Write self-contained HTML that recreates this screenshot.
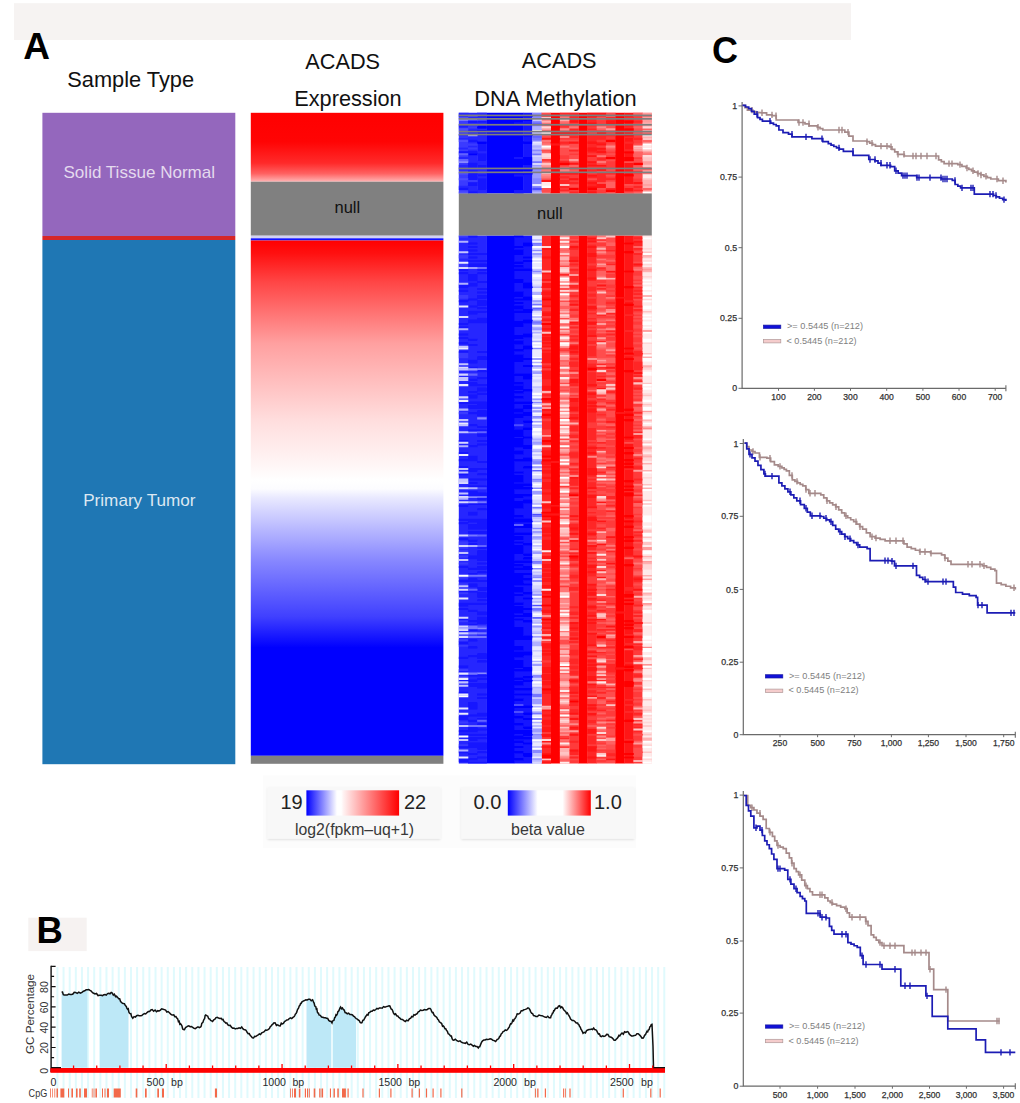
<!DOCTYPE html>
<html><head><meta charset="utf-8"><style>html,body{margin:0;padding:0;background:#fff;width:1020px;height:1103px;overflow:hidden}svg{display:block}</style></head>
<body><svg width="1020" height="1103" viewBox="0 0 1020 1103" font-family="'Liberation Sans', sans-serif"><rect x="14" y="3.2" width="837" height="36.8" fill="#f6f3f2"/><text x="23.2" y="59" font-size="37" font-weight="bold" fill="#000">A</text><text x="67.3" y="86.8" font-size="21.8" fill="#111">Sample Type</text><text x="305.3" y="68.6" font-size="21.7" fill="#111">ACADS</text><text x="294.3" y="106.2" font-size="21.7" fill="#111">Expression</text><text x="521.8" y="68.4" font-size="21.7" fill="#111">ACADS</text><text x="474.3" y="105.7" font-size="21.8" fill="#111">DNA Methylation</text><rect x="42.4" y="112.8" width="192.9" height="123.2" fill="#9467bd"/><rect x="42.4" y="236" width="192.9" height="4" fill="#d62728"/><rect x="42.4" y="240" width="192.9" height="524.2" fill="#1f77b4"/><text x="63.5" y="177.8" font-size="16.6" textLength="151.6" lengthAdjust="spacingAndGlyphs" fill="#e4daee">Solid Tissue Normal</text><text x="83.2" y="505.9" font-size="16.6" textLength="112.3" lengthAdjust="spacingAndGlyphs" fill="#dce8f2">Primary Tumor</text><defs><linearGradient id="gN" x1="0" y1="0" x2="0" y2="1"><stop offset="0" stop-color="#ff0000"/><stop offset="0.42" stop-color="#ff0404"/><stop offset="0.73" stop-color="#ff2a2a"/><stop offset="0.88" stop-color="#ff6060"/><stop offset="1" stop-color="#ffb4b4"/></linearGradient><linearGradient id="gT" gradientUnits="userSpaceOnUse" x1="0" y1="240.5" x2="0" y2="755.8"><stop offset="0" stop-color="#ff0000"/><stop offset="0.025" stop-color="#ff1010"/><stop offset="0.08" stop-color="#ff4545"/><stop offset="0.2" stop-color="#ffa0a0"/><stop offset="0.35" stop-color="#ffdede"/><stop offset="0.43" stop-color="#fff4f4"/><stop offset="0.465" stop-color="#ffffff"/><stop offset="0.482" stop-color="#fcfcff"/><stop offset="0.50" stop-color="#e8e8ff"/><stop offset="0.62" stop-color="#8888ff"/><stop offset="0.73" stop-color="#4040ff"/><stop offset="0.79" stop-color="#0000ff"/><stop offset="1" stop-color="#0000ff"/></linearGradient><linearGradient id="lg1" x1="0" y1="0" x2="1" y2="0"><stop offset="0" stop-color="#0000ff"/><stop offset="0.33" stop-color="#ffffff"/><stop offset="0.375" stop-color="#ffffff"/><stop offset="0.4" stop-color="#fff2f2"/><stop offset="1" stop-color="#ff0000"/></linearGradient><linearGradient id="lg2" x1="0" y1="0" x2="1" y2="0"><stop offset="0" stop-color="#0000ff"/><stop offset="0.36" stop-color="#ffffff"/><stop offset="0.66" stop-color="#ffffff"/><stop offset="1" stop-color="#ff0000"/></linearGradient><filter id="bl" x="-2%" y="-2%" width="104%" height="104%"><feGaussianBlur stdDeviation="0.45"/></filter><filter id="sh" x="-10%" y="-10%" width="120%" height="130%"><feDropShadow dx="0" dy="1" stdDeviation="1" flood-color="#000" flood-opacity="0.12"/></filter></defs><rect x="250.8" y="112.8" width="192.6" height="68.9" fill="url(#gN)"/><rect x="250.8" y="181.7" width="192.6" height="54" fill="#808080"/><rect x="250.8" y="235.7" width="192.6" height="2.6" fill="#d0d0f4"/><rect x="250.8" y="238.3" width="192.6" height="2.2" fill="#1010ff"/><rect x="250.8" y="240.5" width="192.6" height="515.3" fill="url(#gT)"/><rect x="250.8" y="755.8" width="192.6" height="8" fill="#808080"/><text x="334.5" y="212.9" font-size="16.5" fill="#111">null</text><g filter="url(#bl)"><path fill="#3b3bff" d="M458.8 112.8h9.49v80.7h-9.49z"/><path fill="#2727ff" d="M467.99 112.8h9.49v80.7h-9.49zM458.8 235.5h9.49v528h-9.49zM467.99 235.5h9.49v528h-9.49zM477.18 235.5h9.49v528h-9.49z"/><path fill="#1414ff" d="M477.18 112.8h9.49v80.7h-9.49zM523.13 112.8h9.49v80.7h-9.49zM513.94 235.5h9.49v528h-9.49zM523.13 235.5h9.49v528h-9.49z"/><path fill="#0000ff" d="M486.37 112.8h9.49v80.7h-9.49zM495.56 112.8h9.49v80.7h-9.49zM504.75 112.8h9.49v80.7h-9.49zM513.94 112.8h9.49v80.7h-9.49zM486.37 235.5h9.49v528h-9.49zM495.56 235.5h9.49v528h-9.49zM504.75 235.5h9.49v528h-9.49z"/><path fill="#9d9dff" d="M532.32 112.8h9.49v80.7h-9.49z"/><path fill="#ff6262" d="M541.51 112.8h9.49v80.7h-9.49z"/><path fill="#ff0000" d="M550.7 112.8h9.49v80.7h-9.49zM578.28 112.8h9.49v80.7h-9.49zM615.04 112.8h9.49v80.7h-9.49zM550.7 235.5h9.49v528h-9.49zM578.28 235.5h9.49v528h-9.49zM615.04 235.5h9.49v528h-9.49z"/><path fill="#ff3b3b" d="M559.9 112.8h9.49v80.7h-9.49zM569.09 112.8h9.49v80.7h-9.49zM605.85 112.8h9.49v80.7h-9.49zM633.42 112.8h9.49v80.7h-9.49zM569.09 235.5h9.49v528h-9.49zM633.42 235.5h9.49v528h-9.49z"/><path fill="#ff2727" d="M587.47 112.8h9.49v80.7h-9.49zM596.66 112.8h9.49v80.7h-9.49zM541.51 235.5h9.49v528h-9.49zM587.47 235.5h9.49v528h-9.49z"/><path fill="#ff1414" d="M624.23 112.8h9.49v80.7h-9.49zM624.23 235.5h9.49v528h-9.49z"/><path fill="#ff8989" d="M642.61 112.8h9.19v80.7h-9.19z"/><path fill="#b1b1ff" d="M532.32 235.5h9.49v528h-9.49z"/><path fill="#ff7676" d="M559.9 235.5h9.49v528h-9.49z"/><path fill="#ff4e4e" d="M596.66 235.5h9.49v528h-9.49zM605.85 235.5h9.49v528h-9.49z"/><path fill="#ffc4c4" d="M642.61 235.5h9.19v528h-9.19z"/><path fill="#2727ff" d="M458.8 112.8h9.49v2.22h-9.49zM477.18 112.8h9.49v2.22h-9.49zM477.18 116.64h9.49v2.22h-9.49zM477.18 122.41h9.49v2.22h-9.49zM458.8 126.25h9.49v2.22h-9.49zM477.18 128.17h9.49v2.22h-9.49zM458.8 133.94h9.49v2.22h-9.49zM477.18 135.86h9.49v2.22h-9.49zM458.8 137.78h9.49v2.22h-9.49zM477.18 137.78h9.49v2.22h-9.49zM477.18 139.7h9.49v2.22h-9.49zM458.8 147.39h9.49v2.22h-9.49zM477.18 151.23h9.49v2.22h-9.49zM458.8 156.99h9.49v2.22h-9.49zM477.18 160.84h9.49v2.22h-9.49zM477.18 162.76h9.49v2.22h-9.49zM458.8 164.68h9.49v2.22h-9.49zM458.8 166.6h9.49v2.22h-9.49zM458.8 168.52h9.49v2.22h-9.49zM477.18 168.52h9.49v2.22h-9.49zM477.18 170.44h9.49v2.22h-9.49zM477.18 172.36h9.49v2.22h-9.49zM477.18 176.21h9.49v2.22h-9.49zM458.8 185.81h9.49v2.22h-9.49zM477.18 189.66h9.49v2.22h-9.49zM477.18 191.58h9.49v1.92h-9.49z"/><path fill="#8989ff" d="M532.32 112.8h9.49v2.22h-9.49zM532.32 114.72h9.49v2.22h-9.49zM532.32 116.64h9.49v2.22h-9.49zM458.8 118.56h9.49v2.22h-9.49zM467.99 118.56h9.49v2.22h-9.49zM532.32 120.49h9.49v2.22h-9.49zM532.32 133.94h9.49v2.22h-9.49zM532.32 139.7h9.49v2.22h-9.49zM532.32 149.31h9.49v2.22h-9.49zM458.8 160.84h9.49v2.22h-9.49zM532.32 168.52h9.49v2.22h-9.49zM532.32 178.13h9.49v2.22h-9.49zM532.32 180.05h9.49v2.22h-9.49zM532.32 181.97h9.49v2.22h-9.49zM532.32 185.81h9.49v2.22h-9.49zM532.32 189.66h9.49v2.22h-9.49zM532.32 244.24h9.49v2.05h-9.49zM532.32 249.49h9.49v2.05h-9.49zM477.18 266.97h9.49v2.05h-9.49zM532.32 270.47h9.49v2.05h-9.49zM532.32 308.93h9.49v2.05h-9.49zM532.32 322.92h9.49v2.05h-9.49zM532.32 347.39h9.49v2.05h-9.49zM532.32 364.88h9.49v2.05h-9.49zM477.18 368.37h9.49v2.05h-9.49zM532.32 398.1h9.49v2.05h-9.49zM532.32 401.59h9.49v2.05h-9.49zM532.32 415.58h9.49v2.05h-9.49zM477.18 417.33h9.49v2.05h-9.49zM532.32 420.82h9.49v2.05h-9.49zM467.99 431.31h9.49v2.05h-9.49zM532.32 461.04h9.49v2.05h-9.49zM532.32 462.78h9.49v2.05h-9.49zM532.32 478.52h9.49v2.05h-9.49zM532.32 487.26h9.49v2.05h-9.49zM467.99 496h9.49v2.05h-9.49zM477.18 496h9.49v2.05h-9.49zM532.32 527.47h9.49v2.05h-9.49zM532.32 562.44h9.49v2.05h-9.49zM532.32 567.69h9.49v2.05h-9.49zM532.32 576.43h9.49v2.05h-9.49zM532.32 593.91h9.49v2.05h-9.49zM532.32 609.65h9.49v2.05h-9.49zM477.18 627.13h9.49v2.05h-9.49zM467.99 632.37h9.49v2.05h-9.49zM532.32 635.87h9.49v2.05h-9.49zM477.18 672.59h9.49v2.05h-9.49zM532.32 674.33h9.49v2.05h-9.49zM532.32 676.08h9.49v2.05h-9.49zM532.32 733.78h9.49v2.05h-9.49zM532.32 749.51h9.49v2.05h-9.49zM532.32 751.26h9.49v2.05h-9.49z"/><path fill="#ff4e4e" d="M541.51 112.8h9.49v2.22h-9.49zM605.85 112.8h9.49v2.22h-9.49zM596.66 116.64h9.49v2.22h-9.49zM596.66 118.56h9.49v2.22h-9.49zM569.09 124.33h9.49v2.22h-9.49zM596.66 124.33h9.49v2.22h-9.49zM605.85 124.33h9.49v2.22h-9.49zM633.42 124.33h9.49v2.22h-9.49zM605.85 126.25h9.49v2.22h-9.49zM633.42 128.17h9.49v2.22h-9.49zM559.9 130.09h9.49v2.22h-9.49zM633.42 130.09h9.49v2.22h-9.49zM633.42 132.01h9.49v2.22h-9.49zM541.51 135.86h9.49v2.22h-9.49zM559.9 139.7h9.49v2.22h-9.49zM569.09 139.7h9.49v2.22h-9.49zM569.09 143.54h9.49v2.22h-9.49zM605.85 143.54h9.49v2.22h-9.49zM633.42 143.54h9.49v2.22h-9.49zM569.09 145.46h9.49v2.22h-9.49zM559.9 147.39h9.49v2.22h-9.49zM541.51 149.31h9.49v2.22h-9.49zM559.9 149.31h9.49v2.22h-9.49zM605.85 149.31h9.49v2.22h-9.49zM559.9 151.23h9.49v2.22h-9.49zM569.09 151.23h9.49v2.22h-9.49zM559.9 153.15h9.49v2.22h-9.49zM605.85 153.15h9.49v2.22h-9.49zM569.09 155.07h9.49v2.22h-9.49zM569.09 156.99h9.49v2.22h-9.49zM559.9 158.91h9.49v2.22h-9.49zM605.85 158.91h9.49v2.22h-9.49zM633.42 158.91h9.49v2.22h-9.49zM569.09 160.84h9.49v2.22h-9.49zM624.23 160.84h9.49v2.22h-9.49zM633.42 160.84h9.49v2.22h-9.49zM596.66 162.76h9.49v2.22h-9.49zM633.42 164.68h9.49v2.22h-9.49zM569.09 168.52h9.49v2.22h-9.49zM605.85 168.52h9.49v2.22h-9.49zM596.66 170.44h9.49v2.22h-9.49zM605.85 174.29h9.49v2.22h-9.49zM633.42 174.29h9.49v2.22h-9.49zM633.42 176.21h9.49v2.22h-9.49zM541.51 178.13h9.49v2.22h-9.49zM587.47 178.13h9.49v2.22h-9.49zM605.85 180.05h9.49v2.22h-9.49zM596.66 181.97h9.49v2.22h-9.49zM569.09 183.89h9.49v2.22h-9.49zM624.23 183.89h9.49v2.22h-9.49zM633.42 183.89h9.49v2.22h-9.49zM569.09 185.81h9.49v2.22h-9.49zM541.51 187.74h9.49v2.22h-9.49zM596.66 187.74h9.49v2.22h-9.49zM541.51 189.66h9.49v2.22h-9.49zM605.85 191.58h9.49v1.92h-9.49zM624.23 191.58h9.49v1.92h-9.49zM569.09 239h9.49v2.05h-9.49zM569.09 242.49h9.49v2.05h-9.49zM633.42 251.24h9.49v2.05h-9.49zM633.42 261.73h9.49v2.05h-9.49zM559.9 265.22h9.49v2.05h-9.49zM569.09 266.97h9.49v2.05h-9.49zM633.42 275.71h9.49v2.05h-9.49zM633.42 277.46h9.49v2.05h-9.49zM541.51 280.96h9.49v2.05h-9.49zM633.42 280.96h9.49v2.05h-9.49zM633.42 294.94h9.49v2.05h-9.49zM569.09 298.44h9.49v2.05h-9.49zM633.42 298.44h9.49v2.05h-9.49zM559.9 300.19h9.49v2.05h-9.49zM569.09 305.43h9.49v2.05h-9.49zM633.42 307.18h9.49v2.05h-9.49zM569.09 310.68h9.49v2.05h-9.49zM569.09 312.43h9.49v2.05h-9.49zM633.42 312.43h9.49v2.05h-9.49zM633.42 315.92h9.49v2.05h-9.49zM559.9 317.67h9.49v2.05h-9.49zM633.42 319.42h9.49v2.05h-9.49zM569.09 324.67h9.49v2.05h-9.49zM633.42 324.67h9.49v2.05h-9.49zM633.42 326.41h9.49v2.05h-9.49zM569.09 328.16h9.49v2.05h-9.49zM633.42 331.66h9.49v2.05h-9.49zM569.09 333.41h9.49v2.05h-9.49zM633.42 335.16h9.49v2.05h-9.49zM633.42 342.15h9.49v2.05h-9.49zM559.9 347.39h9.49v2.05h-9.49zM633.42 347.39h9.49v2.05h-9.49zM569.09 354.39h9.49v2.05h-9.49zM633.42 370.12h9.49v2.05h-9.49zM569.09 377.12h9.49v2.05h-9.49zM559.9 382.36h9.49v2.05h-9.49zM559.9 385.86h9.49v2.05h-9.49zM569.09 385.86h9.49v2.05h-9.49zM559.9 389.35h9.49v2.05h-9.49zM633.42 389.35h9.49v2.05h-9.49zM633.42 392.85h9.49v2.05h-9.49zM569.09 396.35h9.49v2.05h-9.49zM633.42 396.35h9.49v2.05h-9.49zM633.42 410.33h9.49v2.05h-9.49zM569.09 412.08h9.49v2.05h-9.49zM633.42 417.33h9.49v2.05h-9.49zM633.42 422.57h9.49v2.05h-9.49zM633.42 426.07h9.49v2.05h-9.49zM569.09 431.31h9.49v2.05h-9.49zM559.9 438.31h9.49v2.05h-9.49zM633.42 438.31h9.49v2.05h-9.49zM624.23 441.8h9.49v2.05h-9.49zM569.09 443.55h9.49v2.05h-9.49zM633.42 447.05h9.49v2.05h-9.49zM569.09 448.8h9.49v2.05h-9.49zM633.42 452.29h9.49v2.05h-9.49zM559.9 454.04h9.49v2.05h-9.49zM633.42 455.79h9.49v2.05h-9.49zM569.09 459.29h9.49v2.05h-9.49zM569.09 461.04h9.49v2.05h-9.49zM633.42 462.78h9.49v2.05h-9.49zM559.9 466.28h9.49v2.05h-9.49zM569.09 485.51h9.49v2.05h-9.49zM633.42 485.51h9.49v2.05h-9.49zM633.42 487.26h9.49v2.05h-9.49zM569.09 489.01h9.49v2.05h-9.49zM569.09 490.76h9.49v2.05h-9.49zM633.42 497.75h9.49v2.05h-9.49zM569.09 499.5h9.49v2.05h-9.49zM569.09 504.75h9.49v2.05h-9.49zM633.42 508.24h9.49v2.05h-9.49zM633.42 509.99h9.49v2.05h-9.49zM633.42 511.74h9.49v2.05h-9.49zM633.42 515.24h9.49v2.05h-9.49zM559.9 516.98h9.49v2.05h-9.49zM633.42 525.73h9.49v2.05h-9.49zM559.9 537.96h9.49v2.05h-9.49zM633.42 537.96h9.49v2.05h-9.49zM559.9 541.46h9.49v2.05h-9.49zM633.42 541.46h9.49v2.05h-9.49zM587.47 543.21h9.49v2.05h-9.49zM633.42 548.45h9.49v2.05h-9.49zM587.47 550.2h9.49v2.05h-9.49zM559.9 551.95h9.49v2.05h-9.49zM559.9 555.45h9.49v2.05h-9.49zM633.42 558.94h9.49v2.05h-9.49zM569.09 560.69h9.49v2.05h-9.49zM633.42 560.69h9.49v2.05h-9.49zM633.42 564.19h9.49v2.05h-9.49zM633.42 565.94h9.49v2.05h-9.49zM569.09 569.43h9.49v2.05h-9.49zM633.42 569.43h9.49v2.05h-9.49zM633.42 574.68h9.49v2.05h-9.49zM559.9 579.92h9.49v2.05h-9.49zM633.42 583.42h9.49v2.05h-9.49zM569.09 590.41h9.49v2.05h-9.49zM633.42 590.41h9.49v2.05h-9.49zM633.42 599.16h9.49v2.05h-9.49zM633.42 606.15h9.49v2.05h-9.49zM633.42 607.9h9.49v2.05h-9.49zM633.42 613.14h9.49v2.05h-9.49zM569.09 614.89h9.49v2.05h-9.49zM633.42 616.64h9.49v2.05h-9.49zM569.09 618.39h9.49v2.05h-9.49zM569.09 620.14h9.49v2.05h-9.49zM633.42 627.13h9.49v2.05h-9.49zM633.42 634.12h9.49v2.05h-9.49zM559.9 639.37h9.49v2.05h-9.49zM559.9 641.12h9.49v2.05h-9.49zM559.9 642.86h9.49v2.05h-9.49zM569.09 642.86h9.49v2.05h-9.49zM559.9 648.11h9.49v2.05h-9.49zM587.47 648.11h9.49v2.05h-9.49zM624.23 648.11h9.49v2.05h-9.49zM587.47 656.85h9.49v2.05h-9.49zM633.42 656.85h9.49v2.05h-9.49zM559.9 665.59h9.49v2.05h-9.49zM633.42 669.09h9.49v2.05h-9.49zM569.09 683.08h9.49v2.05h-9.49zM633.42 686.57h9.49v2.05h-9.49zM633.42 690.07h9.49v2.05h-9.49zM633.42 697.06h9.49v2.05h-9.49zM633.42 700.56h9.49v2.05h-9.49zM559.9 707.55h9.49v2.05h-9.49zM633.42 711.05h9.49v2.05h-9.49zM569.09 714.55h9.49v2.05h-9.49zM569.09 719.79h9.49v2.05h-9.49zM569.09 721.54h9.49v2.05h-9.49zM633.42 733.78h9.49v2.05h-9.49zM633.42 747.76h9.49v2.05h-9.49zM633.42 749.51h9.49v2.05h-9.49zM633.42 751.26h9.49v2.05h-9.49zM633.42 753.01h9.49v2.05h-9.49zM569.09 754.76h9.49v2.05h-9.49zM633.42 754.76h9.49v2.05h-9.49zM569.09 758.25h9.49v2.05h-9.49z"/><path fill="#ff2727" d="M559.9 112.8h9.49v2.22h-9.49zM569.09 112.8h9.49v2.22h-9.49zM541.51 114.72h9.49v2.22h-9.49zM569.09 114.72h9.49v2.22h-9.49zM569.09 116.64h9.49v2.22h-9.49zM605.85 116.64h9.49v2.22h-9.49zM624.23 116.64h9.49v2.22h-9.49zM569.09 118.56h9.49v2.22h-9.49zM605.85 118.56h9.49v2.22h-9.49zM624.23 118.56h9.49v2.22h-9.49zM633.42 120.49h9.49v2.22h-9.49zM559.9 124.33h9.49v2.22h-9.49zM624.23 126.25h9.49v2.22h-9.49zM569.09 128.17h9.49v2.22h-9.49zM605.85 133.94h9.49v2.22h-9.49zM569.09 135.86h9.49v2.22h-9.49zM624.23 135.86h9.49v2.22h-9.49zM633.42 137.78h9.49v2.22h-9.49zM559.9 141.62h9.49v2.22h-9.49zM624.23 141.62h9.49v2.22h-9.49zM569.09 149.31h9.49v2.22h-9.49zM624.23 149.31h9.49v2.22h-9.49zM559.9 160.84h9.49v2.22h-9.49zM633.42 170.44h9.49v2.22h-9.49zM605.85 172.36h9.49v2.22h-9.49zM559.9 176.21h9.49v2.22h-9.49zM605.85 178.13h9.49v2.22h-9.49zM559.9 180.05h9.49v2.22h-9.49zM559.9 181.97h9.49v2.22h-9.49zM569.09 181.97h9.49v2.22h-9.49zM559.9 185.81h9.49v2.22h-9.49zM633.42 185.81h9.49v2.22h-9.49zM605.85 187.74h9.49v2.22h-9.49zM559.9 189.66h9.49v2.22h-9.49zM633.42 189.66h9.49v2.22h-9.49zM569.09 191.58h9.49v1.92h-9.49zM633.42 237.25h9.49v2.05h-9.49zM596.66 239h9.49v2.05h-9.49zM569.09 240.75h9.49v2.05h-9.49zM633.42 242.49h9.49v2.05h-9.49zM633.42 244.24h9.49v2.05h-9.49zM569.09 247.74h9.49v2.05h-9.49zM633.42 247.74h9.49v2.05h-9.49zM605.85 249.49h9.49v2.05h-9.49zM633.42 252.98h9.49v2.05h-9.49zM569.09 256.48h9.49v2.05h-9.49zM569.09 258.23h9.49v2.05h-9.49zM569.09 263.47h9.49v2.05h-9.49zM605.85 263.47h9.49v2.05h-9.49zM596.66 266.97h9.49v2.05h-9.49zM569.09 268.72h9.49v2.05h-9.49zM559.9 273.96h9.49v2.05h-9.49zM569.09 275.71h9.49v2.05h-9.49zM569.09 277.46h9.49v2.05h-9.49zM569.09 279.21h9.49v2.05h-9.49zM569.09 284.45h9.49v2.05h-9.49zM569.09 286.2h9.49v2.05h-9.49zM633.42 286.2h9.49v2.05h-9.49zM559.9 287.95h9.49v2.05h-9.49zM596.66 287.95h9.49v2.05h-9.49zM633.42 289.7h9.49v2.05h-9.49zM633.42 293.2h9.49v2.05h-9.49zM569.09 294.94h9.49v2.05h-9.49zM633.42 296.69h9.49v2.05h-9.49zM569.09 300.19h9.49v2.05h-9.49zM624.23 300.19h9.49v2.05h-9.49zM605.85 301.94h9.49v2.05h-9.49zM633.42 305.43h9.49v2.05h-9.49zM569.09 308.93h9.49v2.05h-9.49zM633.42 308.93h9.49v2.05h-9.49zM605.85 312.43h9.49v2.05h-9.49zM596.66 314.18h9.49v2.05h-9.49zM624.23 314.18h9.49v2.05h-9.49zM569.09 322.92h9.49v2.05h-9.49zM569.09 326.41h9.49v2.05h-9.49zM605.85 329.91h9.49v2.05h-9.49zM624.23 329.91h9.49v2.05h-9.49zM605.85 333.41h9.49v2.05h-9.49zM569.09 335.16h9.49v2.05h-9.49zM569.09 338.65h9.49v2.05h-9.49zM596.66 340.4h9.49v2.05h-9.49zM569.09 343.9h9.49v2.05h-9.49zM569.09 349.14h9.49v2.05h-9.49zM633.42 350.89h9.49v2.05h-9.49zM569.09 352.64h9.49v2.05h-9.49zM633.42 352.64h9.49v2.05h-9.49zM624.23 354.39h9.49v2.05h-9.49zM633.42 354.39h9.49v2.05h-9.49zM569.09 357.88h9.49v2.05h-9.49zM569.09 361.38h9.49v2.05h-9.49zM633.42 361.38h9.49v2.05h-9.49zM569.09 363.13h9.49v2.05h-9.49zM596.66 363.13h9.49v2.05h-9.49zM633.42 363.13h9.49v2.05h-9.49zM569.09 364.88h9.49v2.05h-9.49zM633.42 364.88h9.49v2.05h-9.49zM596.66 366.63h9.49v2.05h-9.49zM633.42 366.63h9.49v2.05h-9.49zM633.42 368.37h9.49v2.05h-9.49zM569.09 370.12h9.49v2.05h-9.49zM596.66 371.87h9.49v2.05h-9.49zM596.66 375.37h9.49v2.05h-9.49zM633.42 375.37h9.49v2.05h-9.49zM633.42 380.61h9.49v2.05h-9.49zM569.09 382.36h9.49v2.05h-9.49zM569.09 384.11h9.49v2.05h-9.49zM633.42 387.61h9.49v2.05h-9.49zM605.85 391.1h9.49v2.05h-9.49zM596.66 398.1h9.49v2.05h-9.49zM569.09 401.59h9.49v2.05h-9.49zM605.85 401.59h9.49v2.05h-9.49zM569.09 403.34h9.49v2.05h-9.49zM569.09 405.09h9.49v2.05h-9.49zM596.66 405.09h9.49v2.05h-9.49zM605.85 408.59h9.49v2.05h-9.49zM569.09 410.33h9.49v2.05h-9.49zM633.42 412.08h9.49v2.05h-9.49zM569.09 413.83h9.49v2.05h-9.49zM596.66 413.83h9.49v2.05h-9.49zM569.09 415.58h9.49v2.05h-9.49zM569.09 426.07h9.49v2.05h-9.49zM605.85 426.07h9.49v2.05h-9.49zM569.09 427.82h9.49v2.05h-9.49zM569.09 429.57h9.49v2.05h-9.49zM633.42 431.31h9.49v2.05h-9.49zM569.09 434.81h9.49v2.05h-9.49zM633.42 434.81h9.49v2.05h-9.49zM569.09 436.56h9.49v2.05h-9.49zM633.42 436.56h9.49v2.05h-9.49zM569.09 440.06h9.49v2.05h-9.49zM624.23 440.06h9.49v2.05h-9.49zM596.66 441.8h9.49v2.05h-9.49zM596.66 447.05h9.49v2.05h-9.49zM569.09 452.29h9.49v2.05h-9.49zM569.09 454.04h9.49v2.05h-9.49zM569.09 455.79h9.49v2.05h-9.49zM633.42 457.54h9.49v2.05h-9.49zM569.09 462.78h9.49v2.05h-9.49zM605.85 466.28h9.49v2.05h-9.49zM633.42 466.28h9.49v2.05h-9.49zM569.09 468.03h9.49v2.05h-9.49zM624.23 468.03h9.49v2.05h-9.49zM633.42 468.03h9.49v2.05h-9.49zM569.09 471.53h9.49v2.05h-9.49zM596.66 471.53h9.49v2.05h-9.49zM569.09 478.52h9.49v2.05h-9.49zM633.42 478.52h9.49v2.05h-9.49zM569.09 480.27h9.49v2.05h-9.49zM569.09 482.02h9.49v2.05h-9.49zM569.09 483.76h9.49v2.05h-9.49zM569.09 487.26h9.49v2.05h-9.49zM624.23 490.76h9.49v2.05h-9.49zM569.09 492.51h9.49v2.05h-9.49zM633.42 494.25h9.49v2.05h-9.49zM605.85 496h9.49v2.05h-9.49zM605.85 497.75h9.49v2.05h-9.49zM633.42 501.25h9.49v2.05h-9.49zM605.85 504.75h9.49v2.05h-9.49zM605.85 509.99h9.49v2.05h-9.49zM569.09 518.73h9.49v2.05h-9.49zM624.23 518.73h9.49v2.05h-9.49zM633.42 520.48h9.49v2.05h-9.49zM569.09 523.98h9.49v2.05h-9.49zM569.09 525.73h9.49v2.05h-9.49zM596.66 527.47h9.49v2.05h-9.49zM569.09 529.22h9.49v2.05h-9.49zM633.42 530.97h9.49v2.05h-9.49zM633.42 534.47h9.49v2.05h-9.49zM633.42 539.71h9.49v2.05h-9.49zM569.09 548.45h9.49v2.05h-9.49zM605.85 550.2h9.49v2.05h-9.49zM569.09 551.95h9.49v2.05h-9.49zM624.23 555.45h9.49v2.05h-9.49zM569.09 558.94h9.49v2.05h-9.49zM569.09 564.19h9.49v2.05h-9.49zM596.66 569.43h9.49v2.05h-9.49zM569.09 574.68h9.49v2.05h-9.49zM569.09 576.43h9.49v2.05h-9.49zM633.42 576.43h9.49v2.05h-9.49zM633.42 579.92h9.49v2.05h-9.49zM569.09 586.92h9.49v2.05h-9.49zM624.23 586.92h9.49v2.05h-9.49zM569.09 588.67h9.49v2.05h-9.49zM605.85 588.67h9.49v2.05h-9.49zM624.23 588.67h9.49v2.05h-9.49zM624.23 597.41h9.49v2.05h-9.49zM596.66 599.16h9.49v2.05h-9.49zM624.23 600.9h9.49v2.05h-9.49zM605.85 602.65h9.49v2.05h-9.49zM633.42 604.4h9.49v2.05h-9.49zM569.09 606.15h9.49v2.05h-9.49zM596.66 609.65h9.49v2.05h-9.49zM569.09 611.39h9.49v2.05h-9.49zM633.42 611.39h9.49v2.05h-9.49zM569.09 613.14h9.49v2.05h-9.49zM633.42 614.89h9.49v2.05h-9.49zM569.09 616.64h9.49v2.05h-9.49zM569.09 623.63h9.49v2.05h-9.49zM569.09 625.38h9.49v2.05h-9.49zM569.09 628.88h9.49v2.05h-9.49zM596.66 628.88h9.49v2.05h-9.49zM605.85 628.88h9.49v2.05h-9.49zM633.42 628.88h9.49v2.05h-9.49zM633.42 630.63h9.49v2.05h-9.49zM569.09 632.37h9.49v2.05h-9.49zM569.09 634.12h9.49v2.05h-9.49zM624.23 634.12h9.49v2.05h-9.49zM633.42 635.87h9.49v2.05h-9.49zM596.66 637.62h9.49v2.05h-9.49zM605.85 639.37h9.49v2.05h-9.49zM569.09 641.12h9.49v2.05h-9.49zM624.23 642.86h9.49v2.05h-9.49zM633.42 642.86h9.49v2.05h-9.49zM596.66 646.36h9.49v2.05h-9.49zM605.85 646.36h9.49v2.05h-9.49zM633.42 646.36h9.49v2.05h-9.49zM633.42 648.11h9.49v2.05h-9.49zM569.09 649.86h9.49v2.05h-9.49zM569.09 651.61h9.49v2.05h-9.49zM596.66 651.61h9.49v2.05h-9.49zM569.09 653.35h9.49v2.05h-9.49zM569.09 658.6h9.49v2.05h-9.49zM633.42 658.6h9.49v2.05h-9.49zM569.09 660.35h9.49v2.05h-9.49zM569.09 662.1h9.49v2.05h-9.49zM624.23 662.1h9.49v2.05h-9.49zM596.66 663.84h9.49v2.05h-9.49zM605.85 663.84h9.49v2.05h-9.49zM633.42 663.84h9.49v2.05h-9.49zM569.09 665.59h9.49v2.05h-9.49zM605.85 665.59h9.49v2.05h-9.49zM633.42 665.59h9.49v2.05h-9.49zM569.09 667.34h9.49v2.05h-9.49zM605.85 667.34h9.49v2.05h-9.49zM633.42 667.34h9.49v2.05h-9.49zM605.85 669.09h9.49v2.05h-9.49zM569.09 670.84h9.49v2.05h-9.49zM605.85 670.84h9.49v2.05h-9.49zM569.09 672.59h9.49v2.05h-9.49zM633.42 674.33h9.49v2.05h-9.49zM633.42 676.08h9.49v2.05h-9.49zM596.66 679.58h9.49v2.05h-9.49zM569.09 681.33h9.49v2.05h-9.49zM569.09 686.57h9.49v2.05h-9.49zM596.66 686.57h9.49v2.05h-9.49zM605.85 686.57h9.49v2.05h-9.49zM569.09 688.32h9.49v2.05h-9.49zM569.09 690.07h9.49v2.05h-9.49zM596.66 691.82h9.49v2.05h-9.49zM569.09 695.31h9.49v2.05h-9.49zM596.66 697.06h9.49v2.05h-9.49zM569.09 698.81h9.49v2.05h-9.49zM624.23 698.81h9.49v2.05h-9.49zM605.85 700.56h9.49v2.05h-9.49zM569.09 702.31h9.49v2.05h-9.49zM569.09 704.06h9.49v2.05h-9.49zM624.23 704.06h9.49v2.05h-9.49zM569.09 709.3h9.49v2.05h-9.49zM596.66 709.3h9.49v2.05h-9.49zM569.09 711.05h9.49v2.05h-9.49zM624.23 711.05h9.49v2.05h-9.49zM633.42 712.8h9.49v2.05h-9.49zM605.85 719.79h9.49v2.05h-9.49zM633.42 723.29h9.49v2.05h-9.49zM633.42 726.78h9.49v2.05h-9.49zM569.09 728.53h9.49v2.05h-9.49zM633.42 730.28h9.49v2.05h-9.49zM559.9 737.27h9.49v2.05h-9.49zM624.23 739.02h9.49v2.05h-9.49zM569.09 740.77h9.49v2.05h-9.49zM569.09 751.26h9.49v2.05h-9.49zM569.09 753.01h9.49v2.05h-9.49zM605.85 753.01h9.49v2.05h-9.49zM605.85 754.76h9.49v2.05h-9.49zM569.09 756.51h9.49v2.05h-9.49z"/><path fill="#ff1414" d="M587.47 112.8h9.49v2.22h-9.49zM596.66 112.8h9.49v2.22h-9.49zM587.47 114.72h9.49v2.22h-9.49zM569.09 120.49h9.49v2.22h-9.49zM605.85 120.49h9.49v2.22h-9.49zM587.47 122.41h9.49v2.22h-9.49zM605.85 122.41h9.49v2.22h-9.49zM559.9 132.01h9.49v2.22h-9.49zM569.09 132.01h9.49v2.22h-9.49zM596.66 132.01h9.49v2.22h-9.49zM559.9 133.94h9.49v2.22h-9.49zM541.51 137.78h9.49v2.22h-9.49zM569.09 141.62h9.49v2.22h-9.49zM587.47 141.62h9.49v2.22h-9.49zM550.7 143.54h9.49v2.22h-9.49zM596.66 143.54h9.49v2.22h-9.49zM587.47 147.39h9.49v2.22h-9.49zM596.66 147.39h9.49v2.22h-9.49zM587.47 149.31h9.49v2.22h-9.49zM596.66 151.23h9.49v2.22h-9.49zM587.47 155.07h9.49v2.22h-9.49zM587.47 160.84h9.49v2.22h-9.49zM569.09 162.76h9.49v2.22h-9.49zM587.47 164.68h9.49v2.22h-9.49zM596.66 164.68h9.49v2.22h-9.49zM596.66 168.52h9.49v2.22h-9.49zM550.7 170.44h9.49v2.22h-9.49zM559.9 172.36h9.49v2.22h-9.49zM569.09 172.36h9.49v2.22h-9.49zM587.47 174.29h9.49v2.22h-9.49zM569.09 178.13h9.49v2.22h-9.49zM541.51 180.05h9.49v2.22h-9.49zM587.47 181.97h9.49v2.22h-9.49zM633.42 181.97h9.49v2.22h-9.49zM596.66 183.89h9.49v2.22h-9.49zM587.47 185.81h9.49v2.22h-9.49zM596.66 185.81h9.49v2.22h-9.49zM587.47 191.58h9.49v1.92h-9.49zM587.47 237.25h9.49v2.05h-9.49zM587.47 240.75h9.49v2.05h-9.49zM633.42 240.75h9.49v2.05h-9.49zM569.09 245.99h9.49v2.05h-9.49zM587.47 245.99h9.49v2.05h-9.49zM541.51 247.74h9.49v2.05h-9.49zM587.47 252.98h9.49v2.05h-9.49zM587.47 254.73h9.49v2.05h-9.49zM541.51 256.48h9.49v2.05h-9.49zM569.09 259.98h9.49v2.05h-9.49zM633.42 263.47h9.49v2.05h-9.49zM587.47 268.72h9.49v2.05h-9.49zM605.85 270.47h9.49v2.05h-9.49zM541.51 272.22h9.49v2.05h-9.49zM587.47 277.46h9.49v2.05h-9.49zM541.51 279.21h9.49v2.05h-9.49zM541.51 282.71h9.49v2.05h-9.49zM541.51 284.45h9.49v2.05h-9.49zM596.66 284.45h9.49v2.05h-9.49zM541.51 286.2h9.49v2.05h-9.49zM541.51 291.45h9.49v2.05h-9.49zM541.51 293.2h9.49v2.05h-9.49zM541.51 296.69h9.49v2.05h-9.49zM615.04 296.69h9.49v2.05h-9.49zM569.09 303.69h9.49v2.05h-9.49zM541.51 305.43h9.49v2.05h-9.49zM587.47 305.43h9.49v2.05h-9.49zM587.47 307.18h9.49v2.05h-9.49zM541.51 312.43h9.49v2.05h-9.49zM541.51 314.18h9.49v2.05h-9.49zM541.51 319.42h9.49v2.05h-9.49zM569.09 321.17h9.49v2.05h-9.49zM587.47 321.17h9.49v2.05h-9.49zM587.47 322.92h9.49v2.05h-9.49zM541.51 328.16h9.49v2.05h-9.49zM541.51 333.41h9.49v2.05h-9.49zM587.47 335.16h9.49v2.05h-9.49zM541.51 336.9h9.49v2.05h-9.49zM541.51 338.65h9.49v2.05h-9.49zM541.51 342.15h9.49v2.05h-9.49zM541.51 345.65h9.49v2.05h-9.49zM569.09 345.65h9.49v2.05h-9.49zM569.09 347.39h9.49v2.05h-9.49zM541.51 349.14h9.49v2.05h-9.49zM569.09 350.89h9.49v2.05h-9.49zM541.51 352.64h9.49v2.05h-9.49zM541.51 354.39h9.49v2.05h-9.49zM541.51 356.14h9.49v2.05h-9.49zM541.51 357.88h9.49v2.05h-9.49zM541.51 359.63h9.49v2.05h-9.49zM541.51 361.38h9.49v2.05h-9.49zM541.51 366.63h9.49v2.05h-9.49zM587.47 366.63h9.49v2.05h-9.49zM605.85 366.63h9.49v2.05h-9.49zM541.51 370.12h9.49v2.05h-9.49zM541.51 371.87h9.49v2.05h-9.49zM633.42 371.87h9.49v2.05h-9.49zM541.51 373.62h9.49v2.05h-9.49zM541.51 375.37h9.49v2.05h-9.49zM541.51 377.12h9.49v2.05h-9.49zM569.09 378.86h9.49v2.05h-9.49zM569.09 380.61h9.49v2.05h-9.49zM587.47 384.11h9.49v2.05h-9.49zM541.51 385.86h9.49v2.05h-9.49zM541.51 387.61h9.49v2.05h-9.49zM596.66 387.61h9.49v2.05h-9.49zM587.47 392.85h9.49v2.05h-9.49zM569.09 398.1h9.49v2.05h-9.49zM541.51 399.84h9.49v2.05h-9.49zM569.09 399.84h9.49v2.05h-9.49zM587.47 401.59h9.49v2.05h-9.49zM587.47 405.09h9.49v2.05h-9.49zM569.09 406.84h9.49v2.05h-9.49zM541.51 408.59h9.49v2.05h-9.49zM569.09 408.59h9.49v2.05h-9.49zM587.47 408.59h9.49v2.05h-9.49zM587.47 410.33h9.49v2.05h-9.49zM615.04 412.08h9.49v2.05h-9.49zM541.51 415.58h9.49v2.05h-9.49zM569.09 417.33h9.49v2.05h-9.49zM605.85 420.82h9.49v2.05h-9.49zM541.51 441.8h9.49v2.05h-9.49zM587.47 447.05h9.49v2.05h-9.49zM541.51 450.55h9.49v2.05h-9.49zM541.51 452.29h9.49v2.05h-9.49zM587.47 452.29h9.49v2.05h-9.49zM541.51 454.04h9.49v2.05h-9.49zM541.51 461.04h9.49v2.05h-9.49zM550.7 461.04h9.49v2.05h-9.49zM541.51 462.78h9.49v2.05h-9.49zM541.51 466.28h9.49v2.05h-9.49zM587.47 468.03h9.49v2.05h-9.49zM541.51 469.78h9.49v2.05h-9.49zM587.47 469.78h9.49v2.05h-9.49zM541.51 471.53h9.49v2.05h-9.49zM587.47 471.53h9.49v2.05h-9.49zM587.47 473.27h9.49v2.05h-9.49zM541.51 476.77h9.49v2.05h-9.49zM569.09 476.77h9.49v2.05h-9.49zM541.51 482.02h9.49v2.05h-9.49zM541.51 483.76h9.49v2.05h-9.49zM541.51 485.51h9.49v2.05h-9.49zM541.51 487.26h9.49v2.05h-9.49zM587.47 487.26h9.49v2.05h-9.49zM541.51 492.51h9.49v2.05h-9.49zM587.47 494.25h9.49v2.05h-9.49zM587.47 496h9.49v2.05h-9.49zM596.66 501.25h9.49v2.05h-9.49zM541.51 503h9.49v2.05h-9.49zM541.51 504.75h9.49v2.05h-9.49zM550.7 504.75h9.49v2.05h-9.49zM541.51 506.49h9.49v2.05h-9.49zM587.47 506.49h9.49v2.05h-9.49zM541.51 513.49h9.49v2.05h-9.49zM550.7 513.49h9.49v2.05h-9.49zM569.09 515.24h9.49v2.05h-9.49zM587.47 516.98h9.49v2.05h-9.49zM541.51 518.73h9.49v2.05h-9.49zM587.47 518.73h9.49v2.05h-9.49zM596.66 520.48h9.49v2.05h-9.49zM541.51 522.23h9.49v2.05h-9.49zM541.51 527.47h9.49v2.05h-9.49zM569.09 527.47h9.49v2.05h-9.49zM541.51 529.22h9.49v2.05h-9.49zM541.51 530.97h9.49v2.05h-9.49zM569.09 532.72h9.49v2.05h-9.49zM587.47 532.72h9.49v2.05h-9.49zM541.51 534.47h9.49v2.05h-9.49zM605.85 536.22h9.49v2.05h-9.49zM541.51 539.71h9.49v2.05h-9.49zM569.09 539.71h9.49v2.05h-9.49zM541.51 541.46h9.49v2.05h-9.49zM541.51 543.21h9.49v2.05h-9.49zM596.66 543.21h9.49v2.05h-9.49zM541.51 544.96h9.49v2.05h-9.49zM587.47 544.96h9.49v2.05h-9.49zM541.51 546.71h9.49v2.05h-9.49zM541.51 548.45h9.49v2.05h-9.49zM587.47 551.95h9.49v2.05h-9.49zM541.51 555.45h9.49v2.05h-9.49zM633.42 555.45h9.49v2.05h-9.49zM541.51 557.2h9.49v2.05h-9.49zM569.09 557.2h9.49v2.05h-9.49zM605.85 562.44h9.49v2.05h-9.49zM541.51 564.19h9.49v2.05h-9.49zM587.47 564.19h9.49v2.05h-9.49zM541.51 565.94h9.49v2.05h-9.49zM587.47 565.94h9.49v2.05h-9.49zM541.51 569.43h9.49v2.05h-9.49zM587.47 571.18h9.49v2.05h-9.49zM541.51 572.93h9.49v2.05h-9.49zM541.51 574.68h9.49v2.05h-9.49zM596.66 576.43h9.49v2.05h-9.49zM541.51 578.18h9.49v2.05h-9.49zM633.42 578.18h9.49v2.05h-9.49zM541.51 579.92h9.49v2.05h-9.49zM587.47 583.42h9.49v2.05h-9.49zM541.51 585.17h9.49v2.05h-9.49zM541.51 586.92h9.49v2.05h-9.49zM587.47 588.67h9.49v2.05h-9.49zM633.42 588.67h9.49v2.05h-9.49zM541.51 590.41h9.49v2.05h-9.49zM541.51 592.16h9.49v2.05h-9.49zM587.47 592.16h9.49v2.05h-9.49zM587.47 593.91h9.49v2.05h-9.49zM587.47 597.41h9.49v2.05h-9.49zM587.47 606.15h9.49v2.05h-9.49zM541.51 609.65h9.49v2.05h-9.49zM541.51 611.39h9.49v2.05h-9.49zM615.04 611.39h9.49v2.05h-9.49zM587.47 614.89h9.49v2.05h-9.49zM587.47 618.39h9.49v2.05h-9.49zM596.66 618.39h9.49v2.05h-9.49zM541.51 621.88h9.49v2.05h-9.49zM569.09 621.88h9.49v2.05h-9.49zM587.47 621.88h9.49v2.05h-9.49zM633.42 621.88h9.49v2.05h-9.49zM605.85 625.38h9.49v2.05h-9.49zM541.51 627.13h9.49v2.05h-9.49zM569.09 627.13h9.49v2.05h-9.49zM587.47 632.37h9.49v2.05h-9.49zM541.51 635.87h9.49v2.05h-9.49zM569.09 637.62h9.49v2.05h-9.49zM541.51 642.86h9.49v2.05h-9.49zM541.51 644.61h9.49v2.05h-9.49zM587.47 644.61h9.49v2.05h-9.49zM541.51 646.36h9.49v2.05h-9.49zM541.51 649.86h9.49v2.05h-9.49zM587.47 651.61h9.49v2.05h-9.49zM541.51 653.35h9.49v2.05h-9.49zM587.47 655.1h9.49v2.05h-9.49zM587.47 660.35h9.49v2.05h-9.49zM587.47 663.84h9.49v2.05h-9.49zM541.51 667.34h9.49v2.05h-9.49zM587.47 667.34h9.49v2.05h-9.49zM615.04 667.34h9.49v2.05h-9.49zM541.51 669.09h9.49v2.05h-9.49zM587.47 669.09h9.49v2.05h-9.49zM541.51 670.84h9.49v2.05h-9.49zM541.51 674.33h9.49v2.05h-9.49zM541.51 676.08h9.49v2.05h-9.49zM587.47 676.08h9.49v2.05h-9.49zM541.51 677.83h9.49v2.05h-9.49zM587.47 677.83h9.49v2.05h-9.49zM569.09 679.58h9.49v2.05h-9.49zM587.47 679.58h9.49v2.05h-9.49zM541.51 681.33h9.49v2.05h-9.49zM541.51 683.08h9.49v2.05h-9.49zM587.47 683.08h9.49v2.05h-9.49zM541.51 690.07h9.49v2.05h-9.49zM541.51 691.82h9.49v2.05h-9.49zM569.09 691.82h9.49v2.05h-9.49zM587.47 695.31h9.49v2.05h-9.49zM587.47 704.06h9.49v2.05h-9.49zM587.47 707.55h9.49v2.05h-9.49zM541.51 709.3h9.49v2.05h-9.49zM569.09 712.8h9.49v2.05h-9.49zM587.47 712.8h9.49v2.05h-9.49zM541.51 714.55h9.49v2.05h-9.49zM569.09 718.04h9.49v2.05h-9.49zM541.51 719.79h9.49v2.05h-9.49zM541.51 721.54h9.49v2.05h-9.49zM541.51 723.29h9.49v2.05h-9.49zM541.51 726.78h9.49v2.05h-9.49zM569.09 726.78h9.49v2.05h-9.49zM541.51 728.53h9.49v2.05h-9.49zM587.47 728.53h9.49v2.05h-9.49zM541.51 730.28h9.49v2.05h-9.49zM587.47 730.28h9.49v2.05h-9.49zM587.47 732.03h9.49v2.05h-9.49zM541.51 733.78h9.49v2.05h-9.49zM569.09 733.78h9.49v2.05h-9.49zM541.51 735.53h9.49v2.05h-9.49zM541.51 740.77h9.49v2.05h-9.49zM541.51 746.02h9.49v2.05h-9.49zM587.47 746.02h9.49v2.05h-9.49zM587.47 747.76h9.49v2.05h-9.49zM569.09 749.51h9.49v2.05h-9.49zM587.47 749.51h9.49v2.05h-9.49zM541.51 753.01h9.49v2.05h-9.49zM587.47 756.51h9.49v2.05h-9.49zM605.85 758.25h9.49v2.05h-9.49zM541.51 761.75h9.49v1.75h-9.49z"/><path fill="#ff6262" d="M633.42 112.8h9.49v2.22h-9.49zM559.9 114.72h9.49v2.22h-9.49zM605.85 114.72h9.49v2.22h-9.49zM559.9 122.41h9.49v2.22h-9.49zM633.42 126.25h9.49v2.22h-9.49zM596.66 128.17h9.49v2.22h-9.49zM642.61 128.17h9.19v2.22h-9.19zM642.61 132.01h9.19v2.22h-9.19zM642.61 139.7h9.19v2.22h-9.19zM569.09 147.39h9.49v2.22h-9.49zM605.85 147.39h9.49v2.22h-9.49zM633.42 151.23h9.49v2.22h-9.49zM633.42 153.15h9.49v2.22h-9.49zM633.42 155.07h9.49v2.22h-9.49zM569.09 164.68h9.49v2.22h-9.49zM559.9 166.6h9.49v2.22h-9.49zM633.42 166.6h9.49v2.22h-9.49zM633.42 168.52h9.49v2.22h-9.49zM642.61 168.52h9.19v2.22h-9.19zM569.09 170.44h9.49v2.22h-9.49zM605.85 181.97h9.49v2.22h-9.49zM605.85 183.89h9.49v2.22h-9.49zM605.85 185.81h9.49v2.22h-9.49zM642.61 187.74h9.19v2.22h-9.19zM559.9 191.58h9.49v1.92h-9.49zM633.42 191.58h9.49v1.92h-9.49zM559.9 239h9.49v2.05h-9.49zM605.85 242.49h9.49v2.05h-9.49zM605.85 244.24h9.49v2.05h-9.49zM596.66 245.99h9.49v2.05h-9.49zM633.42 245.99h9.49v2.05h-9.49zM559.9 249.49h9.49v2.05h-9.49zM596.66 252.98h9.49v2.05h-9.49zM559.9 254.73h9.49v2.05h-9.49zM605.85 259.98h9.49v2.05h-9.49zM605.85 265.22h9.49v2.05h-9.49zM605.85 266.97h9.49v2.05h-9.49zM633.42 266.97h9.49v2.05h-9.49zM605.85 268.72h9.49v2.05h-9.49zM596.66 270.47h9.49v2.05h-9.49zM596.66 272.22h9.49v2.05h-9.49zM596.66 273.96h9.49v2.05h-9.49zM633.42 284.45h9.49v2.05h-9.49zM596.66 289.7h9.49v2.05h-9.49zM559.9 291.45h9.49v2.05h-9.49zM559.9 305.43h9.49v2.05h-9.49zM559.9 307.18h9.49v2.05h-9.49zM596.66 310.68h9.49v2.05h-9.49zM596.66 319.42h9.49v2.05h-9.49zM559.9 322.92h9.49v2.05h-9.49zM559.9 328.16h9.49v2.05h-9.49zM596.66 331.66h9.49v2.05h-9.49zM596.66 338.65h9.49v2.05h-9.49zM559.9 340.4h9.49v2.05h-9.49zM605.85 340.4h9.49v2.05h-9.49zM596.66 347.39h9.49v2.05h-9.49zM605.85 347.39h9.49v2.05h-9.49zM559.9 350.89h9.49v2.05h-9.49zM596.66 357.88h9.49v2.05h-9.49zM605.85 357.88h9.49v2.05h-9.49zM559.9 359.63h9.49v2.05h-9.49zM605.85 359.63h9.49v2.05h-9.49zM605.85 361.38h9.49v2.05h-9.49zM559.9 364.88h9.49v2.05h-9.49zM605.85 371.87h9.49v2.05h-9.49zM605.85 373.62h9.49v2.05h-9.49zM559.9 375.37h9.49v2.05h-9.49zM605.85 378.86h9.49v2.05h-9.49zM596.66 380.61h9.49v2.05h-9.49zM559.9 387.61h9.49v2.05h-9.49zM587.47 389.35h9.49v2.05h-9.49zM569.09 392.85h9.49v2.05h-9.49zM605.85 394.6h9.49v2.05h-9.49zM605.85 396.35h9.49v2.05h-9.49zM559.9 398.1h9.49v2.05h-9.49zM605.85 398.1h9.49v2.05h-9.49zM596.66 403.34h9.49v2.05h-9.49zM605.85 405.09h9.49v2.05h-9.49zM633.42 406.84h9.49v2.05h-9.49zM633.42 408.59h9.49v2.05h-9.49zM633.42 413.83h9.49v2.05h-9.49zM596.66 419.08h9.49v2.05h-9.49zM633.42 419.08h9.49v2.05h-9.49zM596.66 422.57h9.49v2.05h-9.49zM559.9 424.32h9.49v2.05h-9.49zM605.85 424.32h9.49v2.05h-9.49zM605.85 429.57h9.49v2.05h-9.49zM633.42 429.57h9.49v2.05h-9.49zM596.66 433.06h9.49v2.05h-9.49zM569.09 438.31h9.49v2.05h-9.49zM596.66 438.31h9.49v2.05h-9.49zM605.85 438.31h9.49v2.05h-9.49zM596.66 440.06h9.49v2.05h-9.49zM559.9 443.55h9.49v2.05h-9.49zM559.9 447.05h9.49v2.05h-9.49zM596.66 452.29h9.49v2.05h-9.49zM605.85 457.54h9.49v2.05h-9.49zM596.66 459.29h9.49v2.05h-9.49zM569.09 466.28h9.49v2.05h-9.49zM559.9 471.53h9.49v2.05h-9.49zM596.66 482.02h9.49v2.05h-9.49zM605.85 482.02h9.49v2.05h-9.49zM596.66 485.51h9.49v2.05h-9.49zM633.42 492.51h9.49v2.05h-9.49zM569.09 496h9.49v2.05h-9.49zM633.42 496h9.49v2.05h-9.49zM605.85 499.5h9.49v2.05h-9.49zM633.42 503h9.49v2.05h-9.49zM633.42 504.75h9.49v2.05h-9.49zM559.9 506.49h9.49v2.05h-9.49zM559.9 513.49h9.49v2.05h-9.49zM605.85 515.24h9.49v2.05h-9.49zM569.09 520.48h9.49v2.05h-9.49zM605.85 527.47h9.49v2.05h-9.49zM605.85 529.22h9.49v2.05h-9.49zM633.42 529.22h9.49v2.05h-9.49zM596.66 532.72h9.49v2.05h-9.49zM596.66 534.47h9.49v2.05h-9.49zM559.9 536.22h9.49v2.05h-9.49zM596.66 536.22h9.49v2.05h-9.49zM559.9 550.2h9.49v2.05h-9.49zM596.66 550.2h9.49v2.05h-9.49zM596.66 551.95h9.49v2.05h-9.49zM605.85 555.45h9.49v2.05h-9.49zM596.66 557.2h9.49v2.05h-9.49zM624.23 557.2h9.49v2.05h-9.49zM559.9 558.94h9.49v2.05h-9.49zM596.66 562.44h9.49v2.05h-9.49zM559.9 564.19h9.49v2.05h-9.49zM569.09 567.69h9.49v2.05h-9.49zM596.66 567.69h9.49v2.05h-9.49zM605.85 569.43h9.49v2.05h-9.49zM605.85 571.18h9.49v2.05h-9.49zM633.42 571.18h9.49v2.05h-9.49zM633.42 572.93h9.49v2.05h-9.49zM596.66 574.68h9.49v2.05h-9.49zM605.85 574.68h9.49v2.05h-9.49zM559.9 576.43h9.49v2.05h-9.49zM605.85 576.43h9.49v2.05h-9.49zM559.9 581.67h9.49v2.05h-9.49zM569.09 581.67h9.49v2.05h-9.49zM596.66 583.42h9.49v2.05h-9.49zM605.85 583.42h9.49v2.05h-9.49zM596.66 586.92h9.49v2.05h-9.49zM596.66 590.41h9.49v2.05h-9.49zM596.66 592.16h9.49v2.05h-9.49zM605.85 595.66h9.49v2.05h-9.49zM596.66 604.4h9.49v2.05h-9.49zM559.9 607.9h9.49v2.05h-9.49zM559.9 616.64h9.49v2.05h-9.49zM605.85 618.39h9.49v2.05h-9.49zM596.66 621.88h9.49v2.05h-9.49zM605.85 621.88h9.49v2.05h-9.49zM605.85 630.63h9.49v2.05h-9.49zM633.42 632.37h9.49v2.05h-9.49zM559.9 635.87h9.49v2.05h-9.49zM596.66 641.12h9.49v2.05h-9.49zM596.66 642.86h9.49v2.05h-9.49zM596.66 649.86h9.49v2.05h-9.49zM605.85 658.6h9.49v2.05h-9.49zM633.42 660.35h9.49v2.05h-9.49zM559.9 669.09h9.49v2.05h-9.49zM559.9 672.59h9.49v2.05h-9.49zM596.66 672.59h9.49v2.05h-9.49zM605.85 684.82h9.49v2.05h-9.49zM605.85 688.32h9.49v2.05h-9.49zM559.9 691.82h9.49v2.05h-9.49zM559.9 697.06h9.49v2.05h-9.49zM596.66 700.56h9.49v2.05h-9.49zM596.66 702.31h9.49v2.05h-9.49zM559.9 705.8h9.49v2.05h-9.49zM633.42 705.8h9.49v2.05h-9.49zM559.9 712.8h9.49v2.05h-9.49zM596.66 712.8h9.49v2.05h-9.49zM559.9 716.29h9.49v2.05h-9.49zM605.85 716.29h9.49v2.05h-9.49zM633.42 716.29h9.49v2.05h-9.49zM596.66 718.04h9.49v2.05h-9.49zM559.9 725.04h9.49v2.05h-9.49zM587.47 725.04h9.49v2.05h-9.49zM596.66 730.28h9.49v2.05h-9.49zM559.9 732.03h9.49v2.05h-9.49zM559.9 740.77h9.49v2.05h-9.49zM605.85 740.77h9.49v2.05h-9.49zM633.42 740.77h9.49v2.05h-9.49zM605.85 742.52h9.49v2.05h-9.49zM596.66 744.27h9.49v2.05h-9.49zM596.66 747.76h9.49v2.05h-9.49zM559.9 758.25h9.49v2.05h-9.49zM596.66 758.25h9.49v2.05h-9.49zM559.9 760h9.49v2.05h-9.49z"/><path fill="#ff9d9d" d="M642.61 112.8h9.19v2.22h-9.19zM642.61 116.64h9.19v2.22h-9.19zM642.61 118.56h9.19v2.22h-9.19zM642.61 120.49h9.19v2.22h-9.19zM642.61 124.33h9.19v2.22h-9.19zM541.51 128.17h9.49v2.22h-9.49zM605.85 128.17h9.49v2.22h-9.49zM633.42 149.31h9.49v2.22h-9.49zM569.09 158.91h9.49v2.22h-9.49zM642.61 160.84h9.19v2.22h-9.19zM642.61 162.76h9.19v2.22h-9.19zM541.51 164.68h9.49v2.22h-9.49zM642.61 183.89h9.19v2.22h-9.19zM559.9 244.24h9.49v2.05h-9.49zM559.9 261.73h9.49v2.05h-9.49zM596.66 263.47h9.49v2.05h-9.49zM642.61 268.72h9.19v2.05h-9.19zM569.09 273.96h9.49v2.05h-9.49zM569.09 282.71h9.49v2.05h-9.49zM559.9 294.94h9.49v2.05h-9.49zM642.61 294.94h9.19v2.05h-9.19zM605.85 310.68h9.49v2.05h-9.49zM569.09 319.42h9.49v2.05h-9.49zM596.66 322.92h9.49v2.05h-9.49zM596.66 336.9h9.49v2.05h-9.49zM559.9 345.65h9.49v2.05h-9.49zM605.85 349.14h9.49v2.05h-9.49zM559.9 356.14h9.49v2.05h-9.49zM559.9 357.88h9.49v2.05h-9.49zM596.66 359.63h9.49v2.05h-9.49zM633.42 401.59h9.49v2.05h-9.49zM541.51 406.84h9.49v2.05h-9.49zM596.66 408.59h9.49v2.05h-9.49zM642.61 410.33h9.19v2.05h-9.19zM596.66 429.57h9.49v2.05h-9.49zM559.9 433.06h9.49v2.05h-9.49zM633.42 433.06h9.49v2.05h-9.49zM541.51 434.81h9.49v2.05h-9.49zM559.9 450.55h9.49v2.05h-9.49zM559.9 455.79h9.49v2.05h-9.49zM559.9 469.78h9.49v2.05h-9.49zM633.42 469.78h9.49v2.05h-9.49zM559.9 473.27h9.49v2.05h-9.49zM559.9 487.26h9.49v2.05h-9.49zM559.9 494.25h9.49v2.05h-9.49zM642.61 546.71h9.19v2.05h-9.19zM642.61 548.45h9.19v2.05h-9.19zM642.61 560.69h9.19v2.05h-9.19zM559.9 578.18h9.49v2.05h-9.49zM642.61 578.18h9.19v2.05h-9.19zM642.61 602.65h9.19v2.05h-9.19zM559.9 606.15h9.49v2.05h-9.49zM596.66 616.64h9.49v2.05h-9.49zM633.42 641.12h9.49v2.05h-9.49zM559.9 646.36h9.49v2.05h-9.49zM633.42 655.1h9.49v2.05h-9.49zM596.66 665.59h9.49v2.05h-9.49zM596.66 677.83h9.49v2.05h-9.49zM559.9 693.57h9.49v2.05h-9.49zM587.47 697.06h9.49v2.05h-9.49zM541.51 707.55h9.49v2.05h-9.49zM633.42 721.54h9.49v2.05h-9.49zM559.9 730.28h9.49v2.05h-9.49zM569.09 730.28h9.49v2.05h-9.49zM605.85 737.27h9.49v2.05h-9.49zM605.85 739.02h9.49v2.05h-9.49zM633.42 742.52h9.49v2.05h-9.49z"/><path fill="#1414ff" d="M458.8 114.72h9.49v2.22h-9.49zM467.99 120.49h9.49v2.22h-9.49zM513.94 122.41h9.49v2.22h-9.49zM458.8 124.33h9.49v2.22h-9.49zM467.99 130.09h9.49v2.22h-9.49zM467.99 139.7h9.49v2.22h-9.49zM458.8 151.23h9.49v2.22h-9.49zM467.99 151.23h9.49v2.22h-9.49zM513.94 156.99h9.49v2.22h-9.49zM467.99 162.76h9.49v2.22h-9.49zM467.99 164.68h9.49v2.22h-9.49zM467.99 166.6h9.49v2.22h-9.49zM467.99 170.44h9.49v2.22h-9.49zM467.99 172.36h9.49v2.22h-9.49zM467.99 174.29h9.49v2.22h-9.49zM513.94 174.29h9.49v2.22h-9.49zM467.99 176.21h9.49v2.22h-9.49zM467.99 178.13h9.49v2.22h-9.49zM467.99 181.97h9.49v2.22h-9.49zM467.99 183.89h9.49v2.22h-9.49zM458.8 187.74h9.49v2.22h-9.49zM513.94 189.66h9.49v2.22h-9.49zM467.99 191.58h9.49v1.92h-9.49zM513.94 191.58h9.49v1.92h-9.49zM467.99 235.5h9.49v2.05h-9.49zM467.99 242.49h9.49v2.05h-9.49zM467.99 245.99h9.49v2.05h-9.49zM467.99 249.49h9.49v2.05h-9.49zM467.99 252.98h9.49v2.05h-9.49zM477.18 252.98h9.49v2.05h-9.49zM467.99 256.48h9.49v2.05h-9.49zM467.99 259.98h9.49v2.05h-9.49zM477.18 259.98h9.49v2.05h-9.49zM467.99 263.47h9.49v2.05h-9.49zM477.18 263.47h9.49v2.05h-9.49zM467.99 265.22h9.49v2.05h-9.49zM477.18 265.22h9.49v2.05h-9.49zM458.8 268.72h9.49v2.05h-9.49zM477.18 268.72h9.49v2.05h-9.49zM458.8 272.22h9.49v2.05h-9.49zM477.18 272.22h9.49v2.05h-9.49zM467.99 273.96h9.49v2.05h-9.49zM467.99 275.71h9.49v2.05h-9.49zM467.99 277.46h9.49v2.05h-9.49zM467.99 279.21h9.49v2.05h-9.49zM477.18 280.96h9.49v2.05h-9.49zM467.99 282.71h9.49v2.05h-9.49zM458.8 284.45h9.49v2.05h-9.49zM467.99 284.45h9.49v2.05h-9.49zM458.8 286.2h9.49v2.05h-9.49zM477.18 287.95h9.49v2.05h-9.49zM458.8 289.7h9.49v2.05h-9.49zM477.18 291.45h9.49v2.05h-9.49zM477.18 294.94h9.49v2.05h-9.49zM477.18 296.69h9.49v2.05h-9.49zM467.99 298.44h9.49v2.05h-9.49zM458.8 300.19h9.49v2.05h-9.49zM477.18 300.19h9.49v2.05h-9.49zM477.18 301.94h9.49v2.05h-9.49zM477.18 303.69h9.49v2.05h-9.49zM467.99 305.43h9.49v2.05h-9.49zM477.18 307.18h9.49v2.05h-9.49zM467.99 310.68h9.49v2.05h-9.49zM477.18 310.68h9.49v2.05h-9.49zM467.99 312.43h9.49v2.05h-9.49zM477.18 317.67h9.49v2.05h-9.49zM467.99 319.42h9.49v2.05h-9.49zM477.18 319.42h9.49v2.05h-9.49zM467.99 321.17h9.49v2.05h-9.49zM477.18 321.17h9.49v2.05h-9.49zM458.8 322.92h9.49v2.05h-9.49zM458.8 326.41h9.49v2.05h-9.49zM458.8 333.41h9.49v2.05h-9.49zM458.8 336.9h9.49v2.05h-9.49zM467.99 338.65h9.49v2.05h-9.49zM458.8 342.15h9.49v2.05h-9.49zM467.99 343.9h9.49v2.05h-9.49zM458.8 350.89h9.49v2.05h-9.49zM477.18 350.89h9.49v2.05h-9.49zM477.18 356.14h9.49v2.05h-9.49zM477.18 357.88h9.49v2.05h-9.49zM467.99 359.63h9.49v2.05h-9.49zM467.99 361.38h9.49v2.05h-9.49zM467.99 366.63h9.49v2.05h-9.49zM477.18 370.12h9.49v2.05h-9.49zM477.18 377.12h9.49v2.05h-9.49zM467.99 378.86h9.49v2.05h-9.49zM467.99 382.36h9.49v2.05h-9.49zM467.99 384.11h9.49v2.05h-9.49zM477.18 384.11h9.49v2.05h-9.49zM477.18 387.61h9.49v2.05h-9.49zM477.18 389.35h9.49v2.05h-9.49zM467.99 391.1h9.49v2.05h-9.49zM477.18 392.85h9.49v2.05h-9.49zM467.99 394.6h9.49v2.05h-9.49zM467.99 396.35h9.49v2.05h-9.49zM458.8 401.59h9.49v2.05h-9.49zM467.99 401.59h9.49v2.05h-9.49zM477.18 401.59h9.49v2.05h-9.49zM477.18 403.34h9.49v2.05h-9.49zM467.99 405.09h9.49v2.05h-9.49zM477.18 405.09h9.49v2.05h-9.49zM467.99 406.84h9.49v2.05h-9.49zM477.18 406.84h9.49v2.05h-9.49zM477.18 410.33h9.49v2.05h-9.49zM467.99 412.08h9.49v2.05h-9.49zM477.18 412.08h9.49v2.05h-9.49zM477.18 413.83h9.49v2.05h-9.49zM467.99 424.32h9.49v2.05h-9.49zM477.18 426.07h9.49v2.05h-9.49zM467.99 429.57h9.49v2.05h-9.49zM477.18 429.57h9.49v2.05h-9.49zM477.18 433.06h9.49v2.05h-9.49zM477.18 434.81h9.49v2.05h-9.49zM458.8 440.06h9.49v2.05h-9.49zM477.18 440.06h9.49v2.05h-9.49zM477.18 443.55h9.49v2.05h-9.49zM467.99 445.3h9.49v2.05h-9.49zM458.8 452.29h9.49v2.05h-9.49zM467.99 455.79h9.49v2.05h-9.49zM467.99 457.54h9.49v2.05h-9.49zM458.8 459.29h9.49v2.05h-9.49zM467.99 459.29h9.49v2.05h-9.49zM477.18 461.04h9.49v2.05h-9.49zM458.8 466.28h9.49v2.05h-9.49zM467.99 468.03h9.49v2.05h-9.49zM477.18 468.03h9.49v2.05h-9.49zM467.99 469.78h9.49v2.05h-9.49zM458.8 473.27h9.49v2.05h-9.49zM477.18 473.27h9.49v2.05h-9.49zM467.99 478.52h9.49v2.05h-9.49zM477.18 478.52h9.49v2.05h-9.49zM467.99 482.02h9.49v2.05h-9.49zM467.99 485.51h9.49v2.05h-9.49zM477.18 485.51h9.49v2.05h-9.49zM467.99 490.76h9.49v2.05h-9.49zM467.99 492.51h9.49v2.05h-9.49zM477.18 492.51h9.49v2.05h-9.49zM467.99 494.25h9.49v2.05h-9.49zM477.18 494.25h9.49v2.05h-9.49zM477.18 497.75h9.49v2.05h-9.49zM467.99 503h9.49v2.05h-9.49zM477.18 503h9.49v2.05h-9.49zM458.8 504.75h9.49v2.05h-9.49zM477.18 508.24h9.49v2.05h-9.49zM467.99 511.74h9.49v2.05h-9.49zM467.99 513.49h9.49v2.05h-9.49zM458.8 518.73h9.49v2.05h-9.49zM467.99 518.73h9.49v2.05h-9.49zM477.18 518.73h9.49v2.05h-9.49zM467.99 520.48h9.49v2.05h-9.49zM477.18 520.48h9.49v2.05h-9.49zM458.8 522.23h9.49v2.05h-9.49zM477.18 522.23h9.49v2.05h-9.49zM467.99 523.98h9.49v2.05h-9.49zM477.18 523.98h9.49v2.05h-9.49zM467.99 525.73h9.49v2.05h-9.49zM477.18 525.73h9.49v2.05h-9.49zM467.99 527.47h9.49v2.05h-9.49zM477.18 527.47h9.49v2.05h-9.49zM467.99 530.97h9.49v2.05h-9.49zM477.18 530.97h9.49v2.05h-9.49zM467.99 532.72h9.49v2.05h-9.49zM477.18 532.72h9.49v2.05h-9.49zM458.8 537.96h9.49v2.05h-9.49zM467.99 539.71h9.49v2.05h-9.49zM467.99 543.21h9.49v2.05h-9.49zM477.18 546.71h9.49v2.05h-9.49zM477.18 550.2h9.49v2.05h-9.49zM477.18 551.95h9.49v2.05h-9.49zM477.18 553.7h9.49v2.05h-9.49zM467.99 555.45h9.49v2.05h-9.49zM477.18 555.45h9.49v2.05h-9.49zM467.99 557.2h9.49v2.05h-9.49zM477.18 557.2h9.49v2.05h-9.49zM477.18 558.94h9.49v2.05h-9.49zM477.18 562.44h9.49v2.05h-9.49zM458.8 565.94h9.49v2.05h-9.49zM477.18 565.94h9.49v2.05h-9.49zM467.99 567.69h9.49v2.05h-9.49zM477.18 567.69h9.49v2.05h-9.49zM477.18 571.18h9.49v2.05h-9.49zM467.99 572.93h9.49v2.05h-9.49zM467.99 578.18h9.49v2.05h-9.49zM458.8 579.92h9.49v2.05h-9.49zM467.99 579.92h9.49v2.05h-9.49zM477.18 579.92h9.49v2.05h-9.49zM467.99 583.42h9.49v2.05h-9.49zM467.99 585.17h9.49v2.05h-9.49zM477.18 586.92h9.49v2.05h-9.49zM477.18 588.67h9.49v2.05h-9.49zM458.8 590.41h9.49v2.05h-9.49zM467.99 590.41h9.49v2.05h-9.49zM477.18 592.16h9.49v2.05h-9.49zM477.18 593.91h9.49v2.05h-9.49zM477.18 595.66h9.49v2.05h-9.49zM477.18 599.16h9.49v2.05h-9.49zM458.8 602.65h9.49v2.05h-9.49zM467.99 602.65h9.49v2.05h-9.49zM477.18 602.65h9.49v2.05h-9.49zM458.8 604.4h9.49v2.05h-9.49zM458.8 607.9h9.49v2.05h-9.49zM467.99 609.65h9.49v2.05h-9.49zM477.18 611.39h9.49v2.05h-9.49zM477.18 613.14h9.49v2.05h-9.49zM477.18 616.64h9.49v2.05h-9.49zM458.8 618.39h9.49v2.05h-9.49zM477.18 618.39h9.49v2.05h-9.49zM467.99 620.14h9.49v2.05h-9.49zM477.18 620.14h9.49v2.05h-9.49zM477.18 621.88h9.49v2.05h-9.49zM467.99 623.63h9.49v2.05h-9.49zM467.99 628.88h9.49v2.05h-9.49zM477.18 634.12h9.49v2.05h-9.49zM467.99 639.37h9.49v2.05h-9.49zM458.8 641.12h9.49v2.05h-9.49zM458.8 642.86h9.49v2.05h-9.49zM467.99 646.36h9.49v2.05h-9.49zM477.18 653.35h9.49v2.05h-9.49zM467.99 655.1h9.49v2.05h-9.49zM477.18 655.1h9.49v2.05h-9.49zM458.8 656.85h9.49v2.05h-9.49zM477.18 656.85h9.49v2.05h-9.49zM477.18 660.35h9.49v2.05h-9.49zM458.8 665.59h9.49v2.05h-9.49zM458.8 670.84h9.49v2.05h-9.49zM467.99 674.33h9.49v2.05h-9.49zM477.18 674.33h9.49v2.05h-9.49zM477.18 677.83h9.49v2.05h-9.49zM458.8 679.58h9.49v2.05h-9.49zM467.99 679.58h9.49v2.05h-9.49zM467.99 683.08h9.49v2.05h-9.49zM477.18 683.08h9.49v2.05h-9.49zM467.99 684.82h9.49v2.05h-9.49zM477.18 684.82h9.49v2.05h-9.49zM477.18 686.57h9.49v2.05h-9.49zM458.8 691.82h9.49v2.05h-9.49zM477.18 693.57h9.49v2.05h-9.49zM477.18 697.06h9.49v2.05h-9.49zM467.99 702.31h9.49v2.05h-9.49zM467.99 704.06h9.49v2.05h-9.49zM467.99 705.8h9.49v2.05h-9.49zM467.99 707.55h9.49v2.05h-9.49zM477.18 712.8h9.49v2.05h-9.49zM467.99 714.55h9.49v2.05h-9.49zM477.18 714.55h9.49v2.05h-9.49zM458.8 716.29h9.49v2.05h-9.49zM458.8 718.04h9.49v2.05h-9.49zM477.18 718.04h9.49v2.05h-9.49zM467.99 719.79h9.49v2.05h-9.49zM477.18 723.29h9.49v2.05h-9.49zM467.99 726.78h9.49v2.05h-9.49zM467.99 728.53h9.49v2.05h-9.49zM477.18 728.53h9.49v2.05h-9.49zM458.8 730.28h9.49v2.05h-9.49zM467.99 730.28h9.49v2.05h-9.49zM458.8 733.78h9.49v2.05h-9.49zM467.99 733.78h9.49v2.05h-9.49zM477.18 733.78h9.49v2.05h-9.49zM467.99 737.27h9.49v2.05h-9.49zM477.18 737.27h9.49v2.05h-9.49zM467.99 739.02h9.49v2.05h-9.49zM467.99 742.52h9.49v2.05h-9.49zM477.18 742.52h9.49v2.05h-9.49zM467.99 744.27h9.49v2.05h-9.49zM477.18 744.27h9.49v2.05h-9.49zM458.8 746.02h9.49v2.05h-9.49zM467.99 746.02h9.49v2.05h-9.49zM477.18 746.02h9.49v2.05h-9.49zM477.18 747.76h9.49v2.05h-9.49zM458.8 751.26h9.49v2.05h-9.49zM477.18 751.26h9.49v2.05h-9.49zM467.99 753.01h9.49v2.05h-9.49zM477.18 756.51h9.49v2.05h-9.49zM458.8 758.25h9.49v2.05h-9.49zM467.99 758.25h9.49v2.05h-9.49zM458.8 760h9.49v2.05h-9.49zM467.99 761.75h9.49v1.75h-9.49zM477.18 761.75h9.49v1.75h-9.49z"/><path fill="#3b3bff" d="M467.99 114.72h9.49v2.22h-9.49zM467.99 126.25h9.49v2.22h-9.49zM467.99 143.54h9.49v2.22h-9.49zM467.99 147.39h9.49v2.22h-9.49zM467.99 180.05h9.49v2.22h-9.49zM458.8 235.5h9.49v2.05h-9.49zM458.8 254.73h9.49v2.05h-9.49zM458.8 256.48h9.49v2.05h-9.49zM458.8 263.47h9.49v2.05h-9.49zM458.8 265.22h9.49v2.05h-9.49zM458.8 294.94h9.49v2.05h-9.49zM458.8 296.69h9.49v2.05h-9.49zM458.8 352.64h9.49v2.05h-9.49zM458.8 354.39h9.49v2.05h-9.49zM458.8 356.14h9.49v2.05h-9.49zM458.8 412.08h9.49v2.05h-9.49zM458.8 541.46h9.49v2.05h-9.49zM458.8 543.21h9.49v2.05h-9.49zM458.8 546.71h9.49v2.05h-9.49zM458.8 550.2h9.49v2.05h-9.49zM458.8 555.45h9.49v2.05h-9.49zM458.8 562.44h9.49v2.05h-9.49zM458.8 576.43h9.49v2.05h-9.49zM458.8 583.42h9.49v2.05h-9.49zM458.8 592.16h9.49v2.05h-9.49zM458.8 620.14h9.49v2.05h-9.49zM458.8 639.37h9.49v2.05h-9.49zM458.8 644.61h9.49v2.05h-9.49zM458.8 669.09h9.49v2.05h-9.49zM458.8 676.08h9.49v2.05h-9.49zM458.8 721.54h9.49v2.05h-9.49zM458.8 744.27h9.49v2.05h-9.49z"/><path fill="#0000ff" d="M523.13 114.72h9.49v2.22h-9.49zM523.13 118.56h9.49v2.22h-9.49zM477.18 126.25h9.49v2.22h-9.49zM477.18 130.09h9.49v2.22h-9.49zM523.13 133.94h9.49v2.22h-9.49zM477.18 141.62h9.49v2.22h-9.49zM523.13 141.62h9.49v2.22h-9.49zM467.99 153.15h9.49v2.22h-9.49zM523.13 156.99h9.49v2.22h-9.49zM523.13 158.91h9.49v2.22h-9.49zM523.13 160.84h9.49v2.22h-9.49zM523.13 162.76h9.49v2.22h-9.49zM523.13 168.52h9.49v2.22h-9.49zM523.13 172.36h9.49v2.22h-9.49zM513.94 235.5h9.49v2.05h-9.49zM523.13 242.49h9.49v2.05h-9.49zM523.13 244.24h9.49v2.05h-9.49zM513.94 245.99h9.49v2.05h-9.49zM513.94 249.49h9.49v2.05h-9.49zM513.94 251.24h9.49v2.05h-9.49zM513.94 252.98h9.49v2.05h-9.49zM523.13 256.48h9.49v2.05h-9.49zM523.13 259.98h9.49v2.05h-9.49zM513.94 261.73h9.49v2.05h-9.49zM513.94 265.22h9.49v2.05h-9.49zM513.94 268.72h9.49v2.05h-9.49zM523.13 268.72h9.49v2.05h-9.49zM513.94 279.21h9.49v2.05h-9.49zM513.94 280.96h9.49v2.05h-9.49zM523.13 282.71h9.49v2.05h-9.49zM523.13 284.45h9.49v2.05h-9.49zM523.13 286.2h9.49v2.05h-9.49zM513.94 291.45h9.49v2.05h-9.49zM513.94 293.2h9.49v2.05h-9.49zM513.94 294.94h9.49v2.05h-9.49zM523.13 296.69h9.49v2.05h-9.49zM513.94 298.44h9.49v2.05h-9.49zM523.13 298.44h9.49v2.05h-9.49zM513.94 301.94h9.49v2.05h-9.49zM513.94 305.43h9.49v2.05h-9.49zM513.94 307.18h9.49v2.05h-9.49zM523.13 308.93h9.49v2.05h-9.49zM513.94 310.68h9.49v2.05h-9.49zM523.13 310.68h9.49v2.05h-9.49zM523.13 319.42h9.49v2.05h-9.49zM513.94 321.17h9.49v2.05h-9.49zM523.13 321.17h9.49v2.05h-9.49zM513.94 322.92h9.49v2.05h-9.49zM513.94 324.67h9.49v2.05h-9.49zM523.13 333.41h9.49v2.05h-9.49zM513.94 335.16h9.49v2.05h-9.49zM523.13 335.16h9.49v2.05h-9.49zM513.94 336.9h9.49v2.05h-9.49zM513.94 340.4h9.49v2.05h-9.49zM513.94 342.15h9.49v2.05h-9.49zM523.13 345.65h9.49v2.05h-9.49zM523.13 347.39h9.49v2.05h-9.49zM513.94 349.14h9.49v2.05h-9.49zM513.94 354.39h9.49v2.05h-9.49zM513.94 356.14h9.49v2.05h-9.49zM513.94 357.88h9.49v2.05h-9.49zM523.13 357.88h9.49v2.05h-9.49zM513.94 359.63h9.49v2.05h-9.49zM523.13 364.88h9.49v2.05h-9.49zM513.94 373.62h9.49v2.05h-9.49zM523.13 373.62h9.49v2.05h-9.49zM523.13 375.37h9.49v2.05h-9.49zM523.13 377.12h9.49v2.05h-9.49zM513.94 382.36h9.49v2.05h-9.49zM513.94 385.86h9.49v2.05h-9.49zM513.94 387.61h9.49v2.05h-9.49zM523.13 389.35h9.49v2.05h-9.49zM513.94 391.1h9.49v2.05h-9.49zM513.94 396.35h9.49v2.05h-9.49zM513.94 401.59h9.49v2.05h-9.49zM523.13 401.59h9.49v2.05h-9.49zM523.13 405.09h9.49v2.05h-9.49zM523.13 406.84h9.49v2.05h-9.49zM513.94 408.59h9.49v2.05h-9.49zM513.94 410.33h9.49v2.05h-9.49zM523.13 412.08h9.49v2.05h-9.49zM513.94 413.83h9.49v2.05h-9.49zM523.13 413.83h9.49v2.05h-9.49zM513.94 415.58h9.49v2.05h-9.49zM523.13 420.82h9.49v2.05h-9.49zM523.13 427.82h9.49v2.05h-9.49zM513.94 429.57h9.49v2.05h-9.49zM513.94 431.31h9.49v2.05h-9.49zM513.94 433.06h9.49v2.05h-9.49zM513.94 434.81h9.49v2.05h-9.49zM523.13 436.56h9.49v2.05h-9.49zM513.94 438.31h9.49v2.05h-9.49zM513.94 440.06h9.49v2.05h-9.49zM513.94 441.8h9.49v2.05h-9.49zM513.94 443.55h9.49v2.05h-9.49zM513.94 445.3h9.49v2.05h-9.49zM523.13 445.3h9.49v2.05h-9.49zM523.13 447.05h9.49v2.05h-9.49zM513.94 450.55h9.49v2.05h-9.49zM513.94 452.29h9.49v2.05h-9.49zM523.13 457.54h9.49v2.05h-9.49zM513.94 459.29h9.49v2.05h-9.49zM523.13 459.29h9.49v2.05h-9.49zM523.13 466.28h9.49v2.05h-9.49zM513.94 471.53h9.49v2.05h-9.49zM513.94 475.02h9.49v2.05h-9.49zM513.94 476.77h9.49v2.05h-9.49zM513.94 478.52h9.49v2.05h-9.49zM513.94 480.27h9.49v2.05h-9.49zM513.94 483.76h9.49v2.05h-9.49zM523.13 483.76h9.49v2.05h-9.49zM513.94 485.51h9.49v2.05h-9.49zM513.94 487.26h9.49v2.05h-9.49zM523.13 487.26h9.49v2.05h-9.49zM513.94 494.25h9.49v2.05h-9.49zM523.13 494.25h9.49v2.05h-9.49zM513.94 496h9.49v2.05h-9.49zM523.13 499.5h9.49v2.05h-9.49zM513.94 501.25h9.49v2.05h-9.49zM523.13 501.25h9.49v2.05h-9.49zM513.94 503h9.49v2.05h-9.49zM513.94 504.75h9.49v2.05h-9.49zM513.94 506.49h9.49v2.05h-9.49zM513.94 515.24h9.49v2.05h-9.49zM513.94 518.73h9.49v2.05h-9.49zM523.13 518.73h9.49v2.05h-9.49zM513.94 520.48h9.49v2.05h-9.49zM523.13 520.48h9.49v2.05h-9.49zM523.13 523.98h9.49v2.05h-9.49zM513.94 525.73h9.49v2.05h-9.49zM523.13 525.73h9.49v2.05h-9.49zM513.94 532.72h9.49v2.05h-9.49zM523.13 532.72h9.49v2.05h-9.49zM513.94 536.22h9.49v2.05h-9.49zM513.94 537.96h9.49v2.05h-9.49zM513.94 541.46h9.49v2.05h-9.49zM523.13 543.21h9.49v2.05h-9.49zM513.94 544.96h9.49v2.05h-9.49zM513.94 546.71h9.49v2.05h-9.49zM513.94 548.45h9.49v2.05h-9.49zM513.94 550.2h9.49v2.05h-9.49zM513.94 551.95h9.49v2.05h-9.49zM523.13 553.7h9.49v2.05h-9.49zM523.13 557.2h9.49v2.05h-9.49zM513.94 560.69h9.49v2.05h-9.49zM523.13 560.69h9.49v2.05h-9.49zM513.94 564.19h9.49v2.05h-9.49zM523.13 565.94h9.49v2.05h-9.49zM513.94 567.69h9.49v2.05h-9.49zM523.13 567.69h9.49v2.05h-9.49zM513.94 572.93h9.49v2.05h-9.49zM523.13 572.93h9.49v2.05h-9.49zM513.94 574.68h9.49v2.05h-9.49zM513.94 576.43h9.49v2.05h-9.49zM513.94 578.18h9.49v2.05h-9.49zM523.13 578.18h9.49v2.05h-9.49zM513.94 579.92h9.49v2.05h-9.49zM513.94 581.67h9.49v2.05h-9.49zM513.94 583.42h9.49v2.05h-9.49zM523.13 583.42h9.49v2.05h-9.49zM513.94 586.92h9.49v2.05h-9.49zM513.94 588.67h9.49v2.05h-9.49zM513.94 590.41h9.49v2.05h-9.49zM523.13 592.16h9.49v2.05h-9.49zM513.94 593.91h9.49v2.05h-9.49zM523.13 597.41h9.49v2.05h-9.49zM513.94 602.65h9.49v2.05h-9.49zM513.94 606.15h9.49v2.05h-9.49zM513.94 607.9h9.49v2.05h-9.49zM523.13 607.9h9.49v2.05h-9.49zM513.94 609.65h9.49v2.05h-9.49zM513.94 611.39h9.49v2.05h-9.49zM523.13 613.14h9.49v2.05h-9.49zM513.94 614.89h9.49v2.05h-9.49zM523.13 614.89h9.49v2.05h-9.49zM513.94 618.39h9.49v2.05h-9.49zM523.13 620.14h9.49v2.05h-9.49zM513.94 627.13h9.49v2.05h-9.49zM513.94 628.88h9.49v2.05h-9.49zM513.94 630.63h9.49v2.05h-9.49zM513.94 632.37h9.49v2.05h-9.49zM513.94 634.12h9.49v2.05h-9.49zM513.94 635.87h9.49v2.05h-9.49zM523.13 635.87h9.49v2.05h-9.49zM513.94 637.62h9.49v2.05h-9.49zM523.13 637.62h9.49v2.05h-9.49zM513.94 646.36h9.49v2.05h-9.49zM513.94 648.11h9.49v2.05h-9.49zM513.94 651.61h9.49v2.05h-9.49zM523.13 651.61h9.49v2.05h-9.49zM513.94 653.35h9.49v2.05h-9.49zM523.13 653.35h9.49v2.05h-9.49zM513.94 655.1h9.49v2.05h-9.49zM513.94 660.35h9.49v2.05h-9.49zM513.94 662.1h9.49v2.05h-9.49zM513.94 663.84h9.49v2.05h-9.49zM513.94 665.59h9.49v2.05h-9.49zM523.13 667.34h9.49v2.05h-9.49zM513.94 669.09h9.49v2.05h-9.49zM523.13 669.09h9.49v2.05h-9.49zM523.13 676.08h9.49v2.05h-9.49zM513.94 677.83h9.49v2.05h-9.49zM523.13 679.58h9.49v2.05h-9.49zM513.94 681.33h9.49v2.05h-9.49zM513.94 683.08h9.49v2.05h-9.49zM513.94 688.32h9.49v2.05h-9.49zM523.13 688.32h9.49v2.05h-9.49zM513.94 693.57h9.49v2.05h-9.49zM523.13 693.57h9.49v2.05h-9.49zM513.94 698.81h9.49v2.05h-9.49zM513.94 705.8h9.49v2.05h-9.49zM523.13 705.8h9.49v2.05h-9.49zM523.13 712.8h9.49v2.05h-9.49zM513.94 716.29h9.49v2.05h-9.49zM523.13 718.04h9.49v2.05h-9.49zM513.94 723.29h9.49v2.05h-9.49zM523.13 726.78h9.49v2.05h-9.49zM513.94 730.28h9.49v2.05h-9.49zM523.13 730.28h9.49v2.05h-9.49zM513.94 732.03h9.49v2.05h-9.49zM523.13 732.03h9.49v2.05h-9.49zM523.13 733.78h9.49v2.05h-9.49zM513.94 735.53h9.49v2.05h-9.49zM513.94 737.27h9.49v2.05h-9.49zM523.13 737.27h9.49v2.05h-9.49zM513.94 740.77h9.49v2.05h-9.49zM523.13 742.52h9.49v2.05h-9.49zM513.94 746.02h9.49v2.05h-9.49zM513.94 751.26h9.49v2.05h-9.49zM523.13 753.01h9.49v2.05h-9.49zM523.13 754.76h9.49v2.05h-9.49zM513.94 758.25h9.49v2.05h-9.49z"/><path fill="#ff7676" d="M642.61 114.72h9.19v2.22h-9.19zM559.9 116.64h9.49v2.22h-9.49zM559.9 120.49h9.49v2.22h-9.49zM541.51 122.41h9.49v2.22h-9.49zM569.09 126.25h9.49v2.22h-9.49zM541.51 130.09h9.49v2.22h-9.49zM541.51 139.7h9.49v2.22h-9.49zM541.51 143.54h9.49v2.22h-9.49zM559.9 145.46h9.49v2.22h-9.49zM642.61 153.15h9.19v2.22h-9.19zM596.66 155.07h9.49v2.22h-9.49zM596.66 160.84h9.49v2.22h-9.49zM541.51 168.52h9.49v2.22h-9.49zM541.51 170.44h9.49v2.22h-9.49zM559.9 170.44h9.49v2.22h-9.49zM642.61 172.36h9.19v2.22h-9.19zM541.51 176.21h9.49v2.22h-9.49zM596.66 235.5h9.49v2.05h-9.49zM596.66 240.75h9.49v2.05h-9.49zM596.66 258.23h9.49v2.05h-9.49zM596.66 265.22h9.49v2.05h-9.49zM633.42 268.72h9.49v2.05h-9.49zM596.66 275.71h9.49v2.05h-9.49zM605.85 296.69h9.49v2.05h-9.49zM596.66 305.43h9.49v2.05h-9.49zM569.09 317.67h9.49v2.05h-9.49zM605.85 319.42h9.49v2.05h-9.49zM596.66 328.16h9.49v2.05h-9.49zM569.09 342.15h9.49v2.05h-9.49zM596.66 343.9h9.49v2.05h-9.49zM596.66 345.65h9.49v2.05h-9.49zM605.85 352.64h9.49v2.05h-9.49zM596.66 361.38h9.49v2.05h-9.49zM605.85 377.12h9.49v2.05h-9.49zM596.66 396.35h9.49v2.05h-9.49zM596.66 457.54h9.49v2.05h-9.49zM605.85 459.29h9.49v2.05h-9.49zM596.66 461.04h9.49v2.05h-9.49zM605.85 471.53h9.49v2.05h-9.49zM605.85 475.02h9.49v2.05h-9.49zM633.42 483.76h9.49v2.05h-9.49zM596.66 503h9.49v2.05h-9.49zM605.85 508.24h9.49v2.05h-9.49zM605.85 544.96h9.49v2.05h-9.49zM605.85 548.45h9.49v2.05h-9.49zM633.42 562.44h9.49v2.05h-9.49zM605.85 606.15h9.49v2.05h-9.49zM642.61 663.84h9.19v2.05h-9.19zM633.42 670.84h9.49v2.05h-9.49zM569.09 676.08h9.49v2.05h-9.49zM633.42 677.83h9.49v2.05h-9.49zM587.47 681.33h9.49v2.05h-9.49zM596.66 683.08h9.49v2.05h-9.49zM633.42 684.82h9.49v2.05h-9.49zM605.85 697.06h9.49v2.05h-9.49zM605.85 721.54h9.49v2.05h-9.49zM596.66 728.53h9.49v2.05h-9.49z"/><path fill="#4e4eff" d="M458.8 116.64h9.49v2.22h-9.49zM477.18 118.56h9.49v2.22h-9.49zM458.8 128.17h9.49v2.22h-9.49zM458.8 139.7h9.49v2.22h-9.49zM458.8 172.36h9.49v2.22h-9.49zM458.8 178.13h9.49v2.22h-9.49zM532.32 187.74h9.49v2.22h-9.49zM458.8 191.58h9.49v1.92h-9.49zM513.94 424.32h9.49v2.05h-9.49zM477.18 487.26h9.49v2.05h-9.49zM532.32 513.49h9.49v2.05h-9.49zM532.32 604.4h9.49v2.05h-9.49zM477.18 625.38h9.49v2.05h-9.49zM513.94 704.06h9.49v2.05h-9.49zM513.94 711.05h9.49v2.05h-9.49z"/><path fill="#ffc4c4" d="M541.51 116.64h9.49v2.22h-9.49zM559.9 118.56h9.49v2.22h-9.49zM642.61 137.78h9.19v2.22h-9.19zM633.42 145.46h9.49v2.22h-9.49zM541.51 147.39h9.49v2.22h-9.49zM642.61 149.31h9.19v2.22h-9.19zM541.51 156.99h9.49v2.22h-9.49zM642.61 156.99h9.19v2.22h-9.19zM642.61 158.91h9.19v2.22h-9.19zM541.51 162.76h9.49v2.22h-9.49zM642.61 164.68h9.19v2.22h-9.19zM541.51 172.36h9.49v2.22h-9.49zM642.61 178.13h9.19v2.22h-9.19zM559.9 183.89h9.49v2.22h-9.49zM605.85 235.5h9.49v2.05h-9.49zM596.66 237.25h9.49v2.05h-9.49zM559.9 252.98h9.49v2.05h-9.49zM559.9 266.97h9.49v2.05h-9.49zM541.51 270.47h9.49v2.05h-9.49zM559.9 286.2h9.49v2.05h-9.49zM596.66 291.45h9.49v2.05h-9.49zM541.51 331.66h9.49v2.05h-9.49zM596.66 342.15h9.49v2.05h-9.49zM559.9 371.87h9.49v2.05h-9.49zM633.42 382.36h9.49v2.05h-9.49zM605.85 384.11h9.49v2.05h-9.49zM605.85 387.61h9.49v2.05h-9.49zM596.66 391.1h9.49v2.05h-9.49zM559.9 399.84h9.49v2.05h-9.49zM559.9 415.58h9.49v2.05h-9.49zM541.51 445.3h9.49v2.05h-9.49zM596.66 475.02h9.49v2.05h-9.49zM559.9 489.01h9.49v2.05h-9.49zM541.51 501.25h9.49v2.05h-9.49zM559.9 504.75h9.49v2.05h-9.49zM559.9 518.73h9.49v2.05h-9.49zM541.51 520.48h9.49v2.05h-9.49zM559.9 529.22h9.49v2.05h-9.49zM559.9 530.97h9.49v2.05h-9.49zM559.9 534.47h9.49v2.05h-9.49zM559.9 539.71h9.49v2.05h-9.49zM541.51 558.94h9.49v2.05h-9.49zM596.66 558.94h9.49v2.05h-9.49zM559.9 567.69h9.49v2.05h-9.49zM596.66 571.18h9.49v2.05h-9.49zM559.9 593.91h9.49v2.05h-9.49zM596.66 613.14h9.49v2.05h-9.49zM559.9 614.89h9.49v2.05h-9.49zM596.66 614.89h9.49v2.05h-9.49zM559.9 620.14h9.49v2.05h-9.49zM559.9 632.37h9.49v2.05h-9.49zM559.9 634.12h9.49v2.05h-9.49zM596.66 644.61h9.49v2.05h-9.49zM559.9 655.1h9.49v2.05h-9.49zM559.9 662.1h9.49v2.05h-9.49zM633.42 662.1h9.49v2.05h-9.49zM596.66 674.33h9.49v2.05h-9.49zM559.9 683.08h9.49v2.05h-9.49zM605.85 704.06h9.49v2.05h-9.49zM633.42 718.04h9.49v2.05h-9.49zM559.9 721.54h9.49v2.05h-9.49zM559.9 726.78h9.49v2.05h-9.49zM633.42 728.53h9.49v2.05h-9.49zM596.66 739.02h9.49v2.05h-9.49zM559.9 751.26h9.49v2.05h-9.49zM559.9 753.01h9.49v2.05h-9.49zM596.66 753.01h9.49v2.05h-9.49zM541.51 758.25h9.49v2.05h-9.49z"/><path fill="#d8d8ff" d="M532.32 118.56h9.49v2.22h-9.49zM532.32 143.54h9.49v2.22h-9.49zM532.32 155.07h9.49v2.22h-9.49zM532.32 162.76h9.49v2.22h-9.49zM532.32 247.74h9.49v2.05h-9.49zM532.32 256.48h9.49v2.05h-9.49zM532.32 259.98h9.49v2.05h-9.49zM458.8 266.97h9.49v2.05h-9.49zM532.32 279.21h9.49v2.05h-9.49zM532.32 284.45h9.49v2.05h-9.49zM532.32 301.94h9.49v2.05h-9.49zM532.32 310.68h9.49v2.05h-9.49zM458.8 315.92h9.49v2.05h-9.49zM532.32 329.91h9.49v2.05h-9.49zM532.32 335.16h9.49v2.05h-9.49zM532.32 336.9h9.49v2.05h-9.49zM458.8 366.63h9.49v2.05h-9.49zM458.8 373.62h9.49v2.05h-9.49zM532.32 375.37h9.49v2.05h-9.49zM532.32 378.86h9.49v2.05h-9.49zM532.32 380.61h9.49v2.05h-9.49zM532.32 387.61h9.49v2.05h-9.49zM532.32 389.35h9.49v2.05h-9.49zM532.32 391.1h9.49v2.05h-9.49zM532.32 394.6h9.49v2.05h-9.49zM458.8 396.35h9.49v2.05h-9.49zM532.32 399.84h9.49v2.05h-9.49zM532.32 403.34h9.49v2.05h-9.49zM532.32 436.56h9.49v2.05h-9.49zM458.8 441.8h9.49v2.05h-9.49zM532.32 475.02h9.49v2.05h-9.49zM532.32 476.77h9.49v2.05h-9.49zM458.8 482.02h9.49v2.05h-9.49zM458.8 487.26h9.49v2.05h-9.49zM458.8 496h9.49v2.05h-9.49zM532.32 499.5h9.49v2.05h-9.49zM458.8 501.25h9.49v2.05h-9.49zM532.32 501.25h9.49v2.05h-9.49zM532.32 508.24h9.49v2.05h-9.49zM532.32 511.74h9.49v2.05h-9.49zM532.32 518.73h9.49v2.05h-9.49zM532.32 523.98h9.49v2.05h-9.49zM532.32 525.73h9.49v2.05h-9.49zM532.32 529.22h9.49v2.05h-9.49zM458.8 534.47h9.49v2.05h-9.49zM532.32 541.46h9.49v2.05h-9.49zM458.8 544.96h9.49v2.05h-9.49zM532.32 557.2h9.49v2.05h-9.49zM532.32 572.93h9.49v2.05h-9.49zM532.32 585.17h9.49v2.05h-9.49zM532.32 586.92h9.49v2.05h-9.49zM458.8 588.67h9.49v2.05h-9.49zM532.32 599.16h9.49v2.05h-9.49zM532.32 606.15h9.49v2.05h-9.49zM532.32 611.39h9.49v2.05h-9.49zM458.8 616.64h9.49v2.05h-9.49zM532.32 618.39h9.49v2.05h-9.49zM458.8 625.38h9.49v2.05h-9.49zM532.32 627.13h9.49v2.05h-9.49zM458.8 628.88h9.49v2.05h-9.49zM532.32 628.88h9.49v2.05h-9.49zM458.8 632.37h9.49v2.05h-9.49zM458.8 635.87h9.49v2.05h-9.49zM532.32 639.37h9.49v2.05h-9.49zM532.32 655.1h9.49v2.05h-9.49zM532.32 677.83h9.49v2.05h-9.49zM532.32 683.08h9.49v2.05h-9.49zM532.32 697.06h9.49v2.05h-9.49zM532.32 740.77h9.49v2.05h-9.49zM532.32 761.75h9.49v1.75h-9.49z"/><path fill="#ffb1b1" d="M541.51 120.49h9.49v2.22h-9.49zM642.61 122.41h9.19v2.22h-9.19zM642.61 130.09h9.19v2.22h-9.19zM642.61 135.86h9.19v2.22h-9.19zM633.42 147.39h9.49v2.22h-9.49zM642.61 170.44h9.19v2.22h-9.19zM642.61 180.05h9.19v2.22h-9.19zM642.61 181.97h9.19v2.22h-9.19zM642.61 185.81h9.19v2.22h-9.19zM596.66 247.74h9.49v2.05h-9.49zM642.61 254.73h9.19v2.05h-9.19zM559.9 256.48h9.49v2.05h-9.49zM559.9 258.23h9.49v2.05h-9.49zM642.61 266.97h9.19v2.05h-9.19zM642.61 270.47h9.19v2.05h-9.19zM605.85 277.46h9.49v2.05h-9.49zM569.09 289.7h9.49v2.05h-9.49zM559.9 298.44h9.49v2.05h-9.49zM559.9 310.68h9.49v2.05h-9.49zM596.66 312.43h9.49v2.05h-9.49zM559.9 315.92h9.49v2.05h-9.49zM559.9 329.91h9.49v2.05h-9.49zM559.9 335.16h9.49v2.05h-9.49zM559.9 338.65h9.49v2.05h-9.49zM642.61 356.14h9.19v2.05h-9.19zM642.61 364.88h9.19v2.05h-9.19zM559.9 384.11h9.49v2.05h-9.49zM541.51 391.1h9.49v2.05h-9.49zM596.66 392.85h9.49v2.05h-9.49zM541.51 403.34h9.49v2.05h-9.49zM559.9 403.34h9.49v2.05h-9.49zM559.9 413.83h9.49v2.05h-9.49zM642.61 419.08h9.19v2.05h-9.19zM559.9 420.82h9.49v2.05h-9.49zM569.09 422.57h9.49v2.05h-9.49zM642.61 426.07h9.19v2.05h-9.19zM559.9 427.82h9.49v2.05h-9.49zM559.9 440.06h9.49v2.05h-9.49zM642.61 447.05h9.19v2.05h-9.19zM559.9 448.8h9.49v2.05h-9.49zM596.66 450.55h9.49v2.05h-9.49zM642.61 455.79h9.19v2.05h-9.19zM642.61 462.78h9.19v2.05h-9.19zM642.61 469.78h9.19v2.05h-9.19zM559.9 478.52h9.49v2.05h-9.49zM605.85 478.52h9.49v2.05h-9.49zM559.9 480.27h9.49v2.05h-9.49zM642.61 487.26h9.19v2.05h-9.19zM596.66 497.75h9.49v2.05h-9.49zM559.9 515.24h9.49v2.05h-9.49zM596.66 530.97h9.49v2.05h-9.49zM559.9 532.72h9.49v2.05h-9.49zM559.9 543.21h9.49v2.05h-9.49zM559.9 548.45h9.49v2.05h-9.49zM642.61 555.45h9.19v2.05h-9.19zM559.9 560.69h9.49v2.05h-9.49zM642.61 562.44h9.19v2.05h-9.19zM559.9 574.68h9.49v2.05h-9.49zM642.61 574.68h9.19v2.05h-9.19zM596.66 578.18h9.49v2.05h-9.49zM642.61 592.16h9.19v2.05h-9.19zM633.42 595.66h9.49v2.05h-9.49zM559.9 602.65h9.49v2.05h-9.49zM541.51 614.89h9.49v2.05h-9.49zM559.9 623.63h9.49v2.05h-9.49zM541.51 634.12h9.49v2.05h-9.49zM605.85 634.12h9.49v2.05h-9.49zM541.51 639.37h9.49v2.05h-9.49zM559.9 649.86h9.49v2.05h-9.49zM559.9 651.61h9.49v2.05h-9.49zM596.66 658.6h9.49v2.05h-9.49zM596.66 670.84h9.49v2.05h-9.49zM559.9 681.33h9.49v2.05h-9.49zM605.85 683.08h9.49v2.05h-9.49zM559.9 684.82h9.49v2.05h-9.49zM559.9 698.81h9.49v2.05h-9.49zM559.9 702.31h9.49v2.05h-9.49zM541.51 705.8h9.49v2.05h-9.49zM633.42 707.55h9.49v2.05h-9.49zM559.9 718.04h9.49v2.05h-9.49zM642.61 737.27h9.19v2.05h-9.19zM642.61 739.02h9.19v2.05h-9.19zM559.9 747.76h9.49v2.05h-9.49zM559.9 749.51h9.49v2.05h-9.49zM559.9 754.76h9.49v2.05h-9.49zM633.42 760h9.49v2.05h-9.49z"/><path fill="#ff3b3b" d="M596.66 120.49h9.49v2.22h-9.49zM596.66 122.41h9.49v2.22h-9.49zM587.47 126.25h9.49v2.22h-9.49zM587.47 130.09h9.49v2.22h-9.49zM587.47 132.01h9.49v2.22h-9.49zM596.66 139.7h9.49v2.22h-9.49zM596.66 145.46h9.49v2.22h-9.49zM587.47 153.15h9.49v2.22h-9.49zM596.66 153.15h9.49v2.22h-9.49zM587.47 156.99h9.49v2.22h-9.49zM541.51 158.91h9.49v2.22h-9.49zM587.47 158.91h9.49v2.22h-9.49zM587.47 166.6h9.49v2.22h-9.49zM596.66 166.6h9.49v2.22h-9.49zM587.47 172.36h9.49v2.22h-9.49zM624.23 185.81h9.49v2.22h-9.49zM596.66 189.66h9.49v2.22h-9.49zM596.66 191.58h9.49v1.92h-9.49zM587.47 235.5h9.49v2.05h-9.49zM587.47 242.49h9.49v2.05h-9.49zM596.66 242.49h9.49v2.05h-9.49zM596.66 244.24h9.49v2.05h-9.49zM605.85 245.99h9.49v2.05h-9.49zM605.85 247.74h9.49v2.05h-9.49zM596.66 254.73h9.49v2.05h-9.49zM605.85 254.73h9.49v2.05h-9.49zM596.66 256.48h9.49v2.05h-9.49zM605.85 256.48h9.49v2.05h-9.49zM605.85 261.73h9.49v2.05h-9.49zM587.47 263.47h9.49v2.05h-9.49zM596.66 268.72h9.49v2.05h-9.49zM605.85 273.96h9.49v2.05h-9.49zM605.85 275.71h9.49v2.05h-9.49zM596.66 279.21h9.49v2.05h-9.49zM587.47 280.96h9.49v2.05h-9.49zM596.66 280.96h9.49v2.05h-9.49zM587.47 282.71h9.49v2.05h-9.49zM587.47 284.45h9.49v2.05h-9.49zM605.85 284.45h9.49v2.05h-9.49zM605.85 286.2h9.49v2.05h-9.49zM541.51 287.95h9.49v2.05h-9.49zM605.85 289.7h9.49v2.05h-9.49zM587.47 291.45h9.49v2.05h-9.49zM605.85 294.94h9.49v2.05h-9.49zM587.47 296.69h9.49v2.05h-9.49zM605.85 300.19h9.49v2.05h-9.49zM587.47 303.69h9.49v2.05h-9.49zM605.85 303.69h9.49v2.05h-9.49zM541.51 307.18h9.49v2.05h-9.49zM605.85 307.18h9.49v2.05h-9.49zM541.51 308.93h9.49v2.05h-9.49zM587.47 310.68h9.49v2.05h-9.49zM587.47 314.18h9.49v2.05h-9.49zM541.51 315.92h9.49v2.05h-9.49zM587.47 315.92h9.49v2.05h-9.49zM596.66 315.92h9.49v2.05h-9.49zM605.85 315.92h9.49v2.05h-9.49zM587.47 319.42h9.49v2.05h-9.49zM541.51 321.17h9.49v2.05h-9.49zM605.85 321.17h9.49v2.05h-9.49zM587.47 324.67h9.49v2.05h-9.49zM605.85 324.67h9.49v2.05h-9.49zM596.66 326.41h9.49v2.05h-9.49zM587.47 328.16h9.49v2.05h-9.49zM559.9 333.41h9.49v2.05h-9.49zM596.66 333.41h9.49v2.05h-9.49zM596.66 335.16h9.49v2.05h-9.49zM587.47 336.9h9.49v2.05h-9.49zM605.85 336.9h9.49v2.05h-9.49zM587.47 338.65h9.49v2.05h-9.49zM605.85 338.65h9.49v2.05h-9.49zM587.47 343.9h9.49v2.05h-9.49zM541.51 347.39h9.49v2.05h-9.49zM559.9 349.14h9.49v2.05h-9.49zM605.85 354.39h9.49v2.05h-9.49zM587.47 356.14h9.49v2.05h-9.49zM587.47 359.63h9.49v2.05h-9.49zM587.47 361.38h9.49v2.05h-9.49zM541.51 363.13h9.49v2.05h-9.49zM605.85 363.13h9.49v2.05h-9.49zM541.51 368.37h9.49v2.05h-9.49zM587.47 370.12h9.49v2.05h-9.49zM605.85 370.12h9.49v2.05h-9.49zM596.66 373.62h9.49v2.05h-9.49zM605.85 375.37h9.49v2.05h-9.49zM605.85 380.61h9.49v2.05h-9.49zM596.66 382.36h9.49v2.05h-9.49zM596.66 385.86h9.49v2.05h-9.49zM587.47 387.61h9.49v2.05h-9.49zM596.66 394.6h9.49v2.05h-9.49zM541.51 396.35h9.49v2.05h-9.49zM587.47 398.1h9.49v2.05h-9.49zM596.66 399.84h9.49v2.05h-9.49zM605.85 399.84h9.49v2.05h-9.49zM605.85 406.84h9.49v2.05h-9.49zM596.66 412.08h9.49v2.05h-9.49zM596.66 415.58h9.49v2.05h-9.49zM605.85 417.33h9.49v2.05h-9.49zM541.51 419.08h9.49v2.05h-9.49zM605.85 419.08h9.49v2.05h-9.49zM596.66 420.82h9.49v2.05h-9.49zM587.47 422.57h9.49v2.05h-9.49zM587.47 424.32h9.49v2.05h-9.49zM587.47 426.07h9.49v2.05h-9.49zM596.66 426.07h9.49v2.05h-9.49zM596.66 427.82h9.49v2.05h-9.49zM605.85 427.82h9.49v2.05h-9.49zM541.51 429.57h9.49v2.05h-9.49zM541.51 431.31h9.49v2.05h-9.49zM541.51 433.06h9.49v2.05h-9.49zM605.85 433.06h9.49v2.05h-9.49zM596.66 434.81h9.49v2.05h-9.49zM605.85 436.56h9.49v2.05h-9.49zM587.47 440.06h9.49v2.05h-9.49zM605.85 440.06h9.49v2.05h-9.49zM605.85 441.8h9.49v2.05h-9.49zM587.47 443.55h9.49v2.05h-9.49zM605.85 443.55h9.49v2.05h-9.49zM605.85 447.05h9.49v2.05h-9.49zM596.66 448.8h9.49v2.05h-9.49zM605.85 448.8h9.49v2.05h-9.49zM605.85 450.55h9.49v2.05h-9.49zM605.85 452.29h9.49v2.05h-9.49zM605.85 455.79h9.49v2.05h-9.49zM596.66 462.78h9.49v2.05h-9.49zM605.85 468.03h9.49v2.05h-9.49zM587.47 476.77h9.49v2.05h-9.49zM587.47 480.27h9.49v2.05h-9.49zM596.66 483.76h9.49v2.05h-9.49zM559.9 485.51h9.49v2.05h-9.49zM605.85 485.51h9.49v2.05h-9.49zM596.66 487.26h9.49v2.05h-9.49zM587.47 489.01h9.49v2.05h-9.49zM596.66 489.01h9.49v2.05h-9.49zM605.85 489.01h9.49v2.05h-9.49zM605.85 490.76h9.49v2.05h-9.49zM587.47 492.51h9.49v2.05h-9.49zM596.66 494.25h9.49v2.05h-9.49zM605.85 501.25h9.49v2.05h-9.49zM587.47 508.24h9.49v2.05h-9.49zM587.47 509.99h9.49v2.05h-9.49zM596.66 509.99h9.49v2.05h-9.49zM596.66 511.74h9.49v2.05h-9.49zM587.47 513.49h9.49v2.05h-9.49zM596.66 513.49h9.49v2.05h-9.49zM596.66 516.98h9.49v2.05h-9.49zM605.85 516.98h9.49v2.05h-9.49zM605.85 520.48h9.49v2.05h-9.49zM596.66 522.23h9.49v2.05h-9.49zM605.85 522.23h9.49v2.05h-9.49zM605.85 523.98h9.49v2.05h-9.49zM605.85 525.73h9.49v2.05h-9.49zM587.47 529.22h9.49v2.05h-9.49zM596.66 529.22h9.49v2.05h-9.49zM587.47 536.22h9.49v2.05h-9.49zM605.85 537.96h9.49v2.05h-9.49zM605.85 539.71h9.49v2.05h-9.49zM587.47 541.46h9.49v2.05h-9.49zM605.85 541.46h9.49v2.05h-9.49zM605.85 546.71h9.49v2.05h-9.49zM596.66 548.45h9.49v2.05h-9.49zM541.51 553.7h9.49v2.05h-9.49zM587.47 553.7h9.49v2.05h-9.49zM587.47 555.45h9.49v2.05h-9.49zM587.47 558.94h9.49v2.05h-9.49zM596.66 560.69h9.49v2.05h-9.49zM605.85 560.69h9.49v2.05h-9.49zM587.47 562.44h9.49v2.05h-9.49zM605.85 565.94h9.49v2.05h-9.49zM587.47 576.43h9.49v2.05h-9.49zM587.47 578.18h9.49v2.05h-9.49zM587.47 579.92h9.49v2.05h-9.49zM587.47 581.67h9.49v2.05h-9.49zM559.9 585.17h9.49v2.05h-9.49zM605.85 585.17h9.49v2.05h-9.49zM605.85 590.41h9.49v2.05h-9.49zM605.85 592.16h9.49v2.05h-9.49zM605.85 593.91h9.49v2.05h-9.49zM587.47 595.66h9.49v2.05h-9.49zM596.66 597.41h9.49v2.05h-9.49zM605.85 597.41h9.49v2.05h-9.49zM605.85 599.16h9.49v2.05h-9.49zM587.47 600.9h9.49v2.05h-9.49zM605.85 600.9h9.49v2.05h-9.49zM587.47 602.65h9.49v2.05h-9.49zM596.66 602.65h9.49v2.05h-9.49zM596.66 606.15h9.49v2.05h-9.49zM605.85 607.9h9.49v2.05h-9.49zM587.47 609.65h9.49v2.05h-9.49zM605.85 609.65h9.49v2.05h-9.49zM605.85 611.39h9.49v2.05h-9.49zM541.51 613.14h9.49v2.05h-9.49zM605.85 614.89h9.49v2.05h-9.49zM541.51 616.64h9.49v2.05h-9.49zM587.47 616.64h9.49v2.05h-9.49zM596.66 620.14h9.49v2.05h-9.49zM596.66 623.63h9.49v2.05h-9.49zM596.66 625.38h9.49v2.05h-9.49zM541.51 628.88h9.49v2.05h-9.49zM587.47 630.63h9.49v2.05h-9.49zM596.66 630.63h9.49v2.05h-9.49zM605.85 632.37h9.49v2.05h-9.49zM596.66 634.12h9.49v2.05h-9.49zM596.66 639.37h9.49v2.05h-9.49zM541.51 641.12h9.49v2.05h-9.49zM605.85 641.12h9.49v2.05h-9.49zM605.85 642.86h9.49v2.05h-9.49zM587.47 646.36h9.49v2.05h-9.49zM605.85 651.61h9.49v2.05h-9.49zM587.47 653.35h9.49v2.05h-9.49zM596.66 653.35h9.49v2.05h-9.49zM605.85 655.1h9.49v2.05h-9.49zM605.85 656.85h9.49v2.05h-9.49zM541.51 660.35h9.49v2.05h-9.49zM605.85 660.35h9.49v2.05h-9.49zM605.85 672.59h9.49v2.05h-9.49zM596.66 676.08h9.49v2.05h-9.49zM605.85 676.08h9.49v2.05h-9.49zM605.85 679.58h9.49v2.05h-9.49zM605.85 681.33h9.49v2.05h-9.49zM596.66 684.82h9.49v2.05h-9.49zM587.47 688.32h9.49v2.05h-9.49zM596.66 688.32h9.49v2.05h-9.49zM605.85 690.07h9.49v2.05h-9.49zM587.47 693.57h9.49v2.05h-9.49zM587.47 698.81h9.49v2.05h-9.49zM587.47 700.56h9.49v2.05h-9.49zM587.47 702.31h9.49v2.05h-9.49zM605.85 702.31h9.49v2.05h-9.49zM596.66 704.06h9.49v2.05h-9.49zM596.66 707.55h9.49v2.05h-9.49zM605.85 707.55h9.49v2.05h-9.49zM587.47 711.05h9.49v2.05h-9.49zM605.85 711.05h9.49v2.05h-9.49zM605.85 712.8h9.49v2.05h-9.49zM596.66 714.55h9.49v2.05h-9.49zM605.85 714.55h9.49v2.05h-9.49zM587.47 716.29h9.49v2.05h-9.49zM587.47 718.04h9.49v2.05h-9.49zM596.66 719.79h9.49v2.05h-9.49zM587.47 723.29h9.49v2.05h-9.49zM605.85 723.29h9.49v2.05h-9.49zM587.47 726.78h9.49v2.05h-9.49zM605.85 726.78h9.49v2.05h-9.49zM541.51 732.03h9.49v2.05h-9.49zM587.47 733.78h9.49v2.05h-9.49zM596.66 733.78h9.49v2.05h-9.49zM559.9 735.53h9.49v2.05h-9.49zM605.85 735.53h9.49v2.05h-9.49zM541.51 737.27h9.49v2.05h-9.49zM596.66 742.52h9.49v2.05h-9.49zM587.47 744.27h9.49v2.05h-9.49zM559.9 746.02h9.49v2.05h-9.49zM596.66 749.51h9.49v2.05h-9.49zM605.85 749.51h9.49v2.05h-9.49zM605.85 751.26h9.49v2.05h-9.49zM596.66 756.51h9.49v2.05h-9.49zM605.85 756.51h9.49v2.05h-9.49zM596.66 760h9.49v2.05h-9.49z"/><path fill="#ff0000" d="M624.23 120.49h9.49v2.22h-9.49zM624.23 128.17h9.49v2.22h-9.49zM624.23 130.09h9.49v2.22h-9.49zM624.23 133.94h9.49v2.22h-9.49zM605.85 139.7h9.49v2.22h-9.49zM624.23 151.23h9.49v2.22h-9.49zM605.85 156.99h9.49v2.22h-9.49zM624.23 156.99h9.49v2.22h-9.49zM624.23 158.91h9.49v2.22h-9.49zM559.9 162.76h9.49v2.22h-9.49zM633.42 162.76h9.49v2.22h-9.49zM624.23 174.29h9.49v2.22h-9.49zM569.09 187.74h9.49v2.22h-9.49zM587.47 187.74h9.49v2.22h-9.49zM605.85 189.66h9.49v2.22h-9.49zM624.23 242.49h9.49v2.05h-9.49zM624.23 251.24h9.49v2.05h-9.49zM624.23 270.47h9.49v2.05h-9.49zM624.23 286.2h9.49v2.05h-9.49zM541.51 298.44h9.49v2.05h-9.49zM624.23 303.69h9.49v2.05h-9.49zM541.51 322.92h9.49v2.05h-9.49zM624.23 347.39h9.49v2.05h-9.49zM624.23 352.64h9.49v2.05h-9.49zM624.23 357.88h9.49v2.05h-9.49zM587.47 368.37h9.49v2.05h-9.49zM624.23 370.12h9.49v2.05h-9.49zM596.66 378.86h9.49v2.05h-9.49zM541.51 398.1h9.49v2.05h-9.49zM624.23 408.59h9.49v2.05h-9.49zM541.51 413.83h9.49v2.05h-9.49zM624.23 413.83h9.49v2.05h-9.49zM624.23 419.08h9.49v2.05h-9.49zM624.23 436.56h9.49v2.05h-9.49zM541.51 440.06h9.49v2.05h-9.49zM624.23 447.05h9.49v2.05h-9.49zM624.23 452.29h9.49v2.05h-9.49zM541.51 455.79h9.49v2.05h-9.49zM541.51 459.29h9.49v2.05h-9.49zM624.23 459.29h9.49v2.05h-9.49zM624.23 462.78h9.49v2.05h-9.49zM624.23 466.28h9.49v2.05h-9.49zM624.23 480.27h9.49v2.05h-9.49zM624.23 485.51h9.49v2.05h-9.49zM624.23 489.01h9.49v2.05h-9.49zM624.23 492.51h9.49v2.05h-9.49zM569.09 494.25h9.49v2.05h-9.49zM624.23 494.25h9.49v2.05h-9.49zM541.51 511.74h9.49v2.05h-9.49zM541.51 515.24h9.49v2.05h-9.49zM624.23 515.24h9.49v2.05h-9.49zM624.23 520.48h9.49v2.05h-9.49zM624.23 525.73h9.49v2.05h-9.49zM624.23 536.22h9.49v2.05h-9.49zM624.23 539.71h9.49v2.05h-9.49zM624.23 546.71h9.49v2.05h-9.49zM569.09 555.45h9.49v2.05h-9.49zM624.23 564.19h9.49v2.05h-9.49zM624.23 593.91h9.49v2.05h-9.49zM541.51 595.66h9.49v2.05h-9.49zM624.23 595.66h9.49v2.05h-9.49zM624.23 599.16h9.49v2.05h-9.49zM624.23 602.65h9.49v2.05h-9.49zM541.51 604.4h9.49v2.05h-9.49zM541.51 618.39h9.49v2.05h-9.49zM624.23 620.14h9.49v2.05h-9.49zM624.23 623.63h9.49v2.05h-9.49zM624.23 627.13h9.49v2.05h-9.49zM596.66 635.87h9.49v2.05h-9.49zM624.23 635.87h9.49v2.05h-9.49zM624.23 646.36h9.49v2.05h-9.49zM624.23 665.59h9.49v2.05h-9.49zM624.23 669.09h9.49v2.05h-9.49zM624.23 681.33h9.49v2.05h-9.49zM624.23 683.08h9.49v2.05h-9.49zM624.23 684.82h9.49v2.05h-9.49zM541.51 688.32h9.49v2.05h-9.49zM569.09 700.56h9.49v2.05h-9.49zM624.23 719.79h9.49v2.05h-9.49zM624.23 740.77h9.49v2.05h-9.49zM624.23 753.01h9.49v2.05h-9.49zM541.51 754.76h9.49v2.05h-9.49zM541.51 756.51h9.49v2.05h-9.49zM624.23 756.51h9.49v2.05h-9.49z"/><path fill="#6262ff" d="M532.32 122.41h9.49v2.22h-9.49zM532.32 135.86h9.49v2.22h-9.49zM458.8 153.15h9.49v2.22h-9.49zM458.8 158.91h9.49v2.22h-9.49zM532.32 307.18h9.49v2.05h-9.49zM467.99 373.62h9.49v2.05h-9.49zM477.18 431.31h9.49v2.05h-9.49zM532.32 469.78h9.49v2.05h-9.49zM513.94 523.98h9.49v2.05h-9.49zM477.18 534.47h9.49v2.05h-9.49zM477.18 544.96h9.49v2.05h-9.49zM467.99 588.67h9.49v2.05h-9.49zM532.32 616.64h9.49v2.05h-9.49zM532.32 718.04h9.49v2.05h-9.49zM477.18 719.79h9.49v2.05h-9.49z"/><path fill="#7676ff" d="M532.32 124.33h9.49v2.22h-9.49zM532.32 137.78h9.49v2.22h-9.49zM532.32 153.15h9.49v2.22h-9.49zM532.32 160.84h9.49v2.22h-9.49zM532.32 242.49h9.49v2.05h-9.49zM532.32 303.69h9.49v2.05h-9.49zM532.32 321.17h9.49v2.05h-9.49zM477.18 501.25h9.49v2.05h-9.49zM532.32 506.49h9.49v2.05h-9.49zM532.32 515.24h9.49v2.05h-9.49zM467.99 534.47h9.49v2.05h-9.49zM532.32 560.69h9.49v2.05h-9.49zM467.99 574.68h9.49v2.05h-9.49zM477.18 574.68h9.49v2.05h-9.49zM532.32 579.92h9.49v2.05h-9.49zM532.32 607.9h9.49v2.05h-9.49zM467.99 625.38h9.49v2.05h-9.49zM467.99 627.13h9.49v2.05h-9.49zM477.18 632.37h9.49v2.05h-9.49zM467.99 635.87h9.49v2.05h-9.49zM477.18 635.87h9.49v2.05h-9.49zM467.99 672.59h9.49v2.05h-9.49zM532.32 693.57h9.49v2.05h-9.49zM532.32 695.31h9.49v2.05h-9.49zM532.32 712.8h9.49v2.05h-9.49zM467.99 725.04h9.49v2.05h-9.49zM477.18 725.04h9.49v2.05h-9.49z"/><path fill="#b1b1ff" d="M532.32 126.25h9.49v2.22h-9.49zM532.32 128.17h9.49v2.22h-9.49zM467.99 133.94h9.49v2.22h-9.49zM532.32 145.46h9.49v2.22h-9.49zM532.32 151.23h9.49v2.22h-9.49zM532.32 191.58h9.49v1.92h-9.49zM458.8 240.75h9.49v2.05h-9.49zM458.8 282.71h9.49v2.05h-9.49zM458.8 328.16h9.49v2.05h-9.49zM458.8 408.59h9.49v2.05h-9.49zM458.8 445.3h9.49v2.05h-9.49zM467.99 487.26h9.49v2.05h-9.49zM458.8 497.75h9.49v2.05h-9.49zM467.99 501.25h9.49v2.05h-9.49zM467.99 544.96h9.49v2.05h-9.49zM458.8 627.13h9.49v2.05h-9.49zM458.8 749.51h9.49v2.05h-9.49z"/><path fill="#ffd8d8" d="M541.51 126.25h9.49v2.22h-9.49zM642.61 126.25h9.19v2.22h-9.19zM541.51 153.15h9.49v2.22h-9.49zM541.51 155.07h9.49v2.22h-9.49zM642.61 155.07h9.19v2.22h-9.19zM541.51 245.99h9.49v2.05h-9.49zM642.61 247.74h9.19v2.05h-9.19zM642.61 259.98h9.19v2.05h-9.19zM642.61 263.47h9.19v2.05h-9.19zM559.9 268.72h9.49v2.05h-9.49zM559.9 270.47h9.49v2.05h-9.49zM642.61 275.71h9.19v2.05h-9.19zM596.66 277.46h9.49v2.05h-9.49zM559.9 289.7h9.49v2.05h-9.49zM642.61 298.44h9.19v2.05h-9.19zM559.9 314.18h9.49v2.05h-9.49zM642.61 342.15h9.19v2.05h-9.19zM559.9 354.39h9.49v2.05h-9.49zM642.61 368.37h9.19v2.05h-9.19zM596.66 370.12h9.49v2.05h-9.49zM596.66 389.35h9.49v2.05h-9.49zM559.9 392.85h9.49v2.05h-9.49zM642.61 392.85h9.19v2.05h-9.19zM559.9 405.09h9.49v2.05h-9.49zM642.61 405.09h9.19v2.05h-9.19zM642.61 412.08h9.19v2.05h-9.19zM642.61 420.82h9.19v2.05h-9.19zM559.9 422.57h9.49v2.05h-9.49zM559.9 429.57h9.49v2.05h-9.49zM642.61 440.06h9.19v2.05h-9.19zM642.61 450.55h9.19v2.05h-9.19zM642.61 457.54h9.19v2.05h-9.19zM642.61 459.29h9.19v2.05h-9.19zM596.66 466.28h9.49v2.05h-9.49zM642.61 476.77h9.19v2.05h-9.19zM596.66 496h9.49v2.05h-9.49zM559.9 497.75h9.49v2.05h-9.49zM559.9 503h9.49v2.05h-9.49zM559.9 508.24h9.49v2.05h-9.49zM559.9 520.48h9.49v2.05h-9.49zM559.9 527.47h9.49v2.05h-9.49zM596.66 539.71h9.49v2.05h-9.49zM642.61 557.2h9.19v2.05h-9.19zM642.61 564.19h9.19v2.05h-9.19zM596.66 565.94h9.49v2.05h-9.49zM642.61 565.94h9.19v2.05h-9.19zM642.61 567.69h9.19v2.05h-9.19zM559.9 592.16h9.49v2.05h-9.49zM596.66 593.91h9.49v2.05h-9.49zM642.61 597.41h9.19v2.05h-9.19zM642.61 607.9h9.19v2.05h-9.19zM559.9 625.38h9.49v2.05h-9.49zM559.9 627.13h9.49v2.05h-9.49zM596.66 660.35h9.49v2.05h-9.49zM559.9 670.84h9.49v2.05h-9.49zM642.61 674.33h9.19v2.05h-9.19zM642.61 676.08h9.19v2.05h-9.19zM642.61 679.58h9.19v2.05h-9.19zM559.9 695.31h9.49v2.05h-9.49zM559.9 700.56h9.49v2.05h-9.49zM642.61 705.8h9.19v2.05h-9.19zM642.61 707.55h9.19v2.05h-9.19zM559.9 709.3h9.49v2.05h-9.49zM642.61 711.05h9.19v2.05h-9.19zM642.61 714.55h9.19v2.05h-9.19zM642.61 718.04h9.19v2.05h-9.19zM559.9 719.79h9.49v2.05h-9.49zM642.61 721.54h9.19v2.05h-9.19zM596.66 726.78h9.49v2.05h-9.49zM596.66 732.03h9.49v2.05h-9.49zM642.61 732.03h9.19v2.05h-9.19zM541.51 739.02h9.49v2.05h-9.49zM642.61 744.27h9.19v2.05h-9.19zM642.61 758.25h9.19v2.05h-9.19z"/><path fill="#ff8989" d="M596.66 126.25h9.49v2.22h-9.49zM559.9 128.17h9.49v2.22h-9.49zM559.9 135.86h9.49v2.22h-9.49zM605.85 145.46h9.49v2.22h-9.49zM541.51 166.6h9.49v2.22h-9.49zM559.9 168.52h9.49v2.22h-9.49zM541.51 174.29h9.49v2.22h-9.49zM559.9 235.5h9.49v2.05h-9.49zM596.66 251.24h9.49v2.05h-9.49zM559.9 263.47h9.49v2.05h-9.49zM559.9 275.71h9.49v2.05h-9.49zM559.9 280.96h9.49v2.05h-9.49zM559.9 296.69h9.49v2.05h-9.49zM559.9 301.94h9.49v2.05h-9.49zM559.9 303.69h9.49v2.05h-9.49zM559.9 308.93h9.49v2.05h-9.49zM605.85 308.93h9.49v2.05h-9.49zM605.85 328.16h9.49v2.05h-9.49zM642.61 329.91h9.19v2.05h-9.19zM559.9 331.66h9.49v2.05h-9.49zM559.9 352.64h9.49v2.05h-9.49zM587.47 357.88h9.49v2.05h-9.49zM596.66 364.88h9.49v2.05h-9.49zM569.09 371.87h9.49v2.05h-9.49zM633.42 377.12h9.49v2.05h-9.49zM559.9 378.86h9.49v2.05h-9.49zM559.9 380.61h9.49v2.05h-9.49zM559.9 394.6h9.49v2.05h-9.49zM559.9 401.59h9.49v2.05h-9.49zM559.9 410.33h9.49v2.05h-9.49zM642.61 427.82h9.19v2.05h-9.19zM633.42 454.04h9.49v2.05h-9.49zM587.47 455.79h9.49v2.05h-9.49zM559.9 457.54h9.49v2.05h-9.49zM559.9 461.04h9.49v2.05h-9.49zM596.66 464.53h9.49v2.05h-9.49zM605.85 464.53h9.49v2.05h-9.49zM569.09 475.02h9.49v2.05h-9.49zM559.9 499.5h9.49v2.05h-9.49zM596.66 499.5h9.49v2.05h-9.49zM559.9 509.99h9.49v2.05h-9.49zM559.9 511.74h9.49v2.05h-9.49zM569.09 537.96h9.49v2.05h-9.49zM587.47 539.71h9.49v2.05h-9.49zM596.66 541.46h9.49v2.05h-9.49zM559.9 546.71h9.49v2.05h-9.49zM569.09 550.2h9.49v2.05h-9.49zM559.9 557.2h9.49v2.05h-9.49zM559.9 565.94h9.49v2.05h-9.49zM559.9 569.43h9.49v2.05h-9.49zM605.85 581.67h9.49v2.05h-9.49zM559.9 583.42h9.49v2.05h-9.49zM559.9 599.16h9.49v2.05h-9.49zM559.9 600.9h9.49v2.05h-9.49zM596.66 600.9h9.49v2.05h-9.49zM559.9 604.4h9.49v2.05h-9.49zM559.9 611.39h9.49v2.05h-9.49zM559.9 618.39h9.49v2.05h-9.49zM559.9 621.88h9.49v2.05h-9.49zM605.85 635.87h9.49v2.05h-9.49zM559.9 637.62h9.49v2.05h-9.49zM559.9 644.61h9.49v2.05h-9.49zM642.61 646.36h9.19v2.05h-9.19zM559.9 656.85h9.49v2.05h-9.49zM559.9 658.6h9.49v2.05h-9.49zM559.9 674.33h9.49v2.05h-9.49zM559.9 676.08h9.49v2.05h-9.49zM633.42 679.58h9.49v2.05h-9.49zM559.9 688.32h9.49v2.05h-9.49zM559.9 711.05h9.49v2.05h-9.49zM596.66 721.54h9.49v2.05h-9.49zM559.9 723.29h9.49v2.05h-9.49zM569.09 723.29h9.49v2.05h-9.49zM559.9 728.53h9.49v2.05h-9.49zM559.9 733.78h9.49v2.05h-9.49zM596.66 735.53h9.49v2.05h-9.49zM541.51 742.52h9.49v2.05h-9.49zM559.9 744.27h9.49v2.05h-9.49zM559.9 756.51h9.49v2.05h-9.49z"/><path fill="#ffffff" d="M532.32 130.09h9.49v2.22h-9.49zM532.32 245.99h9.49v2.05h-9.49zM532.32 258.23h9.49v2.05h-9.49zM532.32 261.73h9.49v2.05h-9.49zM532.32 266.97h9.49v2.05h-9.49zM532.32 273.96h9.49v2.05h-9.49zM532.32 275.71h9.49v2.05h-9.49zM532.32 294.94h9.49v2.05h-9.49zM532.32 296.69h9.49v2.05h-9.49zM532.32 305.43h9.49v2.05h-9.49zM532.32 314.18h9.49v2.05h-9.49zM532.32 342.15h9.49v2.05h-9.49zM532.32 345.65h9.49v2.05h-9.49zM532.32 356.14h9.49v2.05h-9.49zM532.32 359.63h9.49v2.05h-9.49zM532.32 363.13h9.49v2.05h-9.49zM532.32 368.37h9.49v2.05h-9.49zM532.32 392.85h9.49v2.05h-9.49zM532.32 396.35h9.49v2.05h-9.49zM532.32 405.09h9.49v2.05h-9.49zM532.32 412.08h9.49v2.05h-9.49zM532.32 422.57h9.49v2.05h-9.49zM532.32 427.82h9.49v2.05h-9.49zM532.32 429.57h9.49v2.05h-9.49zM532.32 433.06h9.49v2.05h-9.49zM532.32 445.3h9.49v2.05h-9.49zM532.32 447.05h9.49v2.05h-9.49zM532.32 464.53h9.49v2.05h-9.49zM532.32 473.27h9.49v2.05h-9.49zM532.32 483.76h9.49v2.05h-9.49zM532.32 489.01h9.49v2.05h-9.49zM532.32 494.25h9.49v2.05h-9.49zM532.32 504.75h9.49v2.05h-9.49zM532.32 522.23h9.49v2.05h-9.49zM532.32 543.21h9.49v2.05h-9.49zM532.32 548.45h9.49v2.05h-9.49zM532.32 565.94h9.49v2.05h-9.49zM458.8 574.68h9.49v2.05h-9.49zM532.32 595.66h9.49v2.05h-9.49zM532.32 613.14h9.49v2.05h-9.49zM532.32 623.63h9.49v2.05h-9.49zM532.32 658.6h9.49v2.05h-9.49zM532.32 670.84h9.49v2.05h-9.49zM532.32 681.33h9.49v2.05h-9.49zM458.8 695.31h9.49v2.05h-9.49zM532.32 707.55h9.49v2.05h-9.49zM532.32 716.29h9.49v2.05h-9.49zM532.32 719.79h9.49v2.05h-9.49zM458.8 735.53h9.49v2.05h-9.49zM532.32 739.02h9.49v2.05h-9.49zM532.32 747.76h9.49v2.05h-9.49z"/><path fill="#c4c4ff" d="M532.32 132.01h9.49v2.22h-9.49zM532.32 147.39h9.49v2.22h-9.49zM532.32 156.99h9.49v2.22h-9.49zM532.32 158.91h9.49v2.22h-9.49zM532.32 166.6h9.49v2.22h-9.49zM458.8 251.24h9.49v2.05h-9.49zM532.32 254.73h9.49v2.05h-9.49zM532.32 268.72h9.49v2.05h-9.49zM532.32 272.22h9.49v2.05h-9.49zM458.8 345.65h9.49v2.05h-9.49zM458.8 363.13h9.49v2.05h-9.49zM532.32 366.63h9.49v2.05h-9.49zM458.8 368.37h9.49v2.05h-9.49zM458.8 377.12h9.49v2.05h-9.49zM458.8 378.86h9.49v2.05h-9.49zM532.32 385.86h9.49v2.05h-9.49zM458.8 419.08h9.49v2.05h-9.49zM458.8 424.32h9.49v2.05h-9.49zM532.32 426.07h9.49v2.05h-9.49zM458.8 431.31h9.49v2.05h-9.49zM532.32 440.06h9.49v2.05h-9.49zM532.32 448.8h9.49v2.05h-9.49zM532.32 454.04h9.49v2.05h-9.49zM458.8 468.03h9.49v2.05h-9.49zM458.8 471.53h9.49v2.05h-9.49zM458.8 478.52h9.49v2.05h-9.49zM458.8 480.27h9.49v2.05h-9.49zM458.8 492.51h9.49v2.05h-9.49zM532.32 516.98h9.49v2.05h-9.49zM532.32 532.72h9.49v2.05h-9.49zM532.32 544.96h9.49v2.05h-9.49zM458.8 551.95h9.49v2.05h-9.49zM458.8 558.94h9.49v2.05h-9.49zM532.32 558.94h9.49v2.05h-9.49zM532.32 571.18h9.49v2.05h-9.49zM458.8 585.17h9.49v2.05h-9.49zM532.32 588.67h9.49v2.05h-9.49zM532.32 592.16h9.49v2.05h-9.49zM532.32 620.14h9.49v2.05h-9.49zM532.32 630.63h9.49v2.05h-9.49zM532.32 649.86h9.49v2.05h-9.49zM458.8 681.33h9.49v2.05h-9.49zM458.8 684.82h9.49v2.05h-9.49zM532.32 688.32h9.49v2.05h-9.49zM532.32 690.07h9.49v2.05h-9.49zM532.32 691.82h9.49v2.05h-9.49zM458.8 725.04h9.49v2.05h-9.49zM532.32 732.03h9.49v2.05h-9.49zM458.8 739.02h9.49v2.05h-9.49zM532.32 753.01h9.49v2.05h-9.49zM532.32 754.76h9.49v2.05h-9.49zM532.32 760h9.49v2.05h-9.49z"/><path fill="#ffebeb" d="M541.51 132.01h9.49v2.22h-9.49zM642.61 145.46h9.19v2.22h-9.19zM642.61 174.29h9.19v2.22h-9.19zM642.61 176.21h9.19v2.22h-9.19zM541.51 181.97h9.49v2.22h-9.49zM541.51 183.89h9.49v2.22h-9.49zM642.61 235.5h9.19v2.05h-9.19zM559.9 237.25h9.49v2.05h-9.49zM642.61 239h9.19v2.05h-9.19zM559.9 240.75h9.49v2.05h-9.49zM642.61 240.75h9.19v2.05h-9.19zM642.61 242.49h9.19v2.05h-9.19zM642.61 244.24h9.19v2.05h-9.19zM642.61 245.99h9.19v2.05h-9.19zM642.61 249.49h9.19v2.05h-9.19zM642.61 258.23h9.19v2.05h-9.19zM642.61 265.22h9.19v2.05h-9.19zM642.61 272.22h9.19v2.05h-9.19zM642.61 273.96h9.19v2.05h-9.19zM642.61 277.46h9.19v2.05h-9.19zM559.9 279.21h9.49v2.05h-9.49zM642.61 280.96h9.19v2.05h-9.19zM642.61 284.45h9.19v2.05h-9.19zM642.61 289.7h9.19v2.05h-9.19zM642.61 301.94h9.19v2.05h-9.19zM642.61 303.69h9.19v2.05h-9.19zM642.61 308.93h9.19v2.05h-9.19zM642.61 312.43h9.19v2.05h-9.19zM642.61 315.92h9.19v2.05h-9.19zM559.9 319.42h9.49v2.05h-9.49zM642.61 319.42h9.19v2.05h-9.19zM559.9 321.17h9.49v2.05h-9.49zM642.61 324.67h9.19v2.05h-9.19zM559.9 326.41h9.49v2.05h-9.49zM642.61 328.16h9.19v2.05h-9.19zM642.61 333.41h9.19v2.05h-9.19zM642.61 335.16h9.19v2.05h-9.19zM559.9 336.9h9.49v2.05h-9.49zM642.61 336.9h9.19v2.05h-9.19zM559.9 343.9h9.49v2.05h-9.49zM642.61 343.9h9.19v2.05h-9.19zM642.61 345.65h9.19v2.05h-9.19zM642.61 347.39h9.19v2.05h-9.19zM642.61 349.14h9.19v2.05h-9.19zM642.61 350.89h9.19v2.05h-9.19zM642.61 361.38h9.19v2.05h-9.19zM642.61 363.13h9.19v2.05h-9.19zM559.9 366.63h9.49v2.05h-9.49zM642.61 370.12h9.19v2.05h-9.19zM642.61 375.37h9.19v2.05h-9.19zM559.9 377.12h9.49v2.05h-9.49zM642.61 377.12h9.19v2.05h-9.19zM642.61 378.86h9.19v2.05h-9.19zM642.61 380.61h9.19v2.05h-9.19zM642.61 385.86h9.19v2.05h-9.19zM642.61 389.35h9.19v2.05h-9.19zM642.61 391.1h9.19v2.05h-9.19zM642.61 396.35h9.19v2.05h-9.19zM642.61 398.1h9.19v2.05h-9.19zM642.61 401.59h9.19v2.05h-9.19zM559.9 408.59h9.49v2.05h-9.49zM559.9 412.08h9.49v2.05h-9.49zM642.61 413.83h9.19v2.05h-9.19zM642.61 424.32h9.19v2.05h-9.19zM559.9 426.07h9.49v2.05h-9.49zM642.61 429.57h9.19v2.05h-9.19zM559.9 431.31h9.49v2.05h-9.49zM642.61 431.31h9.19v2.05h-9.19zM642.61 433.06h9.19v2.05h-9.19zM642.61 434.81h9.19v2.05h-9.19zM559.9 436.56h9.49v2.05h-9.49zM642.61 436.56h9.19v2.05h-9.19zM642.61 452.29h9.19v2.05h-9.19zM642.61 461.04h9.19v2.05h-9.19zM642.61 464.53h9.19v2.05h-9.19zM642.61 466.28h9.19v2.05h-9.19zM642.61 468.03h9.19v2.05h-9.19zM642.61 473.27h9.19v2.05h-9.19zM642.61 475.02h9.19v2.05h-9.19zM596.66 478.52h9.49v2.05h-9.49zM642.61 478.52h9.19v2.05h-9.19zM642.61 480.27h9.19v2.05h-9.19zM642.61 482.02h9.19v2.05h-9.19zM559.9 483.76h9.49v2.05h-9.49zM642.61 490.76h9.19v2.05h-9.19zM642.61 492.51h9.19v2.05h-9.19zM642.61 494.25h9.19v2.05h-9.19zM642.61 496h9.19v2.05h-9.19zM642.61 497.75h9.19v2.05h-9.19zM642.61 506.49h9.19v2.05h-9.19zM642.61 508.24h9.19v2.05h-9.19zM642.61 509.99h9.19v2.05h-9.19zM642.61 511.74h9.19v2.05h-9.19zM642.61 513.49h9.19v2.05h-9.19zM642.61 522.23h9.19v2.05h-9.19zM642.61 523.98h9.19v2.05h-9.19zM642.61 527.47h9.19v2.05h-9.19zM642.61 537.96h9.19v2.05h-9.19zM642.61 544.96h9.19v2.05h-9.19zM541.51 550.2h9.49v2.05h-9.49zM596.66 553.7h9.49v2.05h-9.49zM642.61 553.7h9.19v2.05h-9.19zM642.61 558.94h9.19v2.05h-9.19zM559.9 562.44h9.49v2.05h-9.49zM642.61 569.43h9.19v2.05h-9.19zM642.61 571.18h9.19v2.05h-9.19zM642.61 572.93h9.19v2.05h-9.19zM642.61 576.43h9.19v2.05h-9.19zM642.61 579.92h9.19v2.05h-9.19zM642.61 583.42h9.19v2.05h-9.19zM642.61 585.17h9.19v2.05h-9.19zM541.51 588.67h9.49v2.05h-9.49zM642.61 588.67h9.19v2.05h-9.19zM642.61 595.66h9.19v2.05h-9.19zM642.61 599.16h9.19v2.05h-9.19zM642.61 606.15h9.19v2.05h-9.19zM559.9 609.65h9.49v2.05h-9.49zM642.61 613.14h9.19v2.05h-9.19zM642.61 614.89h9.19v2.05h-9.19zM642.61 616.64h9.19v2.05h-9.19zM642.61 618.39h9.19v2.05h-9.19zM642.61 620.14h9.19v2.05h-9.19zM642.61 625.38h9.19v2.05h-9.19zM642.61 627.13h9.19v2.05h-9.19zM559.9 628.88h9.49v2.05h-9.49zM642.61 628.88h9.19v2.05h-9.19zM642.61 630.63h9.19v2.05h-9.19zM642.61 632.37h9.19v2.05h-9.19zM642.61 634.12h9.19v2.05h-9.19zM642.61 639.37h9.19v2.05h-9.19zM642.61 642.86h9.19v2.05h-9.19zM642.61 644.61h9.19v2.05h-9.19zM642.61 651.61h9.19v2.05h-9.19zM642.61 653.35h9.19v2.05h-9.19zM642.61 660.35h9.19v2.05h-9.19zM642.61 662.1h9.19v2.05h-9.19zM559.9 667.34h9.49v2.05h-9.49zM642.61 669.09h9.19v2.05h-9.19zM642.61 670.84h9.19v2.05h-9.19zM642.61 672.59h9.19v2.05h-9.19zM596.66 681.33h9.49v2.05h-9.49zM642.61 681.33h9.19v2.05h-9.19zM642.61 683.08h9.19v2.05h-9.19zM642.61 684.82h9.19v2.05h-9.19zM559.9 690.07h9.49v2.05h-9.49zM642.61 690.07h9.19v2.05h-9.19zM642.61 697.06h9.19v2.05h-9.19zM642.61 700.56h9.19v2.05h-9.19zM642.61 702.31h9.19v2.05h-9.19zM642.61 704.06h9.19v2.05h-9.19zM642.61 716.29h9.19v2.05h-9.19zM642.61 719.79h9.19v2.05h-9.19zM642.61 723.29h9.19v2.05h-9.19zM642.61 726.78h9.19v2.05h-9.19zM642.61 728.53h9.19v2.05h-9.19zM642.61 735.53h9.19v2.05h-9.19zM559.9 742.52h9.49v2.05h-9.49zM642.61 742.52h9.19v2.05h-9.19zM642.61 747.76h9.19v2.05h-9.19zM642.61 749.51h9.19v2.05h-9.19zM642.61 753.01h9.19v2.05h-9.19zM596.66 754.76h9.49v2.05h-9.49zM642.61 754.76h9.19v2.05h-9.19zM642.61 760h9.19v2.05h-9.19zM559.9 761.75h9.49v1.75h-9.49z"/><path fill="#ffffff" d="M642.61 133.94h9.19v2.22h-9.19zM642.61 143.54h9.19v2.22h-9.19zM541.51 145.46h9.49v2.22h-9.49zM642.61 147.39h9.19v2.22h-9.19zM541.51 185.81h9.49v2.22h-9.49zM642.61 191.58h9.19v1.92h-9.19zM642.61 237.25h9.19v2.05h-9.19zM559.9 245.99h9.49v2.05h-9.49zM642.61 252.98h9.19v2.05h-9.19zM642.61 261.73h9.19v2.05h-9.19zM559.9 277.46h9.49v2.05h-9.49zM642.61 279.21h9.19v2.05h-9.19zM559.9 282.71h9.49v2.05h-9.49zM642.61 282.71h9.19v2.05h-9.19zM642.61 286.2h9.19v2.05h-9.19zM642.61 287.95h9.19v2.05h-9.19zM642.61 291.45h9.19v2.05h-9.19zM559.9 293.2h9.49v2.05h-9.49zM642.61 293.2h9.19v2.05h-9.19zM642.61 296.69h9.19v2.05h-9.19zM642.61 300.19h9.19v2.05h-9.19zM642.61 305.43h9.19v2.05h-9.19zM642.61 307.18h9.19v2.05h-9.19zM642.61 314.18h9.19v2.05h-9.19zM642.61 317.67h9.19v2.05h-9.19zM642.61 321.17h9.19v2.05h-9.19zM642.61 322.92h9.19v2.05h-9.19zM642.61 326.41h9.19v2.05h-9.19zM642.61 331.66h9.19v2.05h-9.19zM642.61 338.65h9.19v2.05h-9.19zM642.61 340.4h9.19v2.05h-9.19zM559.9 342.15h9.49v2.05h-9.49zM642.61 354.39h9.19v2.05h-9.19zM642.61 357.88h9.19v2.05h-9.19zM642.61 359.63h9.19v2.05h-9.19zM642.61 371.87h9.19v2.05h-9.19zM642.61 373.62h9.19v2.05h-9.19zM642.61 384.11h9.19v2.05h-9.19zM642.61 387.61h9.19v2.05h-9.19zM642.61 399.84h9.19v2.05h-9.19zM642.61 406.84h9.19v2.05h-9.19zM642.61 408.59h9.19v2.05h-9.19zM642.61 415.58h9.19v2.05h-9.19zM642.61 417.33h9.19v2.05h-9.19zM559.9 419.08h9.49v2.05h-9.49zM642.61 422.57h9.19v2.05h-9.19zM642.61 438.31h9.19v2.05h-9.19zM642.61 443.55h9.19v2.05h-9.19zM559.9 445.3h9.49v2.05h-9.49zM559.9 459.29h9.49v2.05h-9.49zM559.9 462.78h9.49v2.05h-9.49zM642.61 471.53h9.19v2.05h-9.19zM559.9 476.77h9.49v2.05h-9.49zM642.61 485.51h9.19v2.05h-9.19zM642.61 489.01h9.19v2.05h-9.19zM559.9 490.76h9.49v2.05h-9.49zM642.61 501.25h9.19v2.05h-9.19zM642.61 504.75h9.19v2.05h-9.19zM642.61 515.24h9.19v2.05h-9.19zM642.61 516.98h9.19v2.05h-9.19zM642.61 518.73h9.19v2.05h-9.19zM642.61 520.48h9.19v2.05h-9.19zM559.9 522.23h9.49v2.05h-9.49zM642.61 525.73h9.19v2.05h-9.19zM642.61 532.72h9.19v2.05h-9.19zM642.61 534.47h9.19v2.05h-9.19zM642.61 539.71h9.19v2.05h-9.19zM642.61 550.2h9.19v2.05h-9.19zM642.61 551.95h9.19v2.05h-9.19zM642.61 581.67h9.19v2.05h-9.19zM642.61 586.92h9.19v2.05h-9.19zM642.61 590.41h9.19v2.05h-9.19zM559.9 595.66h9.49v2.05h-9.49zM642.61 600.9h9.19v2.05h-9.19zM642.61 609.65h9.19v2.05h-9.19zM642.61 611.39h9.19v2.05h-9.19zM559.9 613.14h9.49v2.05h-9.49zM642.61 623.63h9.19v2.05h-9.19zM642.61 635.87h9.19v2.05h-9.19zM642.61 637.62h9.19v2.05h-9.19zM642.61 641.12h9.19v2.05h-9.19zM642.61 648.11h9.19v2.05h-9.19zM642.61 649.86h9.19v2.05h-9.19zM642.61 655.1h9.19v2.05h-9.19zM559.9 663.84h9.49v2.05h-9.49zM642.61 665.59h9.19v2.05h-9.19zM642.61 677.83h9.19v2.05h-9.19zM642.61 686.57h9.19v2.05h-9.19zM642.61 691.82h9.19v2.05h-9.19zM642.61 693.57h9.19v2.05h-9.19zM642.61 695.31h9.19v2.05h-9.19zM642.61 712.8h9.19v2.05h-9.19zM559.9 714.55h9.49v2.05h-9.49zM642.61 730.28h9.19v2.05h-9.19zM642.61 740.77h9.19v2.05h-9.19zM642.61 746.02h9.19v2.05h-9.19zM642.61 756.51h9.19v2.05h-9.19zM642.61 761.75h9.19v1.75h-9.19z"/><path fill="#ebebff" d="M532.32 141.62h9.49v2.22h-9.49zM532.32 183.89h9.49v2.22h-9.49zM532.32 235.5h9.49v2.05h-9.49zM532.32 237.25h9.49v2.05h-9.49zM532.32 240.75h9.49v2.05h-9.49zM532.32 251.24h9.49v2.05h-9.49zM458.8 261.73h9.49v2.05h-9.49zM532.32 263.47h9.49v2.05h-9.49zM532.32 265.22h9.49v2.05h-9.49zM532.32 277.46h9.49v2.05h-9.49zM532.32 280.96h9.49v2.05h-9.49zM532.32 282.71h9.49v2.05h-9.49zM532.32 287.95h9.49v2.05h-9.49zM532.32 289.7h9.49v2.05h-9.49zM532.32 298.44h9.49v2.05h-9.49zM458.8 305.43h9.49v2.05h-9.49zM532.32 312.43h9.49v2.05h-9.49zM532.32 317.67h9.49v2.05h-9.49zM532.32 324.67h9.49v2.05h-9.49zM532.32 333.41h9.49v2.05h-9.49zM532.32 338.65h9.49v2.05h-9.49zM532.32 343.9h9.49v2.05h-9.49zM458.8 347.39h9.49v2.05h-9.49zM532.32 349.14h9.49v2.05h-9.49zM532.32 350.89h9.49v2.05h-9.49zM532.32 352.64h9.49v2.05h-9.49zM532.32 354.39h9.49v2.05h-9.49zM532.32 373.62h9.49v2.05h-9.49zM532.32 377.12h9.49v2.05h-9.49zM532.32 382.36h9.49v2.05h-9.49zM458.8 384.11h9.49v2.05h-9.49zM532.32 384.11h9.49v2.05h-9.49zM458.8 399.84h9.49v2.05h-9.49zM532.32 408.59h9.49v2.05h-9.49zM532.32 413.83h9.49v2.05h-9.49zM532.32 419.08h9.49v2.05h-9.49zM458.8 422.57h9.49v2.05h-9.49zM532.32 431.31h9.49v2.05h-9.49zM532.32 434.81h9.49v2.05h-9.49zM532.32 452.29h9.49v2.05h-9.49zM458.8 454.04h9.49v2.05h-9.49zM532.32 455.79h9.49v2.05h-9.49zM532.32 457.54h9.49v2.05h-9.49zM532.32 468.03h9.49v2.05h-9.49zM532.32 471.53h9.49v2.05h-9.49zM532.32 482.02h9.49v2.05h-9.49zM532.32 485.51h9.49v2.05h-9.49zM532.32 496h9.49v2.05h-9.49zM532.32 497.75h9.49v2.05h-9.49zM532.32 509.99h9.49v2.05h-9.49zM532.32 534.47h9.49v2.05h-9.49zM532.32 539.71h9.49v2.05h-9.49zM532.32 546.71h9.49v2.05h-9.49zM532.32 553.7h9.49v2.05h-9.49zM532.32 555.45h9.49v2.05h-9.49zM532.32 564.19h9.49v2.05h-9.49zM532.32 569.43h9.49v2.05h-9.49zM532.32 578.18h9.49v2.05h-9.49zM532.32 581.67h9.49v2.05h-9.49zM532.32 583.42h9.49v2.05h-9.49zM458.8 597.41h9.49v2.05h-9.49zM532.32 602.65h9.49v2.05h-9.49zM532.32 614.89h9.49v2.05h-9.49zM532.32 634.12h9.49v2.05h-9.49zM532.32 637.62h9.49v2.05h-9.49zM532.32 646.36h9.49v2.05h-9.49zM532.32 648.11h9.49v2.05h-9.49zM532.32 651.61h9.49v2.05h-9.49zM532.32 653.35h9.49v2.05h-9.49zM532.32 656.85h9.49v2.05h-9.49zM532.32 662.1h9.49v2.05h-9.49zM532.32 665.59h9.49v2.05h-9.49zM532.32 667.34h9.49v2.05h-9.49zM532.32 669.09h9.49v2.05h-9.49zM458.8 672.59h9.49v2.05h-9.49zM532.32 672.59h9.49v2.05h-9.49zM458.8 677.83h9.49v2.05h-9.49zM532.32 684.82h9.49v2.05h-9.49zM458.8 693.57h9.49v2.05h-9.49zM532.32 704.06h9.49v2.05h-9.49zM458.8 707.55h9.49v2.05h-9.49zM532.32 709.3h9.49v2.05h-9.49zM458.8 712.8h9.49v2.05h-9.49zM532.32 714.55h9.49v2.05h-9.49zM532.32 723.29h9.49v2.05h-9.49zM532.32 726.78h9.49v2.05h-9.49zM532.32 742.52h9.49v2.05h-9.49zM532.32 744.27h9.49v2.05h-9.49zM458.8 756.51h9.49v2.05h-9.49zM532.32 756.51h9.49v2.05h-9.49z"/><path fill="#9d9dff" d="M532.32 252.98h9.49v2.05h-9.49zM467.99 266.97h9.49v2.05h-9.49zM532.32 300.19h9.49v2.05h-9.49zM532.32 328.16h9.49v2.05h-9.49zM532.32 357.88h9.49v2.05h-9.49zM467.99 368.37h9.49v2.05h-9.49zM532.32 371.87h9.49v2.05h-9.49zM532.32 406.84h9.49v2.05h-9.49zM532.32 410.33h9.49v2.05h-9.49zM532.32 441.8h9.49v2.05h-9.49zM532.32 459.29h9.49v2.05h-9.49zM532.32 466.28h9.49v2.05h-9.49zM532.32 480.27h9.49v2.05h-9.49zM532.32 490.76h9.49v2.05h-9.49zM532.32 492.51h9.49v2.05h-9.49zM532.32 530.97h9.49v2.05h-9.49zM532.32 536.22h9.49v2.05h-9.49zM532.32 551.95h9.49v2.05h-9.49zM532.32 574.68h9.49v2.05h-9.49zM532.32 625.38h9.49v2.05h-9.49zM532.32 663.84h9.49v2.05h-9.49zM532.32 698.81h9.49v2.05h-9.49zM532.32 700.56h9.49v2.05h-9.49zM532.32 702.31h9.49v2.05h-9.49zM532.32 728.53h9.49v2.05h-9.49zM532.32 730.28h9.49v2.05h-9.49zM532.32 735.53h9.49v2.05h-9.49zM532.32 737.27h9.49v2.05h-9.49zM532.32 758.25h9.49v2.05h-9.49z"/><rect x="458.8" y="114.6" width="193" height="1.7" fill="#7e7e7e"/><rect x="458.8" y="118.0" width="193" height="1.7" fill="#7e7e7e"/><rect x="458.8" y="123.9" width="193" height="1.7" fill="#7e7e7e"/><rect x="458.8" y="130.7" width="193" height="1.7" fill="#7e7e7e"/><rect x="458.8" y="133.7" width="193" height="1.7" fill="#7e7e7e"/><rect x="458.8" y="167.6" width="193" height="1.7" fill="#7e7e7e"/><rect x="458.8" y="171.5" width="193" height="1.7" fill="#7e7e7e"/></g><rect x="458.8" y="193.5" width="193" height="42" fill="#808080"/><text x="537" y="218.8" font-size="16.5" fill="#111">null</text><rect x="263" y="775.4" width="373" height="72.6" fill="#fcfcfc"/><rect x="267.7" y="786.8" width="172.6" height="51.9" fill="#f8f8f8" filter="url(#sh)"/><rect x="461.4" y="786.8" width="172.9" height="51.9" fill="#f8f8f8" filter="url(#sh)"/><rect x="306.4" y="790.3" width="92.7" height="25.3" fill="url(#lg1)"/><rect x="507.8" y="790.3" width="83" height="25.3" fill="url(#lg2)"/><text x="280.5" y="809.3" font-size="20" fill="#222">19</text><text x="404" y="809.3" font-size="20" fill="#222">22</text><text x="473.5" y="809.3" font-size="20" fill="#222">0.0</text><text x="594" y="809.3" font-size="20" fill="#222">1.0</text><text x="295" y="834.8" font-size="16" textLength="119" lengthAdjust="spacingAndGlyphs" fill="#383838">log2(fpkm–uq+1)</text><text x="511" y="834.8" font-size="16" fill="#383838">beta value</text><rect x="28.3" y="917.7" width="58.4" height="33.4" fill="#f6f2f1"/><text x="36.6" y="943.3" font-size="36.5" font-weight="bold" fill="#000">B</text><path fill="#e0fafd" d="M56.43 967h2v131h-2zM62.56 967h2v131h-2zM68.69 967h2v131h-2zM74.82 967h2v131h-2zM80.95 967h2v131h-2zM87.08 967h2v131h-2zM93.21 967h2v131h-2zM99.34 967h2v131h-2zM105.47 967h2v131h-2zM111.6 967h2v131h-2zM117.73 967h2v131h-2zM123.86 967h2v131h-2zM129.99 967h2v131h-2zM136.12 967h2v131h-2zM142.25 967h2v131h-2zM148.38 967h2v131h-2zM154.51 967h2v131h-2zM160.64 967h2v131h-2zM166.77 967h2v131h-2zM172.9 967h2v131h-2zM179.03 967h2v131h-2zM185.16 967h2v131h-2zM191.29 967h2v131h-2zM197.42 967h2v131h-2zM203.55 967h2v131h-2zM209.68 967h2v131h-2zM215.81 967h2v131h-2zM221.94 967h2v131h-2zM228.07 967h2v131h-2zM234.2 967h2v131h-2zM240.33 967h2v131h-2zM246.46 967h2v131h-2zM252.59 967h2v131h-2zM258.72 967h2v131h-2zM264.85 967h2v131h-2zM270.98 967h2v131h-2zM277.11 967h2v131h-2zM283.24 967h2v131h-2zM289.37 967h2v131h-2zM295.5 967h2v131h-2zM301.63 967h2v131h-2zM307.76 967h2v131h-2zM313.89 967h2v131h-2zM320.02 967h2v131h-2zM326.15 967h2v131h-2zM332.28 967h2v131h-2zM338.41 967h2v131h-2zM344.54 967h2v131h-2zM350.67 967h2v131h-2zM356.8 967h2v131h-2zM362.93 967h2v131h-2zM369.06 967h2v131h-2zM375.19 967h2v131h-2zM381.32 967h2v131h-2zM387.45 967h2v131h-2zM393.58 967h2v131h-2zM399.71 967h2v131h-2zM405.84 967h2v131h-2zM411.97 967h2v131h-2zM418.1 967h2v131h-2zM424.23 967h2v131h-2zM430.36 967h2v131h-2zM436.49 967h2v131h-2zM442.62 967h2v131h-2zM448.75 967h2v131h-2zM454.88 967h2v131h-2zM461.01 967h2v131h-2zM467.14 967h2v131h-2zM473.27 967h2v131h-2zM479.4 967h2v131h-2zM485.53 967h2v131h-2zM491.66 967h2v131h-2zM497.79 967h2v131h-2zM503.92 967h2v131h-2zM510.05 967h2v131h-2zM516.18 967h2v131h-2zM522.31 967h2v131h-2zM528.44 967h2v131h-2zM534.57 967h2v131h-2zM540.7 967h2v131h-2zM546.83 967h2v131h-2zM552.96 967h2v131h-2zM559.09 967h2v131h-2zM565.22 967h2v131h-2zM571.35 967h2v131h-2zM577.48 967h2v131h-2zM583.61 967h2v131h-2zM589.74 967h2v131h-2zM595.87 967h2v131h-2zM602 967h2v131h-2zM608.13 967h2v131h-2zM614.26 967h2v131h-2zM620.39 967h2v131h-2zM626.52 967h2v131h-2zM632.65 967h2v131h-2zM638.78 967h2v131h-2zM644.91 967h2v131h-2zM651.04 967h2v131h-2zM657.17 967h2v131h-2zM663.3 967h2v131h-2z"/><path fill="#bde8f7" d="M61.6 1067.8 L61.6 991.9 L62.6 993.09 L63.6 994.28 L64.6 994.97 L65.6 994.88 L66.6 994.8 L67.6 994.72 L68.6 994.63 L69.6 994.55 L70.6 994.34 L71.6 993.96 L72.6 993.57 L73.6 993.18 L74.6 992.79 L75.6 992.4 L76.6 992.4 L77.6 992.4 L78.6 992.4 L79.6 992.4 L80.6 992.4 L81.6 992.4 L82.6 992.12 L83.6 991.64 L84.6 991.17 L85.6 990.7 L86.6 990.23 L87.4 989.85 L87.4 1067.8z"/><path fill="#bde8f7" d="M99.8 1067.8 L99.8 995.01 L100.8 995.22 L101.8 995.43 L102.8 995.53 L103.8 995.15 L104.8 994.78 L105.8 994.41 L106.8 994.04 L107.8 993.67 L108.8 993.29 L109.8 992.92 L110.8 992.55 L111.8 992.91 L112.8 993.77 L113.8 994.62 L114.8 995.47 L115.8 996.33 L116.8 997.18 L117.8 998.03 L118.8 998.9 L119.8 999.9 L120.8 1000.9 L121.8 1001.9 L122.8 1002.9 L123.8 1003.9 L124.8 1004.9 L125.8 1005.9 L126.8 1007.31 L127.8 1009.12 L128.5 1010.39 L128.5 1067.8z"/><path fill="#bde8f7" d="M306.5 1067.8 L306.5 1000.17 L307.5 999.9 L308.5 999.9 L309.5 999.9 L310.5 999.9 L311.5 999.9 L312.5 999.9 L313.5 1002.02 L314.5 1004.38 L315.5 1006.74 L316.5 1009.1 L317.5 1011.46 L318.5 1013.82 L319.5 1015.21 L320.5 1015.63 L321.5 1016.05 L322.5 1016.47 L323.5 1016.89 L324.5 1017.32 L325.5 1017.74 L326.5 1018.16 L327.5 1019 L328.5 1019.89 L329.5 1020.78 L330.5 1021.67 L331.3 1022.38 L331.3 1067.8z"/><path fill="#bde8f7" d="M333 1067.8 L333 1021.14 L334 1019.28 L335 1017.42 L336 1015.56 L337 1013.7 L338 1011.84 L339 1009.98 L340 1008.12 L341 1007.43 L342 1008.5 L343 1009.58 L344 1010.65 L345 1011.73 L346 1012.8 L347 1013.14 L348 1013.48 L349 1013.82 L350 1014.15 L351 1014.49 L352 1014.83 L353 1015.47 L354 1016.4 L355 1017.33 L356 1018.26 L356.1 1018.35 L356.1 1067.8z"/><path fill="none" stroke="#111" stroke-width="1.5" d="M61.6 991.9 L62.47 991.95 L63.33 994.67 L64.2 995 L65.7 995.02 L67.2 995.02 L68.7 994.01 L70.2 994.5 L71.55 994.61 L72.9 994.02 L74.25 992.37 L75.6 992.4 L77.2 993.35 L78.8 992.21 L80.4 993.19 L82 992.4 L83.38 991.16 L84.75 990.82 L86.12 989.82 L87.5 989.8 L88.75 989.48 L90 990.41 L91.25 991.14 L92.5 992.64 L93.75 993.26 L95 994 L96.52 993.45 L98.04 995.56 L99.56 995.26 L101.08 995.32 L102.6 995.6 L103.83 994.65 L105.06 994.5 L106.29 995.13 L107.51 993.6 L108.74 993.32 L109.97 993.79 L111.2 992.4 L112.27 993.09 L113.34 995.01 L114.41 994.19 L115.49 996.52 L116.56 996.14 L117.63 997.39 L118.7 998.8 L119.65 998.84 L120.6 1001.54 L121.55 1002.52 L122.5 1003.25 L123.45 1003.55 L124.4 1003.65 L125.35 1005.49 L126.3 1006.4 L126.95 1008.46 L127.6 1009.25 L128.25 1008.84 L128.9 1012.19 L129.55 1013.29 L130.2 1013.67 L130.85 1013.61 L131.5 1016.31 L132.15 1017.29 L132.8 1018.2 L134.08 1016.61 L135.36 1017.08 L136.64 1015.64 L137.92 1015.24 L139.2 1015.7 L140.5 1015.73 L141.8 1015.56 L143.1 1014.24 L144.4 1013.5 L145.7 1013.9 L147 1012.54 L148.3 1011.58 L149.6 1011.44 L150.9 1009.96 L152.2 1009.6 L153.63 1011.24 L155.07 1010 L156.5 1011.8 L157.8 1010.69 L159.1 1011.03 L160.4 1010.12 L161.7 1008.8 L163 1009.2 L164.28 1009.67 L165.56 1010.16 L166.84 1012.02 L168.12 1011.51 L169.4 1012.8 L170.49 1013.88 L171.57 1014.73 L172.66 1014.93 L173.74 1014.89 L174.83 1016.73 L175.91 1016.57 L177 1018.2 L177.71 1018.88 L178.42 1021.65 L179.13 1021.25 L179.84 1024.23 L180.56 1023.73 L181.27 1024.7 L181.98 1025.96 L182.69 1028.99 L183.4 1029.5 L184.48 1029.63 L185.56 1027.52 L186.64 1026.94 L187.72 1026.19 L188.8 1025.8 L190.1 1026.65 L191.4 1026.49 L192.7 1027.41 L194 1028.37 L195.3 1028.6 L196.65 1027.68 L198 1026.95 L199.35 1027.66 L200.7 1026.9 L201.26 1025.91 L201.81 1023.16 L202.37 1022.79 L202.92 1022.37 L203.48 1020.49 L204.03 1019.35 L204.59 1018.69 L205.14 1015.67 L205.7 1015 L206.69 1015.7 L207.67 1016.08 L208.66 1018.66 L209.64 1018.9 L210.63 1020.47 L211.61 1020.92 L212.6 1021.5 L213.67 1019.91 L214.73 1019.5 L215.8 1017.8 L217.15 1017.4 L218.5 1018.01 L219.85 1018.38 L221.2 1018.2 L222.13 1019.74 L223.06 1019.5 L223.99 1021.55 L224.91 1022.01 L225.84 1023.12 L226.77 1022.88 L227.7 1024.7 L228.95 1025.47 L230.2 1025.24 L231.45 1027.14 L232.7 1028.21 L233.95 1028.03 L235.2 1029 L236.5 1028.43 L237.8 1028.43 L239.1 1027.87 L240.4 1028.38 L241.7 1026.9 L242.78 1028.73 L243.86 1029.47 L244.94 1029.81 L246.02 1030.24 L247.1 1032.3 L248.17 1033.64 L249.23 1033.59 L250.3 1035.6 L251.37 1036.44 L252.43 1037.84 L253.5 1038 L254.68 1036.32 L255.85 1036.54 L257.02 1035.51 L258.2 1034.8 L259.38 1033.9 L260.55 1034.46 L261.72 1032.91 L262.9 1032.3 L264.2 1031.67 L265.5 1029.98 L266.8 1030.2 L268.1 1029.63 L269.4 1028.6 L270.26 1026.65 L271.12 1026.01 L271.98 1024.73 L272.84 1024.24 L273.7 1023 L275.05 1022.78 L276.4 1025.46 L277.75 1024.86 L279.1 1025.8 L280.18 1025.9 L281.27 1023.11 L282.35 1023.85 L283.43 1023.35 L284.52 1021.5 L285.6 1020.8 L286.83 1019.91 L288.06 1019.84 L289.29 1018.53 L290.51 1017.78 L291.74 1018.64 L292.97 1017.43 L294.2 1016.5 L294.83 1015.29 L295.47 1013.99 L296.1 1013.53 L296.73 1012.19 L297.37 1009.98 L298 1008.84 L298.63 1007.84 L299.27 1005.86 L299.9 1005.45 L300.53 1003.57 L301.17 1003.57 L301.8 1002 L303.15 1001.11 L304.5 1000.57 L305.85 999.8 L307.2 999.9 L308.55 999.35 L309.9 999.3 L311.25 1000.75 L312.6 999.9 L313.13 1001.06 L313.67 1002.52 L314.2 1003.28 L314.73 1005.93 L315.27 1006.41 L315.8 1006.72 L316.33 1009.11 L316.87 1008.87 L317.4 1012.31 L317.93 1013.01 L318.47 1013.11 L319 1015 L320.27 1015.38 L321.53 1016.97 L322.8 1017.2 L324.07 1017.76 L325.33 1017.84 L326.6 1018.2 L327.68 1018.49 L328.76 1020.45 L329.84 1021.25 L330.92 1021.27 L332 1023 L332.66 1020.79 L333.32 1020.6 L333.98 1020.23 L334.65 1017.7 L335.31 1017.15 L335.97 1014.74 L336.63 1015.22 L337.29 1014.01 L337.95 1011.48 L338.62 1011.17 L339.28 1009.99 L339.94 1008.08 L340.6 1007 L341.5 1008.8 L342.4 1007.94 L343.3 1009.43 L344.2 1010.02 L345.1 1012.55 L346 1012.8 L347.3 1013.76 L348.6 1013.08 L349.9 1014.47 L351.2 1014.59 L352.5 1015 L353.46 1016.04 L354.41 1016.59 L355.37 1017.81 L356.32 1018.69 L357.28 1019.05 L358.23 1020.04 L359.19 1020.48 L360.14 1022.4 L361.1 1023 L361.96 1022.64 L362.82 1020.28 L363.68 1020.02 L364.54 1018.52 L365.4 1017 L366.26 1015.68 L367.12 1014.56 L367.98 1015.06 L368.84 1012.65 L369.7 1012.4 L370.91 1011.36 L372.12 1011.3 L373.34 1010.05 L374.55 1010.33 L375.76 1009.53 L376.97 1008.42 L378.19 1008.86 L379.4 1007.9 L380.79 1007.89 L382.17 1008.26 L383.56 1006.6 L384.94 1007.25 L386.33 1006.6 L387.71 1006.17 L389.1 1005.7 L389.82 1005.86 L390.53 1007.64 L391.25 1009.09 L391.97 1009.43 L392.68 1010.73 L393.4 1012.8 L394.49 1014.44 L395.57 1013.8 L396.66 1015.72 L397.74 1015.94 L398.83 1017.5 L399.91 1018.13 L401 1019.3 L402.43 1019.52 L403.87 1020.67 L405.3 1021.5 L406.65 1020.19 L408 1020.83 L409.35 1018.94 L410.7 1018.2 L411.78 1016.47 L412.86 1016.91 L413.93 1014.73 L415.01 1015.09 L416.09 1014.25 L417.17 1013.66 L418.24 1011.86 L419.32 1011.45 L420.4 1010 L421.79 1010.43 L423.17 1010.26 L424.56 1009.59 L425.94 1010.01 L427.33 1009.47 L428.71 1008.46 L430.1 1008.5 L430.86 1009.29 L431.62 1011.41 L432.38 1012.68 L433.14 1012.55 L433.9 1014.83 L434.66 1015.63 L435.42 1016.49 L436.18 1016.78 L436.94 1017.73 L437.7 1019.3 L438.5 1019.88 L439.31 1021.8 L440.12 1022.35 L440.92 1022.87 L441.73 1023.75 L442.53 1026.25 L443.33 1025.93 L444.14 1026.94 L444.94 1028.77 L445.75 1028.77 L446.56 1030.59 L447.36 1031.19 L448.17 1033.67 L448.97 1034.05 L449.77 1034.96 L450.58 1035.95 L451.38 1036.01 L452.19 1038.87 L453 1040.13 L453.8 1040.2 L455.35 1039.29 L456.9 1040.69 L458.45 1041.36 L460 1040.9 L461.35 1042.06 L462.7 1042.71 L464.05 1042.99 L465.4 1043.35 L466.75 1042.12 L468.1 1044.39 L469.45 1044.77 L470.8 1044.1 L472.05 1045.07 L473.3 1046.23 L474.55 1045.52 L475.8 1046.55 L477.05 1046.49 L478.3 1048 L479.02 1046.75 L479.73 1046.71 L480.45 1044.9 L481.17 1043.18 L481.88 1041.68 L482.6 1040.9 L483.87 1039.9 L485.13 1040.01 L486.4 1039.33 L487.67 1039.41 L488.93 1039.22 L490.2 1038.7 L491.55 1039.19 L492.9 1040.31 L494.25 1040.61 L495.6 1041.5 L496.4 1040.47 L497.2 1039.42 L498 1039.18 L498.8 1038.27 L499.6 1036.56 L500.4 1035.92 L501.2 1033.89 L502 1033.3 L503.08 1031.67 L504.17 1031.13 L505.25 1029.86 L506.33 1030.35 L507.42 1029.8 L508.5 1028 L509.23 1027.14 L509.95 1025.03 L510.68 1023.66 L511.4 1023.9 L512.12 1022.29 L512.85 1020.17 L513.58 1020.86 L514.3 1019.16 L515.03 1018.44 L515.75 1017.31 L516.48 1015.7 L517.2 1013.9 L518.55 1014.04 L519.9 1013.28 L521.25 1010.75 L522.6 1010.7 L523.95 1009.66 L525.3 1009.38 L526.65 1008.9 L528 1007.9 L528.91 1008.25 L529.83 1009.63 L530.74 1011.84 L531.66 1013.38 L532.57 1013.42 L533.49 1015.54 L534.4 1015.7 L535.92 1016.53 L537.44 1016.58 L538.96 1015.02 L540.48 1015.45 L542 1015.7 L543.43 1016.41 L544.87 1017.09 L546.3 1017.48 L547.73 1016.26 L549.17 1017.84 L550.6 1017.8 L551.21 1015.53 L551.83 1014.93 L552.44 1013.13 L553.06 1012.91 L553.67 1010.83 L554.29 1010.78 L554.9 1009.2 L556.1 1008.12 L557.3 1008.13 L558.5 1006.19 L559.7 1005.7 L560.7 1007.8 L561.7 1006.89 L562.7 1007.83 L563.7 1009.77 L564.7 1010.79 L565.7 1011.8 L566.51 1013.63 L567.33 1012.91 L568.14 1014.32 L568.95 1015.54 L569.76 1017.03 L570.58 1018.96 L571.39 1019.69 L572.2 1020.4 L573.55 1020.47 L574.9 1021.45 L576.25 1022.94 L577.6 1023 L578.27 1024.41 L578.95 1024.71 L579.62 1026.56 L580.3 1027.1 L580.98 1029.34 L581.65 1030.13 L582.33 1031.58 L583 1033.3 L584.19 1032.36 L585.38 1032.93 L586.57 1030.62 L587.76 1030.04 L588.94 1029.54 L590.13 1029.61 L591.32 1029.04 L592.51 1029.54 L593.7 1028 L594.65 1029.57 L595.6 1029.64 L596.55 1030.41 L597.5 1032.41 L598.45 1034.11 L599.4 1033.84 L600.35 1036.11 L601.3 1036.6 L602.65 1035.75 L604 1036.51 L605.35 1035.95 L606.7 1034.4 L607.93 1034.51 L609.16 1036.73 L610.39 1037.09 L611.61 1037.47 L612.84 1038.58 L614.07 1040.26 L615.3 1040.2 L616.2 1039.19 L617.1 1038.41 L618 1037.29 L618.9 1035.29 L619.8 1035.94 L620.7 1034.4 L622 1032.97 L623.3 1034.16 L624.6 1031.64 L625.9 1032.31 L627.2 1031.6 L628.28 1032.14 L629.35 1034.16 L630.42 1035.1 L631.5 1035.9 L632.85 1035.92 L634.2 1035.55 L635.55 1035.4 L636.9 1033.8 L638.18 1033.8 L639.46 1034.89 L640.74 1036.29 L642.02 1038.1 L643.3 1038 L644.02 1036.63 L644.75 1035.07 L645.47 1034.63 L646.2 1033.03 L646.92 1031.36 L647.65 1031.83 L648.38 1029.91 L649.1 1029.62 L649.83 1026.85 L650.55 1026.23 L651.27 1024.6 L652 1024.3 L653 1046.3 L653.5 1067.8 L665 1067.8"/><path fill="none" stroke="#111" stroke-width="1.4" d="M51.1 965.8V1072"/><path fill="none" stroke="#111" stroke-width="1.2" d="M51.1 1067.8h4.5M51.1 1057.65h3M51.1 1047.5h4.5M51.1 1037.35h3M51.1 1027.2h4.5M51.1 1017.05h3M51.1 1006.9h4.5M51.1 996.75h3M51.1 986.6h4.5M51.1 976.45h3M51.1 966.3h4.5"/><rect x="50.4" y="1068" width="614.6" height="4.8" fill="#ff0000"/><path stroke="#111" stroke-width="1.2" d="M51 1067.6H61M653 1067.6H665"/><path stroke="#f00" stroke-width="1.3" d="M73.56 1068v-2.5M96.73 1068v-2.5M119.9 1068v-2.5M143.06 1068v-2.5M166.22 1068v-4M189.39 1068v-2.5M212.56 1068v-2.5M235.72 1068v-2.5M258.88 1068v-2.5M282.05 1068v-4M305.21 1068v-2.5M328.38 1068v-2.5M351.54 1068v-2.5M374.71 1068v-2.5M397.87 1068v-4M421.04 1068v-2.5M444.2 1068v-2.5M467.37 1068v-2.5M490.53 1068v-2.5M513.7 1068v-4M536.87 1068v-2.5M560.03 1068v-2.5M583.19 1068v-2.5M606.36 1068v-2.5M629.52 1068v-4M652.69 1068v-2.5"/><text transform="translate(48 1070.8) rotate(-90)" text-anchor="middle" font-size="10.5" fill="#333">0</text><text transform="translate(48 1048) rotate(-90)" text-anchor="middle" font-size="10.5" fill="#333">20</text><text transform="translate(48 1027.7) rotate(-90)" text-anchor="middle" font-size="10.5" fill="#333">40</text><text transform="translate(48 1007.4) rotate(-90)" text-anchor="middle" font-size="10.5" fill="#333">60</text><text transform="translate(48 987.1) rotate(-90)" text-anchor="middle" font-size="10.5" fill="#333">80</text><text transform="translate(33.6 1014) rotate(-90)" text-anchor="middle" font-size="10.5" textLength="80" lengthAdjust="spacingAndGlyphs" fill="#333">GC Percentage</text><text x="50.6" y="1086.3" font-size="10.6" fill="#2a2a2a">0</text><text x="146.6" y="1086.3" font-size="10.6" fill="#2a2a2a">500</text><text x="262.4" y="1086.3" font-size="10.6" fill="#2a2a2a">1000</text><text x="378.4" y="1086.3" font-size="10.6" fill="#2a2a2a">1500</text><text x="493.4" y="1086.3" font-size="10.6" fill="#2a2a2a">2000</text><text x="610" y="1086.3" font-size="10.6" fill="#2a2a2a">2500</text><text x="171" y="1086.3" font-size="10.6" fill="#2a2a2a">bp</text><text x="292.4" y="1086.3" font-size="10.6" fill="#2a2a2a">bp</text><text x="408.4" y="1086.3" font-size="10.6" fill="#2a2a2a">bp</text><text x="524.1" y="1086.3" font-size="10.6" fill="#2a2a2a">bp</text><text x="641" y="1086.3" font-size="10.6" fill="#2a2a2a">bp</text><text x="28.6" y="1097.4" font-size="10.5" textLength="18.6" lengthAdjust="spacingAndGlyphs" fill="#333">CpG</text><path fill="#f26a4b" d="M50.2 1088.6h0.8v9h-0.8zM52.3 1088.6h0.7v9h-0.7zM54.4 1088.6h0.8v9h-0.8zM56.5 1088.6h1.5v9h-1.5zM60.4 1088.6h3.9v9h-3.9zM68 1088.6h1v9h-1zM71.4 1088.6h1.6v9h-1.6zM76 1088.6h1.6v9h-1.6zM79.2 1088.6h1.6v9h-1.6zM84 1088.6h3v9h-3zM91.8 1088.6h0.8v9h-0.8zM93.6 1088.6h0.8v9h-0.8zM95.4 1088.6h1.6v9h-1.6zM102 1088.6h1v9h-1zM104.5 1088.6h1v9h-1zM107 1088.6h2v9h-2zM113.7 1088.6h7.1v9h-7.1zM135.7 1088.6h1.6v9h-1.6zM145 1088.6h1.7v9h-1.7zM157.3 1088.6h1.7v9h-1.7zM162 1088.6h2v9h-2zM214.9 1088.6h2.1v9h-2.1zM290.2 1088.6h0.8v9h-0.8zM292 1088.6h0.8v9h-0.8zM294 1088.6h2v9h-2zM298.8 1088.6h1.6v9h-1.6zM304.8 1088.6h1.2v9h-1.2zM307 1088.6h1v9h-1zM308.8 1088.6h1v9h-1zM313.7 1088.6h1.6v9h-1.6zM319.2 1088.6h1.3v9h-1.3zM321.5 1088.6h1.6v9h-1.6zM329.9 1088.6h1.1v9h-1.1zM333.5 1088.6h1.4v9h-1.4zM337.3 1088.6h1.5v9h-1.5zM342 1088.6h3.9v9h-3.9zM347.5 1088.6h1.2v9h-1.2zM362.4 1088.6h1.2v9h-1.2zM378.8 1088.6h1.2v9h-1.2zM390.3 1088.6h1.2v9h-1.2zM411.5 1088.6h1.2v9h-1.2zM418.8 1088.6h1.2v9h-1.2zM425.9 1088.6h1.2v9h-1.2zM432.5 1088.6h1.2v9h-1.2zM440.3 1088.6h1.2v9h-1.2zM461.2 1088.6h1.2v9h-1.2zM534.9 1088.6h1v9h-1zM537.2 1088.6h1.3v9h-1.3zM544.8 1088.6h1.2v9h-1.2zM563.1 1088.6h1v9h-1zM564.9 1088.6h0.9v9h-0.9zM569.4 1088.6h1.2v9h-1.2zM622.7 1088.6h1.2v9h-1.2zM650.2 1088.6h1.2v9h-1.2zM659.6 1088.6h1.2v9h-1.2z"/><text x="712" y="63.1" font-size="36" font-weight="bold" fill="#000">C</text><path fill="none" stroke="#6a6a6a" stroke-width="1.2" d="M742.1 102V388.3H1005.9"/><path stroke="#6a6a6a" stroke-width="1" d="M738.5 105.9h3.6"/><text x="737.1" y="109" text-anchor="end" font-size="8.8" fill="#333" stroke="#333" stroke-width="0.25">1</text><path stroke="#6a6a6a" stroke-width="1" d="M738.5 177.1h3.6"/><text x="737.1" y="180.2" text-anchor="end" font-size="8.8" fill="#333" stroke="#333" stroke-width="0.25">0.75</text><path stroke="#6a6a6a" stroke-width="1" d="M738.5 247.7h3.6"/><text x="737.1" y="250.8" text-anchor="end" font-size="8.8" fill="#333" stroke="#333" stroke-width="0.25">0.5</text><path stroke="#6a6a6a" stroke-width="1" d="M738.5 318.3h3.6"/><text x="737.1" y="321.4" text-anchor="end" font-size="8.8" fill="#333" stroke="#333" stroke-width="0.25">0.25</text><path stroke="#6a6a6a" stroke-width="1" d="M738.5 388.3h3.6"/><text x="737.1" y="391.4" text-anchor="end" font-size="8.8" fill="#333" stroke="#333" stroke-width="0.25">0</text><path stroke="#6a6a6a" stroke-width="1.1" d="M1005.9 385.3v6"/><path stroke="#6a6a6a" stroke-width="1" d="M778.5 388.3v2.5"/><text x="778.5" y="399.9" text-anchor="middle" font-size="8.6" fill="#333" stroke="#333" stroke-width="0.25">100</text><path stroke="#6a6a6a" stroke-width="1" d="M814.4 388.3v2.5"/><text x="814.4" y="399.9" text-anchor="middle" font-size="8.6" fill="#333" stroke="#333" stroke-width="0.25">200</text><path stroke="#6a6a6a" stroke-width="1" d="M850.5 388.3v2.5"/><text x="850.5" y="399.9" text-anchor="middle" font-size="8.6" fill="#333" stroke="#333" stroke-width="0.25">300</text><path stroke="#6a6a6a" stroke-width="1" d="M886.7 388.3v2.5"/><text x="886.7" y="399.9" text-anchor="middle" font-size="8.6" fill="#333" stroke="#333" stroke-width="0.25">400</text><path stroke="#6a6a6a" stroke-width="1" d="M922.9 388.3v2.5"/><text x="922.9" y="399.9" text-anchor="middle" font-size="8.6" fill="#333" stroke="#333" stroke-width="0.25">500</text><path stroke="#6a6a6a" stroke-width="1" d="M959 388.3v2.5"/><text x="959" y="399.9" text-anchor="middle" font-size="8.6" fill="#333" stroke="#333" stroke-width="0.25">600</text><path stroke="#6a6a6a" stroke-width="1" d="M995.2 388.3v2.5"/><text x="995.2" y="399.9" text-anchor="middle" font-size="8.6" fill="#333" stroke="#333" stroke-width="0.25">700</text><path fill="none" stroke="#a58a8a" stroke-width="1.7" stroke-linejoin="miter" d="M742.5 105.3 L744.95 105.3 L744.95 107.7 L747.4 107.7 L747.4 110.1 L752.8 110.1 L752.8 111.5 L755.6 111.5 L755.6 112.2 L762.4 112.8 L766.6 112.8 L766.6 114.9 L772.1 114.9 L772.1 115.6 L776.2 115.6 L776.2 120 L795.4 120 L798.1 120 L798.1 122.5 L805 122.5 L805 123.8 L809.1 123.8 L809.1 125.9 L817.3 125.9 L817.3 127.3 L820.05 127.3 L820.05 128.65 L822.8 128.65 L822.8 130 L839.3 130 L844.8 130 L844.8 132.1 L848.9 132.1 L848.9 136.2 L853 136.2 L853 141 L866.8 141 L866.8 141.7 L869.7 141.7 L869.7 143.17 L872.6 143.17 L872.6 144.63 L875.5 144.63 L875.5 146.1 L889.2 146.1 L889.2 146.8 L891.97 146.8 L891.97 149.3 L894.73 149.3 L894.73 151.8 L897.5 151.8 L897.5 154.3 L904.3 154.3 L904.3 156 L934.5 156 L938.6 156 L938.6 159.8 L941.35 159.8 L941.35 161.7 L944.1 161.7 L944.1 163.6 L957.8 163.6 L957.8 164.6 L961.95 164.6 L961.95 166.3 L966.1 166.3 L966.1 168 L968.83 168 L968.83 169.4 L971.57 169.4 L971.57 170.8 L974.3 170.8 L974.3 172.2 L977.5 172.2 L977.5 173.57 L980.7 173.57 L980.7 174.93 L983.9 174.93 L983.9 176.3 L987.35 176.3 L987.35 177.65 L990.8 177.65 L990.8 179 L998.35 179 L998.35 180.7 L1005.9 180.7 L1005.9 182.4"/><path stroke="#a58a8a" stroke-width="1.4" d="M752 106.9v6.4M762 109.56v6.4M772 111.7v6.4M776 112.4v6.4M799 119.3v6.4M803 119.3v6.4M809 120.6v6.4M818 124.1v6.4M839 126.8v6.4M842 126.8v6.4M848 128.9v6.4M867 138.5v6.4M872 139.97v6.4M881 142.9v6.4M887 142.9v6.4M891 143.6v6.4M898 151.1v6.4M904 151.1v6.4M913 152.8v6.4M916 152.8v6.4M921 152.8v6.4M927 152.8v6.4M936 152.8v6.4M949 160.4v6.4M952 160.4v6.4M960 161.4v6.4M967 164.8v6.4M973 167.6v6.4M978 170.37v6.4M981 171.73v6.4M986 173.1v6.4M997 175.8v6.4M1003 177.5v6.4"/><path fill="none" stroke="#1c1cb4" stroke-width="1.7" stroke-linejoin="miter" d="M742.5 105.3 L745.6 105.3 L745.6 107 L748.7 107 L748.7 108.7 L751.45 108.7 L751.45 111.45 L754.2 111.45 L754.2 114.2 L757.6 114.2 L757.6 117.6 L760 117.6 L760 119.35 L762.4 119.35 L762.4 121.1 L770.7 121.1 L770.7 123.1 L773.45 123.1 L773.45 124.5 L776.2 124.5 L776.2 125.9 L778.9 125.9 L778.9 130 L783 130 L783 132.7 L788.5 132.7 L788.5 134.1 L792 134.1 L792 136.9 L806.4 136.9 L811.9 136.9 L811.9 138.6 L820.1 138.6 L822.8 138.6 L822.8 141.7 L828.3 141.7 L828.3 143.7 L831.05 143.7 L831.05 145.1 L833.8 145.1 L833.8 146.5 L836.55 146.5 L836.55 147.85 L839.3 147.85 L839.3 149.2 L843.4 149.2 L843.4 151.3 L850.3 151.3 L853 151.3 L853 155.4 L865.4 155.4 L868.8 155.4 L868.8 159.5 L875 159.5 L875 160.9 L878 160.9 L878 163.1 L881 163.1 L881 165.3 L890.6 165.3 L890.6 166.7 L894.7 166.7 L894.7 170.8 L898.15 170.8 L898.15 173.2 L901.6 173.2 L901.6 175.6 L916.7 175.6 L916.7 177.6 L934.5 177.6 L941.4 177.6 L941.4 179 L952.3 179 L952.3 180.4 L955.1 180.4 L955.1 184.5 L957.85 184.5 L957.85 186.2 L960.6 186.2 L960.6 187.9 L971.6 187.9 L974.3 187.9 L974.3 194.1 L990.8 194.1 L993.55 194.1 L993.55 195.5 L996.3 195.5 L996.3 196.9 L999.5 196.9 L999.5 198.27 L1002.7 198.27 L1002.7 199.63 L1005.9 199.63 L1005.9 201"/><path stroke="#1c1cb4" stroke-width="1.4" d="M757 111v6.4M770 117.9v6.4M792 130.9v6.4M806 133.7v6.4M822 135.4v6.4M839 144.65v6.4M853 148.1v6.4M870 156.3v6.4M875 156.3v6.4M881 159.9v6.4M887 162.1v6.4M890 162.1v6.4M896 167.6v6.4M903 172.4v6.4M905 172.4v6.4M907 172.4v6.4M917 174.4v6.4M919 174.4v6.4M930 174.4v6.4M941 174.4v6.4M943 175.8v6.4M945 175.8v6.4M947 175.8v6.4M955 177.2v6.4M962 184.7v6.4M971 184.7v6.4M973 184.7v6.4M990 190.9v6.4M993 190.9v6.4M996 192.3v6.4M1004 196.43v6.4"/><rect x="763.4" y="325.1" width="17.4" height="3.3" fill="#1010d8" stroke="#1a1aa0" stroke-width="0.7"/><rect x="763.4" y="339.5" width="17.4" height="3.4" fill="#f5cccc" stroke="#b09898" stroke-width="0.7"/><text x="787" y="329.4" font-size="9.6" textLength="76" lengthAdjust="spacingAndGlyphs" fill="#808080">&gt;= 0.5445 (n=212)</text><text x="786.5" y="343.7" font-size="9.6" textLength="70" lengthAdjust="spacingAndGlyphs" fill="#808080">&lt; 0.5445 (n=212)</text><path fill="none" stroke="#6a6a6a" stroke-width="1.2" d="M743.3 439V734.7H1015.3"/><path stroke="#6a6a6a" stroke-width="1" d="M739.7 443.5h3.6"/><text x="738.3" y="446.6" text-anchor="end" font-size="8.8" fill="#333" stroke="#333" stroke-width="0.25">1</text><path stroke="#6a6a6a" stroke-width="1" d="M739.7 516.3h3.6"/><text x="738.3" y="519.4" text-anchor="end" font-size="8.8" fill="#333" stroke="#333" stroke-width="0.25">0.75</text><path stroke="#6a6a6a" stroke-width="1" d="M739.7 589.4h3.6"/><text x="738.3" y="592.5" text-anchor="end" font-size="8.8" fill="#333" stroke="#333" stroke-width="0.25">0.5</text><path stroke="#6a6a6a" stroke-width="1" d="M739.7 662.2h3.6"/><text x="738.3" y="665.3" text-anchor="end" font-size="8.8" fill="#333" stroke="#333" stroke-width="0.25">0.25</text><path stroke="#6a6a6a" stroke-width="1" d="M739.7 734.7h3.6"/><text x="738.3" y="737.8" text-anchor="end" font-size="8.8" fill="#333" stroke="#333" stroke-width="0.25">0</text><path stroke="#6a6a6a" stroke-width="1.1" d="M1015.3 731.7v6"/><path stroke="#6a6a6a" stroke-width="1" d="M780 734.7v2.5"/><text x="780" y="746.3" text-anchor="middle" font-size="8.6" fill="#333" stroke="#333" stroke-width="0.25">250</text><path stroke="#6a6a6a" stroke-width="1" d="M817.6 734.7v2.5"/><text x="817.6" y="746.3" text-anchor="middle" font-size="8.6" fill="#333" stroke="#333" stroke-width="0.25">500</text><path stroke="#6a6a6a" stroke-width="1" d="M854.4 734.7v2.5"/><text x="854.4" y="746.3" text-anchor="middle" font-size="8.6" fill="#333" stroke="#333" stroke-width="0.25">750</text><path stroke="#6a6a6a" stroke-width="1" d="M891.4 734.7v2.5"/><text x="891.4" y="746.3" text-anchor="middle" font-size="8.6" fill="#333" stroke="#333" stroke-width="0.25">1,000</text><path stroke="#6a6a6a" stroke-width="1" d="M928.4 734.7v2.5"/><text x="928.4" y="746.3" text-anchor="middle" font-size="8.6" fill="#333" stroke="#333" stroke-width="0.25">1,250</text><path stroke="#6a6a6a" stroke-width="1" d="M966 734.7v2.5"/><text x="966" y="746.3" text-anchor="middle" font-size="8.6" fill="#333" stroke="#333" stroke-width="0.25">1,500</text><path stroke="#6a6a6a" stroke-width="1" d="M1003.7 734.7v2.5"/><text x="1003.7" y="746.3" text-anchor="middle" font-size="8.6" fill="#333" stroke="#333" stroke-width="0.25">1,750</text><path fill="none" stroke="#a58a8a" stroke-width="1.7" stroke-linejoin="miter" d="M744.5 443.2 L746.75 443.2 L746.75 446.6 L749 446.6 L749 450 L752 450 L752 451.5 L755 451.5 L755 453 L759.4 453 L759.4 457.4 L766.9 457.4 L766.9 458.2 L770.65 458.2 L770.65 461.55 L774.4 461.55 L774.4 464.9 L778.15 464.9 L778.15 466.4 L781.9 466.4 L781.9 467.9 L784.15 467.9 L784.15 469.4 L786.4 469.4 L786.4 470.9 L789.35 470.9 L789.35 475.4 L792.3 475.4 L792.3 479.9 L794.92 479.9 L794.92 481.4 L797.55 481.4 L797.55 482.9 L800.17 482.9 L800.17 484.4 L802.8 484.4 L802.8 485.9 L805.8 485.9 L805.8 489.6 L808.8 489.6 L808.8 493.3 L820.8 493.3 L820.8 494.8 L823.75 494.8 L823.75 497.8 L826.7 497.8 L826.7 500.8 L829.7 500.8 L829.7 502.8 L832.7 502.8 L832.7 504.8 L835.7 504.8 L835.7 506.8 L838.7 506.8 L838.7 509.8 L841.7 509.8 L841.7 512.8 L844.7 512.8 L844.7 515.8 L847.7 515.8 L847.7 517.77 L850.7 517.77 L850.7 519.73 L853.7 519.73 L853.7 521.7 L856.67 521.7 L856.67 524.2 L859.63 524.2 L859.63 526.7 L862.6 526.7 L862.6 529.2 L866.35 529.2 L866.35 532.95 L870.1 532.95 L870.1 536.7 L875.1 536.7 L875.1 538.07 L880.1 538.07 L880.1 539.43 L885.1 539.43 L885.1 540.8 L900.8 540.8 L903.95 540.8 L903.95 543.95 L907.1 543.95 L907.1 547.1 L911.27 547.1 L911.27 548.67 L915.43 548.67 L915.43 550.23 L919.6 550.23 L919.6 551.8 L930.6 551.8 L930.6 553.35 L941.6 553.35 L941.6 554.9 L944.73 554.9 L944.73 558.03 L947.87 558.03 L947.87 561.17 L951 561.17 L951 564.3 L982.4 564.3 L982.4 565.9 L986.57 565.9 L986.57 567.47 L990.73 567.47 L990.73 569.03 L994.9 569.03 L994.9 570.6 L996.5 570.6 L996.5 583.1 L1001.2 583.1 L1001.2 584.67 L1005.9 584.67 L1005.9 586.25 L1010.6 586.25 L1010.6 587.83 L1015.3 587.83 L1015.3 589.4"/><path stroke="#a58a8a" stroke-width="1.4" d="M753 448.3v6.4M760 454.2v6.4M770 455v6.4M780 463.2v6.4M792 472.2v6.4M797 478.2v6.4M806 486.4v6.4M810 490.1v6.4M815 490.1v6.4M827 497.6v6.4M836 503.6v6.4M846 512.6v6.4M856 518.5v6.4M860 523.5v6.4M872 533.5v6.4M876 534.87v6.4M890 537.6v6.4M896 537.6v6.4M903 537.6v6.4M920 548.6v6.4M925 548.6v6.4M931 550.15v6.4M945 554.83v6.4M968 561.1v6.4M972 561.1v6.4M980 561.1v6.4M984 562.7v6.4M1014 584.62v6.4"/><path fill="none" stroke="#1c1cb4" stroke-width="1.7" stroke-linejoin="miter" d="M744.5 443.2 L746.75 443.2 L746.75 448.8 L749 448.8 L749 454.4 L752 454.4 L752 457.8 L755 457.8 L755 461.2 L757.97 461.2 L757.97 465.43 L760.93 465.43 L760.93 469.67 L763.9 469.67 L763.9 473.9 L765.4 473.9 L765.4 476.1 L775.9 476.1 L778.9 476.1 L778.9 482.9 L781.9 482.9 L781.9 485.87 L784.9 485.87 L784.9 488.83 L787.9 488.83 L787.9 491.8 L790.87 491.8 L790.87 494.8 L793.83 494.8 L793.83 497.8 L796.8 497.8 L796.8 500.8 L800.55 500.8 L800.55 504.55 L804.3 504.55 L804.3 508.3 L807.3 508.3 L807.3 512.05 L810.3 512.05 L810.3 515.8 L820.8 515.8 L820.8 516.5 L823.77 516.5 L823.77 518.23 L826.73 518.23 L826.73 519.97 L829.7 519.97 L829.7 521.7 L832.7 521.7 L832.7 525.45 L835.7 525.45 L835.7 529.2 L838.7 529.2 L838.7 531.7 L841.7 531.7 L841.7 534.2 L844.7 534.2 L844.7 536.7 L847.7 536.7 L847.7 538.7 L850.7 538.7 L850.7 540.7 L853.7 540.7 L853.7 542.7 L856.7 542.7 L856.7 544.95 L859.7 544.95 L859.7 547.2 L867.1 547.2 L867.1 548.7 L870.1 548.7 L870.1 560.6 L891.4 560.6 L891.4 561.2 L894.5 561.2 L894.5 565.9 L913.3 565.9 L916.5 565.9 L916.5 575.3 L919.63 575.3 L919.63 577.4 L922.77 577.4 L922.77 579.5 L925.9 579.5 L925.9 581.6 L951 581.6 L953.35 581.6 L953.35 587.05 L955.7 587.05 L955.7 592.5 L962.5 592.5 L962.5 594.1 L969.3 594.1 L969.3 595.7 L976.1 595.7 L976.1 597.3 L977.6 597.3 L977.6 605.1 L985.5 605.1 L987.1 605.1 L987.1 612.9 L1015.3 612.9"/><path stroke="#1c1cb4" stroke-width="1.4" d="M750 451.2v6.4M765 470.7v6.4M772 472.9v6.4M790 488.6v6.4M800 497.6v6.4M806 505.1v6.4M812 512.6v6.4M820 512.6v6.4M826 515.03v6.4M831 518.5v6.4M840 528.5v6.4M845 533.5v6.4M850 535.5v6.4M858 541.75v6.4M885 557.4v6.4M888 557.4v6.4M892 558v6.4M896 562.7v6.4M913 562.7v6.4M925 576.3v6.4M928 578.4v6.4M943 578.4v6.4M946 578.4v6.4M978 601.9v6.4M982 601.9v6.4M1011 609.7v6.4M1014 609.7v6.4"/><rect x="765.4" y="674.7" width="17.4" height="3.3" fill="#1010d8" stroke="#1a1aa0" stroke-width="0.7"/><rect x="765.4" y="689.1" width="17.4" height="3.4" fill="#f5cccc" stroke="#b09898" stroke-width="0.7"/><text x="789" y="679" font-size="9.6" textLength="76" lengthAdjust="spacingAndGlyphs" fill="#808080">&gt;= 0.5445 (n=212)</text><text x="788.5" y="693.3" font-size="9.6" textLength="70" lengthAdjust="spacingAndGlyphs" fill="#808080">&lt; 0.5445 (n=212)</text><path fill="none" stroke="#6a6a6a" stroke-width="1.2" d="M743.3 791V1086.2H1015.3"/><path stroke="#6a6a6a" stroke-width="1" d="M739.7 795.1h3.6"/><text x="738.3" y="798.2" text-anchor="end" font-size="8.8" fill="#333" stroke="#333" stroke-width="0.25">1</text><path stroke="#6a6a6a" stroke-width="1" d="M739.7 867.9h3.6"/><text x="738.3" y="871" text-anchor="end" font-size="8.8" fill="#333" stroke="#333" stroke-width="0.25">0.75</text><path stroke="#6a6a6a" stroke-width="1" d="M739.7 941h3.6"/><text x="738.3" y="944.1" text-anchor="end" font-size="8.8" fill="#333" stroke="#333" stroke-width="0.25">0.5</text><path stroke="#6a6a6a" stroke-width="1" d="M739.7 1013.1h3.6"/><text x="738.3" y="1016.2" text-anchor="end" font-size="8.8" fill="#333" stroke="#333" stroke-width="0.25">0.25</text><path stroke="#6a6a6a" stroke-width="1" d="M739.7 1086.2h3.6"/><text x="738.3" y="1089.3" text-anchor="end" font-size="8.8" fill="#333" stroke="#333" stroke-width="0.25">0</text><path stroke="#6a6a6a" stroke-width="1.1" d="M1015.3 1083.2v6"/><path stroke="#6a6a6a" stroke-width="1" d="M780 1086.2v2.5"/><text x="780" y="1097.8" text-anchor="middle" font-size="8.6" fill="#333" stroke="#333" stroke-width="0.25">500</text><path stroke="#6a6a6a" stroke-width="1" d="M817.6 1086.2v2.5"/><text x="817.6" y="1097.8" text-anchor="middle" font-size="8.6" fill="#333" stroke="#333" stroke-width="0.25">1,000</text><path stroke="#6a6a6a" stroke-width="1" d="M855 1086.2v2.5"/><text x="855" y="1097.8" text-anchor="middle" font-size="8.6" fill="#333" stroke="#333" stroke-width="0.25">1,500</text><path stroke="#6a6a6a" stroke-width="1" d="M892.4 1086.2v2.5"/><text x="892.4" y="1097.8" text-anchor="middle" font-size="8.6" fill="#333" stroke="#333" stroke-width="0.25">2,000</text><path stroke="#6a6a6a" stroke-width="1" d="M929.5 1086.2v2.5"/><text x="929.5" y="1097.8" text-anchor="middle" font-size="8.6" fill="#333" stroke="#333" stroke-width="0.25">2,500</text><path stroke="#6a6a6a" stroke-width="1" d="M966.4 1086.2v2.5"/><text x="966.4" y="1097.8" text-anchor="middle" font-size="8.6" fill="#333" stroke="#333" stroke-width="0.25">3,000</text><path stroke="#6a6a6a" stroke-width="1" d="M1003.6 1086.2v2.5"/><text x="1003.6" y="1097.8" text-anchor="middle" font-size="8.6" fill="#333" stroke="#333" stroke-width="0.25">3,500</text><path fill="none" stroke="#a58a8a" stroke-width="1.7" stroke-linejoin="miter" d="M743.9 795.5 L747.7 795.5 L747.7 805.4 L750.8 805.4 L750.8 807.7 L753.9 807.7 L753.9 810 L756.97 810 L756.97 813.1 L760.03 813.1 L760.03 816.2 L763.1 816.2 L763.1 819.3 L766.2 819.3 L766.2 828.5 L769.3 828.5 L769.3 832.4 L772.4 832.4 L772.4 836.3 L774.7 836.3 L774.7 840.9 L777 840.9 L777 845.5 L780.1 845.5 L780.1 847.05 L783.2 847.05 L783.2 848.6 L786.25 848.6 L786.25 853.2 L789.3 853.2 L789.3 857.8 L791.65 857.8 L791.65 863.2 L794 863.2 L794 868.6 L796.3 868.6 L796.3 871.7 L798.6 871.7 L798.6 874.8 L801.7 874.8 L801.7 880.2 L804.8 880.2 L804.8 885.6 L807.37 885.6 L807.37 888.67 L809.93 888.67 L809.93 891.73 L812.5 891.73 L812.5 894.8 L821.7 894.8 L824.8 894.8 L824.8 897.9 L827.9 897.9 L827.9 901 L830.2 901 L830.2 902.55 L832.5 902.55 L832.5 904.1 L836.6 904.1 L836.6 905.63 L840.7 905.63 L840.7 907.17 L844.8 907.17 L844.8 908.7 L847.15 908.7 L847.15 912.95 L849.5 912.95 L849.5 917.2 L863.3 917.2 L865.65 917.2 L865.65 921.45 L868 921.45 L868 925.7 L871.1 925.7 L871.1 934.9 L873.67 934.9 L873.67 937.47 L876.23 937.47 L876.23 940.03 L878.8 940.03 L878.8 942.6 L882 942.6 L882 945.7 L900.8 945.7 L903.9 945.7 L903.9 952.6 L925.9 952.6 L929 952.6 L929 969.2 L932.2 969.2 L933.7 969.2 L933.7 989.6 L946.3 989.6 L947.8 989.6 L947.8 1021 L999.6 1021"/><path stroke="#a58a8a" stroke-width="1.4" d="M752 804.5v6.4M760 809.9v6.4M770 829.2v6.4M778 842.3v6.4M792 860v6.4M800 871.6v6.4M806 882.4v6.4M820 891.6v6.4M822 891.6v6.4M832 899.35v6.4M846 905.5v6.4M852 914v6.4M860 914v6.4M866 918.25v6.4M880 939.4v6.4M884 942.5v6.4M890 942.5v6.4M895 942.5v6.4M912 949.4v6.4M915 949.4v6.4M921 949.4v6.4M926 949.4v6.4M930 966v6.4M946 986.4v6.4M997 1017.8v6.4M999 1017.8v6.4"/><path fill="none" stroke="#1c1cb4" stroke-width="1.7" stroke-linejoin="miter" d="M743.9 795.5 L746.2 795.5 L746.2 805.4 L748.5 805.4 L748.5 810.8 L750.8 810.8 L750.8 816.2 L753.9 816.2 L753.9 827.8 L757 827.8 L757 826.2 L760 826.2 L760 830.1 L762.35 830.1 L762.35 835.5 L764.7 835.5 L764.7 840.9 L767 840.9 L767 844.75 L769.3 844.75 L769.3 848.6 L771.6 848.6 L771.6 854 L773.9 854 L773.9 859.4 L777 859.4 L777 868.6 L784.7 868.6 L784.7 870.2 L787.8 870.2 L787.8 879.4 L790.9 879.4 L790.9 884.05 L794 884.05 L794 888.7 L797.05 888.7 L797.05 892.55 L800.1 892.55 L800.1 896.4 L802.45 896.4 L802.45 898.7 L804.8 898.7 L804.8 901 L806.3 901 L806.3 913.3 L817.1 913.3 L820.2 913.3 L820.2 917.2 L826.3 917.2 L826.3 918 L829.4 918 L829.4 926.4 L831.7 926.4 L831.7 930.3 L834 930.3 L834 934.2 L844.8 934.2 L847.9 934.2 L847.9 942.6 L851 942.6 L851 944.17 L854.1 944.17 L854.1 945.73 L857.2 945.73 L857.2 947.3 L860.3 947.3 L860.3 955.7 L863.1 955.7 L863.1 964.5 L878.8 964.5 L882 964.5 L882 969.2 L899.2 969.2 L900.8 969.2 L900.8 985.8 L922.7 985.8 L925.9 985.8 L925.9 995.9 L930.6 995.9 L932.2 995.9 L932.2 1016.3 L946.3 1016.3 L947.8 1016.3 L947.8 1028.8 L974.5 1028.8 L976.1 1028.8 L976.1 1039.8 L984 1039.8 L985.5 1039.8 L985.5 1052.4 L1015.3 1052.4"/><path stroke="#1c1cb4" stroke-width="1.4" d="M756 824.6v6.4M762 826.9v6.4M778 865.4v6.4M780 865.4v6.4M790 876.2v6.4M796 885.5v6.4M818 910.1v6.4M820 910.1v6.4M822 914v6.4M826 914v6.4M842 931v6.4M846 931v6.4M862 952.5v6.4M866 961.3v6.4M880 961.3v6.4M895 966v6.4M905 982.6v6.4M910 982.6v6.4M927 992.7v6.4M1001 1049.2v6.4M1010 1049.2v6.4"/><rect x="765.4" y="1024.9" width="17.4" height="3.3" fill="#1010d8" stroke="#1a1aa0" stroke-width="0.7"/><rect x="765.4" y="1039.3" width="17.4" height="3.4" fill="#f5cccc" stroke="#b09898" stroke-width="0.7"/><text x="789" y="1029.2" font-size="9.6" textLength="76" lengthAdjust="spacingAndGlyphs" fill="#808080">&gt;= 0.5445 (n=212)</text><text x="788.5" y="1043.5" font-size="9.6" textLength="70" lengthAdjust="spacingAndGlyphs" fill="#808080">&lt; 0.5445 (n=212)</text></svg></body></html>
